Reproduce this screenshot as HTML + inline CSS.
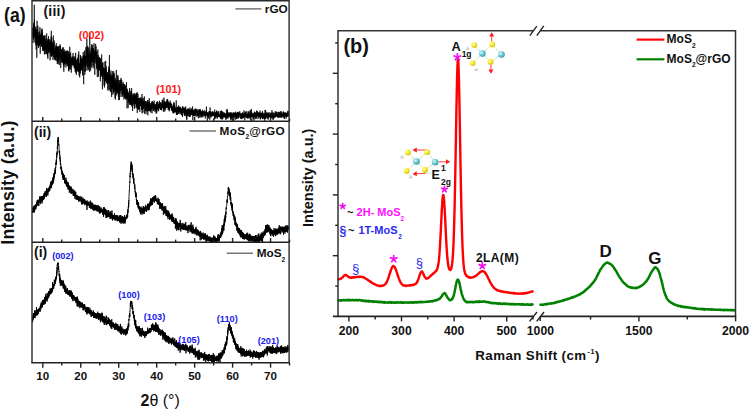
<!DOCTYPE html><html><head><meta charset="utf-8"><style>html,body{margin:0;padding:0;background:#fff;}svg{display:block;}text{font-family:"Liberation Sans",sans-serif;}</style></head><body>
<svg width="750" height="410" viewBox="0 0 750 410">
<rect width="750" height="410" fill="#fff"/>
<defs>
<radialGradient id="gy" cx="0.35" cy="0.35" r="0.7"><stop offset="0" stop-color="#ffffc0"/><stop offset="0.45" stop-color="#f8ec30"/><stop offset="1" stop-color="#d0c010"/></radialGradient>
<radialGradient id="gc" cx="0.35" cy="0.35" r="0.7"><stop offset="0" stop-color="#d8ffff"/><stop offset="0.5" stop-color="#70c8d0"/><stop offset="1" stop-color="#3a98a8"/></radialGradient>
<radialGradient id="gw" cx="0.35" cy="0.35" r="0.7"><stop offset="0" stop-color="#ffffff"/><stop offset="1" stop-color="#a8a8a8"/></radialGradient>
<marker id="ar" viewBox="0 0 6 6" refX="5" refY="3" markerWidth="4" markerHeight="4" orient="auto"><path d="M0,0 L6,3 L0,6 z" fill="#ff2020"/></marker>
</defs>
<clipPath id="c3"><rect x="32.0" y="0.75" width="257.1" height="120.55"/></clipPath>
<clipPath id="c2"><rect x="32.0" y="121.3" width="257.1" height="121.00000000000001"/></clipPath>
<clipPath id="c1"><rect x="32.0" y="242.3" width="257.1" height="120.5"/></clipPath>
<g fill="none" stroke="#000" stroke-linejoin="round">
<polyline points="32.50,33.92 32.58,35.91 32.65,32.27 32.73,28.35 32.80,31.23 32.88,27.83 32.95,34.68 33.03,43.01 33.10,31.25 33.18,30.48 33.25,37.70 33.33,36.90 33.40,35.34 33.48,28.74 33.55,34.60 33.63,39.32 33.70,26.27 33.78,32.03 33.85,22.82 33.93,26.81 34.01,23.34 34.08,33.70 34.16,27.14 34.23,37.06 34.31,4.77 34.38,34.24 34.46,19.41 34.53,32.11 34.61,35.30 34.68,36.39 34.76,25.97 34.83,32.74 34.91,29.61 34.98,30.75 35.06,42.71 35.13,30.88 35.21,35.86 35.28,41.75 35.36,32.48 35.44,35.53 35.51,37.00 35.59,36.76 35.66,28.65 35.74,36.95 35.81,45.13 35.89,26.80 35.96,42.08 36.04,37.46 36.11,32.71 36.19,49.45 36.26,41.69 36.34,29.37 36.41,37.46 36.49,40.69 36.56,35.92 36.64,41.47 36.71,36.81 36.79,57.79 36.86,46.39 36.94,33.17 37.02,38.75 37.09,20.80 37.17,38.39 37.24,30.21 37.32,34.08 37.39,35.54 37.47,43.44 37.54,45.04 37.62,29.66 37.69,33.03 37.77,42.09 37.84,25.68 37.92,35.28 37.99,37.62 38.07,46.11 38.14,42.63 38.22,36.36 38.29,36.16 38.37,36.95 38.45,48.03 38.52,35.96 38.60,36.79 38.67,40.92 38.75,38.04 38.82,37.63 38.90,32.00 38.97,38.89 39.05,36.27 39.12,46.29 39.20,43.17 39.27,39.04 39.35,43.38 39.42,37.21 39.50,45.85 39.57,39.39 39.65,43.08 39.72,31.59 39.80,41.73 39.88,29.28 39.95,27.21 40.03,37.91 40.10,34.31 40.18,40.91 40.25,53.73 40.33,34.92 40.40,36.26 40.48,41.40 40.55,43.22 40.63,39.19 40.70,39.07 40.78,44.69 40.85,43.64 40.93,34.22 41.00,40.11 41.08,40.87 41.15,34.30 41.23,42.37 41.31,35.63 41.38,46.84 41.46,42.16 41.53,41.60 41.61,37.54 41.68,40.48 41.76,29.15 41.83,34.48 41.91,43.61 41.98,28.59 42.06,46.68 42.13,31.07 42.21,46.29 42.28,36.68 42.36,46.58 42.43,42.75 42.51,32.77 42.58,49.66 42.66,50.91 42.74,41.92 42.81,40.76 42.89,41.54 42.96,36.73 43.04,49.29 43.11,39.53 43.19,42.58 43.26,38.23 43.34,39.34 43.41,35.54 43.49,50.83 43.56,42.48 43.64,49.29 43.71,43.69 43.79,39.57 43.86,41.87 43.94,40.59 44.01,44.08 44.09,41.91 44.16,42.46 44.24,36.15 44.32,39.66 44.39,54.41 44.47,40.69 44.54,38.52 44.62,46.89 44.69,53.35 44.77,36.47 44.84,43.96 44.92,41.56 44.99,34.98 45.07,49.86 45.14,45.47 45.22,46.13 45.29,41.36 45.37,48.58 45.44,42.81 45.52,45.24 45.59,39.64 45.67,39.10 45.75,54.22 45.82,43.46 45.90,48.24 45.97,46.41 46.05,44.10 46.12,43.79 46.20,50.54 46.27,45.15 46.35,46.10 46.42,47.19 46.50,54.02 46.57,51.17 46.65,33.37 46.72,44.02 46.80,39.29 46.87,52.96 46.95,53.11 47.02,46.69 47.10,50.72 47.18,52.16 47.25,52.49 47.33,53.05 47.40,45.08 47.48,56.57 47.55,40.57 47.63,52.85 47.70,50.75 47.78,52.98 47.85,58.84 47.93,56.59 48.00,41.39 48.08,38.29 48.15,52.81 48.23,42.26 48.30,48.08 48.38,53.03 48.45,38.73 48.53,36.08 48.61,49.77 48.68,48.56 48.76,46.92 48.83,48.58 48.91,43.44 48.98,39.72 49.06,47.48 49.13,42.89 49.21,39.07 49.28,51.42 49.36,48.19 49.43,50.90 49.51,42.93 49.58,44.86 49.66,42.93 49.73,43.60 49.81,49.81 49.88,44.25 49.96,50.77 50.03,50.70 50.11,60.33 50.19,40.88 50.26,53.90 50.34,48.36 50.41,48.81 50.49,40.67 50.56,46.32 50.64,53.19 50.71,48.53 50.79,49.48 50.86,47.39 50.94,55.63 51.01,48.98 51.09,36.63 51.16,45.23 51.24,38.01 51.31,30.77 51.39,46.24 51.46,56.84 51.54,49.57 51.62,42.69 51.69,44.04 51.77,55.80 51.84,37.78 51.92,49.74 51.99,49.20 52.07,49.75 52.14,54.13 52.22,52.73 52.29,50.87 52.37,43.79 52.44,52.61 52.52,45.89 52.59,55.98 52.67,42.66 52.74,49.10 52.82,49.88 52.89,42.48 52.97,59.71 53.05,58.28 53.12,47.47 53.20,54.47 53.27,52.30 53.35,35.49 53.42,51.66 53.50,49.95 53.57,50.81 53.65,44.32 53.72,48.91 53.80,49.47 53.87,57.20 53.95,52.44 54.02,50.58 54.10,53.47 54.17,47.58 54.25,48.56 54.32,40.59 54.40,59.64 54.48,56.30 54.55,56.08 54.63,54.73 54.70,51.65 54.78,52.28 54.85,49.71 54.93,50.03 55.00,51.53 55.08,59.74 55.15,54.43 55.23,51.04 55.30,48.18 55.38,47.92 55.45,60.48 55.53,54.40 55.60,52.00 55.68,49.74 55.75,45.53 55.83,51.40 55.91,56.70 55.98,49.69 56.06,50.66 56.13,50.75 56.21,52.64 56.28,43.20 56.36,50.82 56.43,47.43 56.51,57.17 56.58,48.00 56.66,55.56 56.73,60.88 56.81,50.71 56.88,49.16 56.96,53.62 57.03,52.60 57.11,47.14 57.18,55.28 57.26,63.97 57.33,51.39 57.41,51.75 57.49,47.13 57.56,54.76 57.64,46.13 57.71,46.96 57.79,60.26 57.86,48.20 57.94,59.27 58.01,61.78 58.09,54.83 58.16,56.52 58.24,64.32 58.31,52.49 58.39,50.36 58.46,46.22 58.54,53.99 58.61,62.00 58.69,59.19 58.76,48.75 58.84,49.29 58.92,51.30 58.99,55.76 59.07,53.08 59.14,55.46 59.22,55.98 59.29,52.76 59.37,54.25 59.44,55.67 59.52,54.14 59.59,57.44 59.67,65.03 59.74,58.06 59.82,55.17 59.89,45.65 59.97,57.13 60.04,44.36 60.12,47.38 60.19,59.89 60.27,59.14 60.35,54.50 60.42,46.00 60.50,53.42 60.57,51.80 60.65,59.08 60.72,68.04 60.80,56.91 60.87,51.51 60.95,49.43 61.02,55.60 61.10,55.00 61.17,49.73 61.25,56.73 61.32,58.95 61.40,62.31 61.47,62.10 61.55,62.28 61.62,53.81 61.70,59.28 61.78,55.80 61.85,54.46 61.93,54.79 62.00,49.61 62.08,48.88 62.15,61.15 62.23,55.83 62.30,58.11 62.38,62.45 62.45,47.59 62.53,52.82 62.60,58.10 62.68,59.33 62.75,55.20 62.83,62.91 62.90,58.50 62.98,50.81 63.05,52.40 63.13,61.89 63.21,60.09 63.28,47.30 63.36,64.99 63.43,60.97 63.51,65.06 63.58,55.73 63.66,56.26 63.73,51.81 63.81,71.73 63.88,57.06 63.96,66.67 64.03,63.44 64.11,59.05 64.18,49.16 64.26,56.19 64.33,63.63 64.41,51.58 64.48,64.20 64.56,60.28 64.63,52.85 64.71,55.84 64.79,56.11 64.86,58.37 64.94,55.79 65.01,54.27 65.09,57.14 65.16,53.29 65.24,51.92 65.31,58.66 65.39,63.73 65.46,50.77 65.54,59.08 65.61,55.61 65.69,53.89 65.76,57.17 65.84,61.59 65.91,67.36 65.99,55.15 66.06,61.47 66.14,58.22 66.22,51.21 66.29,62.69 66.37,58.75 66.44,62.87 66.52,59.42 66.59,53.89 66.67,59.22 66.74,61.04 66.82,65.00 66.89,55.05 66.97,59.75 67.04,50.78 67.12,63.54 67.19,54.31 67.27,50.48 67.34,59.88 67.42,66.16 67.49,52.14 67.57,54.53 67.65,57.81 67.72,54.41 67.80,62.52 67.87,56.23 67.95,56.74 68.02,63.75 68.10,56.66 68.17,63.05 68.25,55.60 68.32,54.37 68.40,51.10 68.47,70.86 68.55,59.28 68.62,62.33 68.70,60.92 68.77,61.98 68.85,61.45 68.92,71.38 69.00,55.75 69.08,53.05 69.15,56.00 69.23,54.33 69.30,65.45 69.38,65.88 69.45,56.47 69.53,54.24 69.60,59.79 69.68,69.10 69.75,46.81 69.83,64.61 69.90,56.17 69.98,67.43 70.05,56.26 70.13,60.51 70.20,54.09 70.28,56.94 70.35,69.50 70.43,66.56 70.51,60.14 70.58,57.71 70.66,52.35 70.73,60.33 70.81,62.30 70.88,62.07 70.96,62.07 71.03,56.69 71.11,62.31 71.18,62.51 71.26,69.57 71.33,72.65 71.41,62.13 71.48,58.87 71.56,62.61 71.63,59.80 71.71,59.14 71.78,62.79 71.86,57.66 71.93,66.39 72.01,62.70 72.09,64.61 72.16,62.39 72.24,59.58 72.31,58.47 72.39,62.25 72.46,60.66 72.54,64.82 72.61,63.62 72.69,56.54 72.76,64.09 72.84,56.75 72.91,60.61 72.99,62.36 73.06,53.08 73.14,64.49 73.21,64.85 73.29,63.29 73.36,61.96 73.44,62.29 73.52,59.19 73.59,62.95 73.67,61.53 73.74,64.96 73.82,58.26 73.89,65.84 73.97,65.42 74.04,64.00 74.12,62.51 74.19,67.75 74.27,56.25 74.34,67.40 74.42,66.33 74.49,66.60 74.57,67.19 74.64,61.85 74.72,63.97 74.79,68.70 74.87,67.69 74.95,66.59 75.02,57.70 75.10,68.44 75.17,71.80 75.25,71.03 75.32,67.04 75.40,57.74 75.47,70.87 75.55,65.23 75.62,52.77 75.70,68.09 75.77,58.32 75.85,59.40 75.92,62.93 76.00,73.03 76.07,70.66 76.15,67.85 76.22,68.99 76.30,74.95 76.38,66.01 76.45,65.32 76.53,59.94 76.60,62.99 76.68,68.98 76.75,68.86 76.83,67.37 76.90,72.13 76.98,62.71 77.05,66.57 77.13,70.81 77.20,70.05 77.28,71.01 77.35,69.08 77.43,65.30 77.50,68.93 77.58,61.58 77.65,58.15 77.73,70.13 77.80,66.70 77.88,68.67 77.96,57.79 78.03,64.99 78.11,63.70 78.18,62.24 78.26,54.64 78.33,65.05 78.41,71.73 78.48,68.88 78.56,63.47 78.63,66.63 78.71,70.80 78.78,51.49 78.86,65.87 78.93,69.48 79.01,70.18 79.08,75.73 79.16,72.56 79.23,67.97 79.31,67.85 79.39,72.58 79.46,63.07 79.54,65.76 79.61,70.94 79.69,77.42 79.76,64.90 79.84,65.45 79.91,66.76 79.99,73.07 80.06,65.36 80.14,73.66 80.21,60.01 80.29,64.30 80.36,55.01 80.44,69.60 80.51,70.98 80.59,56.58 80.66,59.83 80.74,66.78 80.82,61.10 80.89,56.14 80.97,70.48 81.04,67.33 81.12,67.23 81.19,61.67 81.27,70.08 81.34,62.81 81.42,70.29 81.49,58.79 81.57,59.02 81.64,64.93 81.72,59.67 81.79,67.41 81.87,64.94 81.94,58.09 82.02,63.67 82.09,61.14 82.17,68.28 82.25,59.31 82.32,60.31 82.40,69.68 82.47,75.48 82.55,74.01 82.62,62.76 82.70,63.55 82.77,71.04 82.85,61.36 82.92,56.33 83.00,62.55 83.07,64.38 83.15,56.86 83.22,52.01 83.30,53.12 83.37,65.23 83.45,56.85 83.52,60.34 83.60,62.31 83.68,84.25 83.75,58.92 83.83,63.70 83.90,55.49 83.98,58.49 84.05,54.51 84.13,67.08 84.20,60.19 84.28,55.93 84.35,58.12 84.43,58.81 84.50,64.18 84.58,50.56 84.65,53.78 84.73,57.61 84.80,74.77 84.88,65.38 84.95,59.00 85.03,63.84 85.10,71.78 85.18,58.12 85.26,57.29 85.33,66.64 85.41,62.33 85.48,63.34 85.56,56.25 85.63,70.75 85.71,69.43 85.78,62.55 85.86,63.22 85.93,46.90 86.01,62.86 86.08,57.82 86.16,61.55 86.23,63.01 86.31,56.80 86.38,48.61 86.46,60.99 86.53,54.25 86.61,56.69 86.69,54.99 86.76,56.54 86.84,38.68 86.91,65.92 86.99,60.03 87.06,65.22 87.14,70.47 87.21,58.52 87.29,47.34 87.36,52.85 87.44,50.89 87.51,55.17 87.59,67.58 87.66,45.90 87.74,60.24 87.81,48.83 87.89,59.90 87.96,57.37 88.04,56.08 88.12,57.53 88.19,54.63 88.27,54.15 88.34,47.51 88.42,57.69 88.49,69.28 88.57,70.10 88.64,68.18 88.72,62.17 88.79,53.56 88.87,66.72 88.94,57.38 89.02,57.28 89.09,55.88 89.17,58.25 89.24,54.95 89.32,57.13 89.39,65.70 89.47,55.29 89.55,71.92 89.62,57.18 89.70,56.11 89.77,33.34 89.85,62.06 89.92,50.59 90.00,56.29 90.07,63.39 90.15,59.30 90.22,58.37 90.30,67.42 90.37,53.31 90.45,58.12 90.52,54.31 90.60,67.05 90.67,70.73 90.75,53.34 90.82,54.24 90.90,61.83 90.98,61.47 91.05,66.50 91.13,47.56 91.20,62.40 91.28,55.73 91.35,53.35 91.43,61.06 91.50,51.71 91.58,44.29 91.65,55.24 91.73,47.99 91.80,53.44 91.88,60.00 91.95,59.62 92.03,67.84 92.10,56.33 92.18,47.72 92.25,52.74 92.33,51.68 92.40,49.74 92.48,60.44 92.56,53.44 92.63,44.80 92.71,62.15 92.78,56.91 92.86,59.95 92.93,58.32 93.01,61.75 93.08,57.89 93.16,65.71 93.23,60.42 93.31,60.21 93.38,60.33 93.46,48.11 93.53,56.57 93.61,55.95 93.68,59.02 93.76,48.73 93.83,68.40 93.91,58.35 93.99,49.69 94.06,43.25 94.14,55.81 94.21,57.08 94.29,52.93 94.36,58.29 94.44,53.44 94.51,61.33 94.59,52.88 94.66,57.43 94.74,64.19 94.81,74.78 94.89,51.00 94.96,54.61 95.04,52.11 95.11,62.94 95.19,50.07 95.26,54.52 95.34,57.58 95.42,51.27 95.49,51.45 95.57,54.72 95.64,43.88 95.72,48.32 95.79,55.30 95.87,59.14 95.94,56.97 96.02,46.36 96.09,55.25 96.17,63.85 96.24,62.31 96.32,58.12 96.39,52.76 96.47,63.13 96.54,55.05 96.62,51.16 96.69,53.75 96.77,69.14 96.85,60.93 96.92,67.43 97.00,56.43 97.07,66.19 97.15,55.86 97.22,59.02 97.30,77.08 97.37,65.56 97.45,57.11 97.52,60.08 97.60,63.00 97.67,69.13 97.75,57.79 97.82,49.49 97.90,59.51 97.97,61.65 98.05,62.44 98.12,70.72 98.20,64.14 98.27,67.63 98.35,54.93 98.43,68.30 98.50,76.69 98.58,67.97 98.65,64.64 98.73,64.13 98.80,58.46 98.88,57.21 98.95,62.82 99.03,66.78 99.10,68.82 99.18,62.43 99.25,66.20 99.33,62.45 99.40,65.24 99.48,63.71 99.55,57.14 99.63,64.72 99.70,70.81 99.78,58.72 99.86,63.66 99.93,69.78 100.01,58.44 100.08,66.84 100.16,58.76 100.23,73.37 100.31,81.25 100.38,79.45 100.46,64.81 100.53,71.25 100.61,67.31 100.68,67.31 100.76,76.93 100.83,58.24 100.91,73.94 100.98,66.83 101.06,76.50 101.13,68.64 101.21,63.15 101.29,69.48 101.36,72.61 101.44,68.17 101.51,71.25 101.59,64.80 101.66,54.44 101.74,74.32 101.81,73.14 101.89,69.69 101.96,69.30 102.04,75.71 102.11,66.16 102.19,64.68 102.26,68.17 102.34,77.21 102.41,89.31 102.49,77.48 102.56,65.80 102.64,62.96 102.72,78.30 102.79,69.69 102.87,62.08 102.94,68.27 103.02,76.69 103.09,78.49 103.17,68.23 103.24,73.71 103.32,75.81 103.39,67.24 103.47,73.76 103.54,71.42 103.62,68.33 103.69,68.74 103.77,72.43 103.84,72.32 103.92,68.66 103.99,69.67 104.07,85.62 104.15,73.99 104.22,78.38 104.30,80.51 104.37,76.74 104.45,87.51 104.52,68.02 104.60,78.48 104.67,71.48 104.75,85.33 104.82,84.46 104.90,61.52 104.97,67.85 105.05,78.26 105.12,79.16 105.20,78.93 105.27,73.98 105.35,77.39 105.42,78.74 105.50,74.28 105.57,81.30 105.65,60.88 105.73,79.07 105.80,68.78 105.88,81.31 105.95,74.03 106.03,70.04 106.10,78.00 106.18,70.14 106.25,70.25 106.33,66.31 106.40,75.97 106.48,79.31 106.55,82.67 106.63,75.59 106.70,83.04 106.78,76.80 106.85,76.23 106.93,80.43 107.00,83.52 107.08,75.04 107.16,75.75 107.23,76.36 107.31,77.96 107.38,72.06 107.46,83.95 107.53,75.34 107.61,80.70 107.68,72.97 107.76,80.28 107.83,80.58 107.91,75.76 107.98,90.66 108.06,80.77 108.13,89.37 108.21,84.52 108.28,74.83 108.36,76.63 108.43,81.66 108.51,79.50 108.59,79.53 108.66,77.61 108.74,68.58 108.81,78.18 108.89,66.34 108.96,81.95 109.04,75.48 109.11,75.65 109.19,78.71 109.26,81.73 109.34,71.68 109.41,55.00 109.49,74.06 109.56,68.36 109.64,74.84 109.71,90.09 109.79,74.50 109.86,84.69 109.94,72.83 110.02,82.78 110.09,79.22 110.17,80.84 110.24,84.62 110.32,91.68 110.39,82.60 110.47,82.27 110.54,75.93 110.62,85.13 110.69,80.36 110.77,86.74 110.84,81.71 110.92,92.20 110.99,70.60 111.07,80.50 111.14,87.43 111.22,80.36 111.29,77.88 111.37,81.02 111.45,74.66 111.52,83.41 111.60,96.89 111.67,89.49 111.75,76.58 111.82,78.02 111.90,80.80 111.97,88.97 112.05,78.57 112.12,79.40 112.20,88.50 112.27,88.46 112.35,81.45 112.42,77.28 112.50,74.90 112.57,79.83 112.65,71.19 112.72,88.21 112.80,80.44 112.87,86.82 112.95,94.74 113.03,90.86 113.10,77.78 113.18,89.26 113.25,90.95 113.33,74.77 113.40,79.18 113.48,83.99 113.55,75.67 113.63,92.98 113.70,71.30 113.78,78.64 113.85,83.39 113.93,83.68 114.00,85.93 114.08,86.57 114.15,83.92 114.23,91.48 114.30,73.32 114.38,85.25 114.46,81.34 114.53,86.08 114.61,86.61 114.68,80.40 114.76,81.94 114.83,89.90 114.91,87.49 114.98,81.87 115.06,96.86 115.13,98.37 115.21,77.72 115.28,87.43 115.36,99.54 115.43,90.14 115.51,87.10 115.58,84.80 115.66,83.02 115.73,84.85 115.81,83.05 115.89,90.12 115.96,83.96 116.04,83.76 116.11,79.68 116.19,85.96 116.26,95.45 116.34,69.96 116.41,91.94 116.49,88.33 116.56,89.11 116.64,88.34 116.71,86.78 116.79,85.82 116.86,84.89 116.94,90.62 117.01,80.81 117.09,93.78 117.16,86.85 117.24,82.72 117.32,84.14 117.39,83.18 117.47,87.66 117.54,83.04 117.62,92.92 117.69,82.78 117.77,74.95 117.84,83.13 117.92,76.44 117.99,86.84 118.07,92.65 118.14,90.52 118.22,80.15 118.29,83.21 118.37,96.54 118.44,88.94 118.52,87.33 118.59,92.85 118.67,100.16 118.75,94.17 118.82,88.19 118.90,89.35 118.97,90.75 119.05,84.42 119.12,80.01 119.20,87.95 119.27,82.84 119.35,87.45 119.42,88.31 119.50,99.89 119.57,83.54 119.65,87.33 119.72,87.16 119.80,90.28 119.87,93.44 119.95,85.64 120.02,84.00 120.10,79.88 120.17,83.57 120.25,91.06 120.33,88.61 120.40,83.28 120.48,86.59 120.55,88.69 120.63,91.12 120.70,85.64 120.78,84.17 120.85,79.58 120.93,82.99 121.00,96.95 121.08,77.91 121.15,87.24 121.23,90.08 121.30,87.17 121.38,85.06 121.45,88.84 121.53,89.17 121.60,88.84 121.68,79.98 121.76,88.63 121.83,85.18 121.91,86.76 121.98,90.64 122.06,92.74 122.13,94.05 122.21,87.24 122.28,94.28 122.36,95.56 122.43,95.43 122.51,96.72 122.58,89.25 122.66,89.17 122.73,94.11 122.81,83.48 122.88,91.22 122.96,87.67 123.03,88.52 123.11,81.92 123.19,86.11 123.26,90.39 123.34,94.84 123.41,95.39 123.49,90.28 123.56,89.82 123.64,86.79 123.71,92.78 123.79,89.72 123.86,93.87 123.94,99.41 124.01,90.94 124.09,84.01 124.16,87.11 124.24,84.34 124.31,85.65 124.39,97.61 124.46,92.55 124.54,84.33 124.62,94.69 124.69,97.62 124.77,90.03 124.84,88.61 124.92,90.28 124.99,93.28 125.07,95.01 125.14,97.63 125.22,97.83 125.29,97.78 125.37,98.67 125.44,95.47 125.52,85.31 125.59,91.92 125.67,94.07 125.74,90.91 125.82,97.00 125.89,91.18 125.97,88.64 126.04,99.70 126.12,96.17 126.20,94.19 126.27,97.53 126.35,98.24 126.42,95.00 126.50,82.21 126.57,90.49 126.65,91.59 126.72,89.26 126.80,94.76 126.87,99.39 126.95,91.81 127.02,108.32 127.10,103.45 127.17,92.24 127.25,88.77 127.32,95.55 127.40,96.49 127.47,91.45 127.55,98.31 127.63,92.62 127.70,90.75 127.78,95.81 127.85,98.57 127.93,92.33 128.00,96.76 128.08,94.94 128.15,108.12 128.23,92.37 128.30,101.82 128.38,95.48 128.45,95.24 128.53,99.11 128.60,99.97 128.68,101.71 128.75,97.62 128.83,93.58 128.90,93.95 128.98,98.68 129.06,99.08 129.13,102.77 129.21,98.53 129.28,101.44 129.36,103.53 129.43,97.66 129.51,90.49 129.58,91.93 129.66,88.08 129.73,104.24 129.81,93.64 129.88,102.81 129.96,100.07 130.03,105.06 130.11,102.03 130.18,97.30 130.26,96.95 130.33,98.27 130.41,98.73 130.49,95.75 130.56,97.98 130.64,105.14 130.71,90.93 130.79,99.45 130.86,94.51 130.94,99.28 131.01,102.15 131.09,98.37 131.16,101.99 131.24,91.95 131.31,103.54 131.39,96.30 131.46,101.58 131.54,99.77 131.61,88.06 131.69,95.90 131.76,100.10 131.84,105.80 131.92,100.49 131.99,100.41 132.07,93.42 132.14,105.46 132.22,107.08 132.29,99.64 132.37,98.65 132.44,103.53 132.52,103.37 132.59,111.02 132.67,102.76 132.74,105.08 132.82,102.11 132.89,95.80 132.97,105.50 133.04,94.86 133.12,99.15 133.19,101.23 133.27,103.77 133.34,101.88 133.42,101.80 133.50,97.10 133.57,94.97 133.65,100.58 133.72,97.45 133.80,95.04 133.87,95.26 133.95,98.48 134.02,92.95 134.10,95.06 134.17,93.93 134.25,101.38 134.32,102.33 134.40,108.86 134.47,94.68 134.55,98.03 134.62,104.52 134.70,99.98 134.77,99.58 134.85,107.82 134.93,99.61 135.00,96.36 135.08,95.75 135.15,102.42 135.23,102.33 135.30,95.66 135.38,97.24 135.45,103.35 135.53,103.55 135.60,98.72 135.68,103.79 135.75,103.62 135.83,94.31 135.90,100.18 135.98,103.09 136.05,99.22 136.13,93.08 136.20,100.43 136.28,104.54 136.36,107.82 136.43,93.05 136.51,106.41 136.58,97.30 136.66,105.48 136.73,106.59 136.81,105.64 136.88,102.42 136.96,97.36 137.03,104.33 137.11,99.16 137.18,92.20 137.26,112.94 137.33,104.76 137.41,109.07 137.48,98.58 137.56,107.77 137.63,108.26 137.71,108.15 137.79,102.14 137.86,97.65 137.94,95.28 138.01,93.91 138.09,95.87 138.16,102.73 138.24,98.65 138.31,109.17 138.39,102.07 138.46,109.82 138.54,107.45 138.61,102.41 138.69,107.17 138.76,99.71 138.84,101.41 138.91,106.12 138.99,98.08 139.06,101.72 139.14,97.86 139.22,103.27 139.29,108.95 139.37,100.09 139.44,103.76 139.52,99.62 139.59,98.72 139.67,98.44 139.74,108.43 139.82,111.80 139.89,104.89 139.97,100.50 140.04,105.76 140.12,101.97 140.19,106.17 140.27,104.32 140.34,104.31 140.42,105.54 140.49,101.23 140.57,101.91 140.64,97.15 140.72,101.83 140.80,102.58 140.87,102.97 140.95,100.06 141.02,103.92 141.10,105.22 141.17,98.50 141.25,100.72 141.32,100.28 141.40,106.37 141.47,109.84 141.55,106.80 141.62,102.54 141.70,109.03 141.77,98.45 141.85,109.20 141.92,101.57 142.00,94.07 142.07,113.33 142.15,109.56 142.23,100.37 142.30,104.63 142.38,103.31 142.45,104.45 142.53,98.91 142.60,101.76 142.68,105.81 142.75,104.98 142.83,108.41 142.90,104.53 142.98,112.45 143.05,101.82 143.13,105.23 143.20,97.72 143.28,100.05 143.35,109.00 143.43,101.19 143.50,106.29 143.58,104.28 143.66,100.93 143.73,103.35 143.81,102.81 143.88,102.93 143.96,107.19 144.03,106.87 144.11,102.71 144.18,101.61 144.26,105.68 144.33,104.41 144.41,96.43 144.48,113.76 144.56,107.66 144.63,104.73 144.71,104.29 144.78,102.02 144.86,101.89 144.93,101.59 145.01,103.65 145.09,103.57 145.16,107.50 145.24,103.72 145.31,104.42 145.39,101.06 145.46,110.57 145.54,106.83 145.61,111.08 145.69,107.83 145.76,110.13 145.84,104.44 145.91,107.63 145.99,114.16 146.06,101.33 146.14,109.19 146.21,110.91 146.29,106.77 146.36,107.91 146.44,109.60 146.52,103.31 146.59,106.85 146.67,102.66 146.74,103.33 146.82,103.55 146.89,105.13 146.97,106.11 147.04,107.13 147.12,101.04 147.19,112.17 147.27,109.49 147.34,108.11 147.42,104.60 147.49,105.50 147.57,107.59 147.64,107.17 147.72,100.43 147.79,108.27 147.87,115.30 147.94,99.98 148.02,109.15 148.10,107.16 148.17,105.64 148.25,110.40 148.32,102.26 148.40,106.58 148.47,110.74 148.55,105.47 148.62,104.79 148.70,106.50 148.77,104.75 148.85,111.07 148.92,103.33 149.00,108.97 149.07,102.29 149.15,108.36 149.22,105.94 149.30,98.20 149.37,106.29 149.45,102.99 149.53,104.96 149.60,111.15 149.68,102.90 149.75,103.10 149.83,110.87 149.90,106.78 149.98,111.19 150.05,107.45 150.13,103.75 150.20,106.28 150.28,110.28 150.35,109.41 150.43,106.53 150.50,110.31 150.58,106.21 150.65,104.79 150.73,112.51 150.80,106.61 150.88,103.14 150.96,105.16 151.03,108.86 151.11,108.61 151.18,106.24 151.26,104.63 151.33,106.76 151.41,101.59 151.48,102.74 151.56,109.17 151.63,105.28 151.71,107.90 151.78,110.49 151.86,108.77 151.93,106.86 152.01,113.29 152.08,108.86 152.16,105.76 152.23,109.08 152.31,108.11 152.39,104.28 152.46,107.11 152.54,106.41 152.61,100.96 152.69,106.41 152.76,106.09 152.84,105.63 152.91,101.99 152.99,105.91 153.06,106.87 153.14,107.31 153.21,103.59 153.29,108.94 153.36,103.38 153.44,106.38 153.51,110.99 153.59,104.99 153.66,105.55 153.74,110.32 153.81,105.95 153.89,106.22 153.97,107.79 154.04,110.28 154.12,100.54 154.19,104.67 154.27,107.69 154.34,103.93 154.42,104.62 154.49,104.68 154.57,108.10 154.64,104.55 154.72,107.58 154.79,108.41 154.87,105.06 154.94,107.62 155.02,112.10 155.09,108.20 155.17,105.36 155.24,107.06 155.32,104.55 155.40,108.07 155.47,109.82 155.55,104.86 155.62,106.66 155.70,110.57 155.77,105.82 155.85,107.84 155.92,104.28 156.00,104.88 156.07,105.79 156.15,113.56 156.22,106.12 156.30,105.78 156.37,102.00 156.45,106.82 156.52,109.18 156.60,107.84 156.67,113.19 156.75,107.90 156.83,111.43 156.90,108.07 156.98,109.00 157.05,103.14 157.13,106.89 157.20,107.05 157.28,107.62 157.35,101.08 157.43,109.73 157.50,106.10 157.58,105.94 157.65,106.45 157.73,106.51 157.80,108.31 157.88,103.52 157.95,104.47 158.03,107.93 158.10,107.50 158.18,106.00 158.26,105.43 158.33,104.67 158.41,106.86 158.48,110.34 158.56,103.99 158.63,111.27 158.71,109.33 158.78,105.65 158.86,109.12 158.93,102.76 159.01,101.99 159.08,103.22 159.16,105.68 159.23,105.90 159.31,105.35 159.38,107.06 159.46,100.76 159.53,108.14 159.61,102.74 159.69,104.86 159.76,105.54 159.84,103.44 159.91,102.82 159.99,103.83 160.06,106.60 160.14,108.26 160.21,108.18 160.29,103.80 160.36,104.36 160.44,103.98 160.51,107.79 160.59,102.16 160.66,109.95 160.74,105.13 160.81,104.28 160.89,107.39 160.96,109.30 161.04,107.36 161.11,109.31 161.19,106.74 161.27,106.91 161.34,109.78 161.42,106.04 161.49,110.28 161.57,106.73 161.64,106.49 161.72,103.68 161.79,105.41 161.87,108.33 161.94,102.54 162.02,107.94 162.09,107.08 162.17,106.86 162.24,100.00 162.32,105.77 162.39,107.82 162.47,103.91 162.54,106.24 162.62,99.43 162.70,107.79 162.77,104.10 162.85,108.29 162.92,100.82 163.00,107.75 163.07,105.18 163.15,108.02 163.22,103.26 163.30,104.07 163.37,111.87 163.45,103.46 163.52,103.77 163.60,104.92 163.67,102.87 163.75,108.88 163.82,110.31 163.90,103.68 163.97,97.55 164.05,108.74 164.13,108.54 164.20,107.74 164.28,108.63 164.35,103.12 164.43,101.21 164.50,101.68 164.58,101.57 164.65,108.05 164.73,101.93 164.80,111.52 164.88,105.54 164.95,103.59 165.03,107.46 165.10,110.14 165.18,106.58 165.25,101.97 165.33,106.24 165.40,108.92 165.48,103.88 165.56,103.11 165.63,107.91 165.71,105.54 165.78,102.19 165.86,104.12 165.93,103.10 166.01,105.91 166.08,105.40 166.16,108.17 166.23,106.98 166.31,100.89 166.38,106.15 166.46,107.45 166.53,106.26 166.61,107.79 166.68,103.57 166.76,102.49 166.83,107.50 166.91,102.18 166.99,99.27 167.06,107.73 167.14,103.08 167.21,104.19 167.29,101.29 167.36,101.48 167.44,101.93 167.51,104.05 167.59,105.98 167.66,98.93 167.74,107.01 167.81,101.90 167.89,102.22 167.96,106.83 168.04,104.86 168.11,101.02 168.19,109.95 168.26,102.83 168.34,105.77 168.41,105.67 168.49,108.87 168.57,103.98 168.64,107.85 168.72,103.28 168.79,108.20 168.87,103.28 168.94,104.36 169.02,110.30 169.09,106.20 169.17,105.69 169.24,111.29 169.32,106.41 169.39,103.37 169.47,107.45 169.54,102.49 169.62,108.55 169.69,108.79 169.77,104.19 169.84,104.09 169.92,106.22 170.00,105.84 170.07,103.30 170.15,107.36 170.22,100.63 170.30,104.85 170.37,104.97 170.45,105.36 170.52,106.91 170.60,102.98 170.67,107.73 170.75,105.79 170.82,104.62 170.90,102.82 170.97,103.34 171.05,107.38 171.12,104.01 171.20,106.71 171.27,109.33 171.35,109.30 171.43,110.71 171.50,105.99 171.58,104.01 171.65,109.47 171.73,107.70 171.80,109.84 171.88,107.04 171.95,110.12 172.03,109.28 172.10,109.00 172.18,108.51 172.25,108.29 172.33,107.92 172.40,107.95 172.48,109.95 172.55,106.17 172.63,111.95 172.70,107.31 172.78,110.14 172.86,107.46 172.93,107.11 173.01,112.95 173.08,107.05 173.16,104.65 173.23,106.13 173.31,107.19 173.38,113.50 173.46,108.61 173.53,110.50 173.61,105.65 173.68,102.29 173.76,109.98 173.83,112.87 173.91,106.62 173.98,109.94 174.06,109.22 174.13,105.93 174.21,108.50 174.28,107.93 174.36,102.79 174.44,110.18 174.51,110.07 174.59,107.28 174.66,105.44 174.74,112.54 174.81,109.54 174.89,111.45 174.96,112.47 175.04,107.67 175.11,111.04 175.19,108.44 175.26,108.92 175.34,108.89 175.41,109.13 175.49,111.93 175.56,109.50 175.64,108.83 175.71,108.55 175.79,110.11 175.87,107.07 175.94,108.07 176.02,109.21 176.09,107.96 176.17,109.10 176.24,100.40 176.32,114.40 176.39,112.75 176.47,110.60 176.54,109.38 176.62,114.95 176.69,110.36 176.77,109.38 176.84,110.36 176.92,110.39 176.99,113.13 177.07,109.64 177.14,114.87 177.22,107.57 177.30,111.46 177.37,107.33 177.45,114.26 177.52,109.02 177.60,109.71 177.67,112.14 177.75,112.97 177.82,107.42 177.90,109.10 177.97,106.57 178.05,110.33 178.12,109.77 178.20,109.19 178.27,108.40 178.35,109.15 178.42,108.29 178.50,111.42 178.57,113.84 178.65,105.49 178.73,109.92 178.80,109.21 178.88,111.44 178.95,107.96 179.03,109.93 179.10,107.80 179.18,112.01 179.25,110.59 179.33,109.98 179.40,111.29 179.48,109.82 179.55,106.69 179.63,111.89 179.70,111.17 179.78,110.13 179.85,112.89 179.93,113.47 180.00,107.94 180.08,108.71 180.16,114.31 180.23,114.02 180.31,108.88 180.38,107.84 180.46,109.16 180.53,109.51 180.61,106.94 180.68,110.82 180.76,107.71 180.83,107.90 180.91,112.98 180.98,109.19 181.06,110.67 181.13,112.35 181.21,112.81 181.28,110.09 181.36,111.02 181.43,108.97 181.51,115.09 181.58,112.51 181.66,108.37 181.74,111.01 181.81,112.71 181.89,112.17 181.96,115.38 182.04,114.31 182.11,109.82 182.19,110.90 182.26,108.11 182.34,111.73 182.41,111.52 182.49,116.98 182.56,111.42 182.64,106.30 182.71,109.65 182.79,106.53 182.86,108.32 182.94,109.24 183.01,110.44 183.09,112.11 183.17,110.94 183.24,109.26 183.32,113.19 183.39,110.11 183.47,110.22 183.54,108.18 183.62,109.58 183.69,112.94 183.77,107.68 183.84,111.29 183.92,113.14 183.99,110.61 184.07,112.06 184.14,108.93 184.22,114.56 184.29,114.09 184.37,115.86 184.44,107.51 184.52,109.17 184.60,113.85 184.67,115.56 184.75,112.30 184.82,114.51 184.90,110.25 184.97,111.22 185.05,111.67 185.12,112.65 185.20,108.18 185.27,113.86 185.35,114.75 185.42,109.10 185.50,108.64 185.57,112.55 185.65,110.27 185.72,106.36 185.80,113.63 185.87,112.15 185.95,110.72 186.03,116.64 186.10,112.14 186.18,110.12 186.25,112.08 186.33,109.49 186.40,110.14 186.48,112.76 186.55,110.63 186.63,119.45 186.70,115.69 186.78,119.68 186.85,113.74 186.93,113.13 187.00,113.04 187.08,115.24 187.15,111.92 187.23,116.16 187.30,109.84 187.38,111.42 187.46,108.90 187.53,111.24 187.61,113.18 187.68,115.29 187.76,110.55 187.83,112.06 187.91,111.25 187.98,110.41 188.06,109.41 188.13,112.21 188.21,108.21 188.28,112.34 188.36,112.15 188.43,110.64 188.51,109.86 188.58,109.04 188.66,116.30 188.73,109.16 188.81,115.61 188.88,113.49 188.96,111.36 189.04,109.60 189.11,114.49 189.19,116.02 189.26,110.13 189.34,111.54 189.41,114.54 189.49,112.96 189.56,116.64 189.64,110.97 189.71,113.43 189.79,109.49 189.86,116.87 189.94,110.65 190.01,107.41 190.09,112.00 190.16,111.97 190.24,116.49 190.31,111.55 190.39,112.27 190.47,113.61 190.54,115.79 190.62,112.18 190.69,114.60 190.77,113.47 190.84,111.69 190.92,112.52 190.99,112.42 191.07,110.37 191.14,115.01 191.22,109.36 191.29,114.93 191.37,108.42 191.44,112.19 191.52,110.74 191.59,111.92 191.67,113.44 191.74,114.03 191.82,113.05 191.90,114.58 191.97,111.23 192.05,112.95 192.12,109.07 192.20,114.10 192.27,112.79 192.35,111.58 192.42,114.98 192.50,113.97 192.57,106.44 192.65,112.58 192.72,109.38 192.80,120.08 192.87,117.85 192.95,111.41 193.02,112.69 193.10,112.00 193.17,113.29 193.25,113.92 193.33,115.30 193.40,110.45 193.48,115.91 193.55,110.59 193.63,113.17 193.70,115.05 193.78,114.11 193.85,110.60 193.93,111.11 194.00,111.63 194.08,112.51 194.15,115.05 194.23,109.90 194.30,113.62 194.38,113.93 194.45,113.83 194.53,114.42 194.60,115.86 194.68,113.70 194.76,114.48 194.83,113.87 194.91,116.46 194.98,108.71 195.06,115.39 195.13,112.16 195.21,112.13 195.28,110.69 195.36,108.82 195.43,111.94 195.51,111.31 195.58,113.78 195.66,109.69 195.73,115.75 195.81,112.98 195.88,112.26 195.96,108.71 196.03,111.16 196.11,110.45 196.18,111.68 196.26,112.83 196.34,112.46 196.41,109.73 196.49,112.29 196.56,111.00 196.64,113.18 196.71,116.71 196.79,114.16 196.86,112.23 196.94,109.53 197.01,109.97 197.09,109.42 197.16,114.40 197.24,111.34 197.31,113.05 197.39,111.65 197.46,113.12 197.54,115.81 197.61,111.54 197.69,112.26 197.77,111.31 197.84,114.76 197.92,110.88 197.99,110.67 198.07,110.16 198.14,115.61 198.22,113.96 198.29,118.24 198.37,111.00 198.44,114.96 198.52,113.54 198.59,110.81 198.67,112.49 198.74,112.59 198.82,111.67 198.89,116.98 198.97,109.23 199.04,113.86 199.12,113.76 199.20,111.93 199.27,113.41 199.35,114.88 199.42,113.43 199.50,113.97 199.57,114.53 199.65,109.07 199.72,116.12 199.80,117.73 199.87,115.13 199.95,115.20 200.02,110.36 200.10,112.95 200.17,111.57 200.25,112.03 200.32,115.14 200.40,111.61 200.47,112.96 200.55,109.42 200.63,112.92 200.70,113.43 200.78,111.85 200.85,111.82 200.93,117.04 201.00,110.86 201.08,111.18 201.15,111.67 201.23,115.69 201.30,117.50 201.38,113.98 201.45,111.89 201.53,112.47 201.60,115.46 201.68,111.52 201.75,116.25 201.83,116.18 201.90,113.50 201.98,114.66 202.05,114.87 202.13,116.49 202.21,111.29 202.28,115.76 202.36,112.66 202.43,111.88 202.51,115.65 202.58,113.00 202.66,109.69 202.73,110.26 202.81,111.57 202.88,116.35 202.96,117.38 203.03,114.77 203.11,115.84 203.18,112.46 203.26,113.34 203.33,111.28 203.41,111.35 203.48,111.54 203.56,113.72 203.64,112.89 203.71,111.42 203.79,114.32 203.86,113.03 203.94,115.59 204.01,113.56 204.09,112.98 204.16,113.84 204.24,113.25 204.31,112.27 204.39,112.80 204.46,115.10 204.54,114.91 204.61,116.19 204.69,110.27 204.76,112.86 204.84,112.82 204.91,112.22 204.99,112.76 205.07,112.65 205.14,115.23 205.22,114.04 205.29,111.37 205.37,118.53 205.44,115.69 205.52,112.57 205.59,115.37 205.67,112.27 205.74,115.97 205.82,113.31 205.89,112.16 205.97,113.02 206.04,112.24 206.12,114.15 206.19,114.13 206.27,113.86 206.34,112.69 206.42,106.53 206.50,113.99 206.57,110.05 206.65,114.31 206.72,116.08 206.80,114.38 206.87,113.07 206.95,113.50 207.02,113.60 207.10,112.78 207.17,112.72 207.25,112.05 207.32,123.47 207.40,113.87 207.47,115.81 207.55,113.42 207.62,114.07 207.70,113.60 207.77,114.86 207.85,115.59 207.93,114.43 208.00,112.63 208.08,112.43 208.15,117.27 208.23,113.43 208.30,113.42 208.38,116.91 208.45,116.17 208.53,115.08 208.60,113.24 208.68,118.70 208.75,114.83 208.83,115.14 208.90,113.73 208.98,111.27 209.05,111.44 209.13,114.90 209.20,114.87 209.28,113.63 209.35,111.80 209.43,111.27 209.51,113.48 209.58,111.26 209.66,115.93 209.73,116.44 209.81,119.76 209.88,115.91 209.96,113.01 210.03,112.47 210.11,107.37 210.18,113.03 210.26,113.87 210.33,111.85 210.41,115.44 210.48,115.40 210.56,114.67 210.63,115.56 210.71,117.13 210.78,112.17 210.86,113.38 210.94,111.55 211.01,117.50 211.09,116.87 211.16,115.80 211.24,111.96 211.31,114.68 211.39,113.88 211.46,114.51 211.54,113.99 211.61,115.39 211.69,113.60 211.76,116.07 211.84,114.73 211.91,113.82 211.99,114.19 212.06,113.55 212.14,116.03 212.21,113.90 212.29,115.02 212.37,113.67 212.44,111.53 212.52,116.25 212.59,112.38 212.67,115.82 212.74,115.31 212.82,111.23 212.89,112.64 212.97,113.49 213.04,112.90 213.12,112.19 213.19,115.99 213.27,114.07 213.34,115.31 213.42,113.70 213.49,115.16 213.57,113.09 213.64,114.52 213.72,115.73 213.80,114.68 213.87,113.69 213.95,112.46 214.02,114.94 214.10,115.29 214.17,114.11 214.25,113.11 214.32,115.70 214.40,119.53 214.47,114.05 214.55,115.32 214.62,115.40 214.70,109.62 214.77,114.92 214.85,113.29 214.92,117.41 215.00,114.19 215.07,113.17 215.15,114.27 215.23,115.04 215.30,113.61 215.38,114.62 215.45,112.06 215.53,114.29 215.60,116.26 215.68,118.61 215.75,116.14 215.83,115.29 215.90,117.08 215.98,116.76 216.05,118.04 216.13,116.90 216.20,114.55 216.28,115.29 216.35,113.50 216.43,115.38 216.50,112.12 216.58,113.26 216.65,110.67 216.73,113.49 216.81,110.83 216.88,114.95 216.96,114.83 217.03,111.54 217.11,116.18 217.18,116.53 217.26,115.02 217.33,118.11 217.41,118.52 217.48,112.48 217.56,116.89 217.63,115.72 217.71,115.68 217.78,116.70 217.86,113.46 217.93,113.71 218.01,113.26 218.08,113.40 218.16,114.69 218.24,112.05 218.31,112.85 218.39,116.03 218.46,114.76 218.54,117.07 218.61,111.21 218.69,113.38 218.76,113.83 218.84,114.99 218.91,113.78 218.99,116.76 219.06,116.83 219.14,114.97 219.21,114.97 219.29,116.33 219.36,114.03 219.44,117.15 219.51,115.86 219.59,115.26 219.67,115.05 219.74,115.99 219.82,116.96 219.89,116.83 219.97,115.72 220.04,116.70 220.12,115.22 220.19,117.44 220.27,114.95 220.34,110.95 220.42,117.62 220.49,115.22 220.57,112.73 220.64,114.63 220.72,113.29 220.79,119.13 220.87,116.00 220.94,111.97 221.02,116.10 221.10,114.26 221.17,118.79 221.25,112.99 221.32,110.66 221.40,115.18 221.47,114.38 221.55,114.25 221.62,110.89 221.70,115.90 221.77,118.34 221.85,111.35 221.92,117.37 222.00,113.97 222.07,119.67 222.15,115.94 222.22,114.73 222.30,117.25 222.37,116.13 222.45,113.95 222.53,116.49 222.60,114.12 222.68,111.63 222.75,119.08 222.83,114.44 222.90,113.94 222.98,115.79 223.05,112.09 223.13,112.50 223.20,114.16 223.28,114.13 223.35,115.28 223.43,117.33 223.50,114.23 223.58,116.11 223.65,116.33 223.73,113.05 223.80,115.61 223.88,113.33 223.95,117.24 224.03,116.06 224.11,115.21 224.18,112.57 224.26,115.41 224.33,113.69 224.41,116.56 224.48,114.96 224.56,113.61 224.63,117.00 224.71,116.60 224.78,114.05 224.86,117.46 224.93,114.63 225.01,114.61 225.08,115.45 225.16,113.75 225.23,114.36 225.31,114.91 225.38,118.19 225.46,118.14 225.54,114.72 225.61,118.36 225.69,115.15 225.76,115.97 225.84,116.95 225.91,115.80 225.99,119.93 226.06,115.71 226.14,112.92 226.21,117.78 226.29,114.45 226.36,114.66 226.44,109.44 226.51,117.20 226.59,116.84 226.66,116.81 226.74,117.16 226.81,118.54 226.89,115.17 226.97,117.08 227.04,113.82 227.12,114.58 227.19,117.32 227.27,116.03 227.34,112.69 227.42,115.97 227.49,109.33 227.57,113.69 227.64,116.12 227.72,114.50 227.79,112.24 227.87,113.13 227.94,118.71 228.02,112.35 228.09,115.72 228.17,116.47 228.24,116.53 228.32,112.91 228.40,114.67 228.47,115.56 228.55,116.84 228.62,114.04 228.70,113.04 228.77,117.23 228.85,117.43 228.92,116.01 229.00,114.12 229.07,116.08 229.15,115.51 229.22,116.92 229.30,112.88 229.37,115.52 229.45,114.99 229.52,113.15 229.60,115.72 229.67,115.37 229.75,114.51 229.82,116.07 229.90,112.56 229.98,115.20 230.05,116.13 230.13,115.85 230.20,117.38 230.28,112.98 230.35,112.39 230.43,115.76 230.50,116.18 230.58,119.40 230.65,116.49 230.73,113.61 230.80,116.86 230.88,113.67 230.95,112.43 231.03,120.34 231.10,115.93 231.18,116.68 231.25,116.39 231.33,118.80 231.41,115.85 231.48,117.65 231.56,113.32 231.63,112.61 231.71,118.05 231.78,114.05 231.86,116.29 231.93,115.74 232.01,115.62 232.08,113.97 232.16,118.27 232.23,116.57 232.31,116.28 232.38,116.03 232.46,121.76 232.53,116.27 232.61,116.74 232.68,113.05 232.76,116.28 232.84,119.51 232.91,114.30 232.99,115.05 233.06,117.02 233.14,117.14 233.21,116.50 233.29,112.18 233.36,116.27 233.44,113.02 233.51,113.71 233.59,116.36 233.66,114.73 233.74,116.86 233.81,121.36 233.89,116.80 233.96,117.77 234.04,113.58 234.11,114.06 234.19,113.25 234.27,114.28 234.34,113.20 234.42,114.03 234.49,114.90 234.57,113.38 234.64,112.57 234.72,112.68 234.79,116.17 234.87,115.41 234.94,117.27 235.02,117.31 235.09,114.65 235.17,116.59 235.24,112.53 235.32,119.69 235.39,117.60 235.47,114.89 235.54,113.07 235.62,116.03 235.70,111.71 235.77,113.80 235.85,116.74 235.92,115.44 236.00,114.36 236.07,117.13 236.15,113.31 236.22,115.85 236.30,114.34 236.37,113.67 236.45,116.19 236.52,113.39 236.60,118.95 236.67,114.18 236.75,119.12 236.82,113.20 236.90,116.46 236.97,113.00 237.05,112.73 237.12,115.61 237.20,116.60 237.28,112.86 237.35,117.57 237.43,113.77 237.50,115.55 237.58,116.03 237.65,116.44 237.73,111.86 237.80,118.40 237.88,116.38 237.95,114.48 238.03,113.34 238.10,112.06 238.18,112.69 238.25,116.34 238.33,114.65 238.40,113.13 238.48,114.29 238.55,118.29 238.63,114.67 238.71,114.18 238.78,117.88 238.86,116.18 238.93,117.23 239.01,114.14 239.08,112.33 239.16,113.06 239.23,114.38 239.31,114.88 239.38,115.98 239.46,116.36 239.53,115.73 239.61,115.72 239.68,113.37 239.76,111.18 239.83,114.30 239.91,113.48 239.98,114.05 240.06,114.78 240.14,112.92 240.21,113.18 240.29,115.11 240.36,115.52 240.44,114.05 240.51,116.25 240.59,114.88 240.66,113.35 240.74,115.38 240.81,118.89 240.89,114.01 240.96,115.50 241.04,117.93 241.11,118.16 241.19,113.73 241.26,119.15 241.34,115.52 241.41,114.82 241.49,114.86 241.57,116.45 241.64,115.40 241.72,114.96 241.79,117.75 241.87,113.92 241.94,113.31 242.02,116.81 242.09,116.64 242.17,117.39 242.24,113.26 242.32,117.36 242.39,116.22 242.47,118.66 242.54,112.92 242.62,115.72 242.69,114.77 242.77,112.27 242.84,113.94 242.92,117.45 243.00,114.41 243.07,113.92 243.15,116.95 243.22,117.18 243.30,117.18 243.37,113.80 243.45,115.19 243.52,117.26 243.60,114.05 243.67,113.87 243.75,116.88 243.82,118.27 243.90,113.11 243.97,110.36 244.05,112.54 244.12,113.37 244.20,115.04 244.27,116.47 244.35,115.02 244.42,113.97 244.50,115.59 244.58,113.47 244.65,115.21 244.73,114.08 244.80,120.39 244.88,116.85 244.95,113.71 245.03,113.41 245.10,114.47 245.18,112.18 245.25,113.91 245.33,113.90 245.40,116.98 245.48,114.49 245.55,113.80 245.63,112.75 245.70,111.50 245.78,115.17 245.85,114.89 245.93,117.45 246.01,115.70 246.08,117.31 246.16,115.79 246.23,113.29 246.31,111.49 246.38,112.85 246.46,116.71 246.53,117.95 246.61,115.69 246.68,116.75 246.76,114.53 246.83,114.60 246.91,114.04 246.98,117.15 247.06,115.95 247.13,114.86 247.21,114.68 247.28,116.35 247.36,115.91 247.44,113.72 247.51,118.55 247.59,115.79 247.66,115.32 247.74,118.10 247.81,117.24 247.89,115.13 247.96,116.31 248.04,113.27 248.11,114.09 248.19,111.02 248.26,117.61 248.34,111.71 248.41,116.59 248.49,113.73 248.56,113.45 248.64,114.93 248.71,115.80 248.79,116.46 248.87,118.65 248.94,115.98 249.02,116.97 249.09,114.17 249.17,116.65 249.24,115.59 249.32,114.42 249.39,115.12 249.47,115.18 249.54,115.66 249.62,116.06 249.69,114.34 249.77,113.90 249.84,116.71 249.92,112.10 249.99,114.13 250.07,118.23 250.14,110.19 250.22,113.99 250.29,116.60 250.37,112.18 250.45,120.20 250.52,110.41 250.60,118.01 250.67,118.24 250.75,117.03 250.82,114.88 250.90,115.97 250.97,113.61 251.05,116.83 251.12,113.19 251.20,114.78 251.27,117.18 251.35,108.92 251.42,114.61 251.50,115.61 251.57,112.77 251.65,117.49 251.72,115.94 251.80,112.44 251.88,115.21 251.95,113.83 252.03,114.06 252.10,115.44 252.18,113.96 252.25,117.11 252.33,113.97 252.40,117.14 252.48,115.21 252.55,116.90 252.63,114.27 252.70,114.34 252.78,113.12 252.85,116.38 252.93,117.05 253.00,119.28 253.08,117.72 253.15,115.76 253.23,114.89 253.31,116.02 253.38,115.23 253.46,118.04 253.53,116.93 253.61,113.71 253.68,113.99 253.76,117.85 253.83,115.86 253.91,114.85 253.98,120.76 254.06,114.55 254.13,114.75 254.21,114.41 254.28,111.59 254.36,116.90 254.43,113.01 254.51,114.21 254.58,113.88 254.66,116.64 254.74,115.15 254.81,115.30 254.89,112.12 254.96,115.11 255.04,112.50 255.11,115.85 255.19,115.96 255.26,115.24 255.34,119.10 255.41,116.26 255.49,116.38 255.56,115.53 255.64,114.90 255.71,117.08 255.79,117.33 255.86,112.82 255.94,117.24 256.01,116.22 256.09,117.06 256.17,116.13 256.24,112.92 256.32,113.06 256.39,118.68 256.47,115.73 256.54,112.60 256.62,115.90 256.69,110.62 256.77,111.80 256.84,110.96 256.92,112.24 256.99,115.76 257.07,115.16 257.14,114.78 257.22,115.78 257.29,116.37 257.37,111.30 257.44,114.68 257.52,113.69 257.59,112.93 257.67,114.21 257.75,115.01 257.82,114.74 257.90,116.30 257.97,114.33 258.05,119.00 258.12,113.26 258.20,112.07 258.27,115.74 258.35,116.34 258.42,116.09 258.50,113.13 258.57,117.09 258.65,113.75 258.72,113.10 258.80,114.08 258.87,115.01 258.95,116.55 259.02,116.38 259.10,115.17 259.18,116.96 259.25,115.36 259.33,116.88 259.40,112.59 259.48,112.27 259.55,116.66 259.63,112.61 259.70,114.64 259.78,115.02 259.85,114.29 259.93,114.35 260.00,117.80 260.08,110.48 260.15,116.85 260.23,119.48 260.30,115.24 260.38,115.16 260.45,116.55 260.53,118.60 260.61,112.97 260.68,115.35 260.76,114.84 260.83,116.23 260.91,115.48 260.98,116.41 261.06,114.39 261.13,115.27 261.21,113.93 261.28,113.94 261.36,114.91 261.43,114.91 261.51,112.99 261.58,118.09 261.66,114.92 261.73,112.59 261.81,117.22 261.88,113.77 261.96,116.11 262.04,115.13 262.11,115.63 262.19,115.48 262.26,114.09 262.34,115.23 262.41,118.94 262.49,110.99 262.56,115.27 262.64,115.96 262.71,113.19 262.79,112.60 262.86,119.16 262.94,114.45 263.01,119.01 263.09,116.14 263.16,115.28 263.24,116.02 263.31,116.32 263.39,117.33 263.47,115.94 263.54,115.40 263.62,115.46 263.69,117.64 263.77,116.64 263.84,113.26 263.92,113.94 263.99,115.74 264.07,113.96 264.14,114.42 264.22,113.34 264.29,114.63 264.37,115.90 264.44,116.96 264.52,115.13 264.59,118.96 264.67,114.97 264.74,121.03 264.82,116.96 264.89,116.03 264.97,114.18 265.05,109.86 265.12,114.81 265.20,115.43 265.27,118.66 265.35,112.54 265.42,118.63 265.50,114.63 265.57,118.88 265.65,110.38 265.72,115.34 265.80,114.45 265.87,116.35 265.95,115.25 266.02,112.96 266.10,116.83 266.17,116.36 266.25,116.18 266.32,116.94 266.40,117.11 266.48,115.03 266.55,112.55 266.63,112.50 266.70,117.57 266.78,116.38 266.85,115.25 266.93,114.26 267.00,115.12 267.08,115.10 267.15,114.43 267.23,113.76 267.30,119.06 267.38,115.48 267.45,113.93 267.53,112.64 267.60,113.71 267.68,116.38 267.75,116.45 267.83,114.64 267.91,115.14 267.98,114.48 268.06,112.99 268.13,117.44 268.21,115.72 268.28,119.61 268.36,113.64 268.43,114.78 268.51,116.66 268.58,114.58 268.66,112.46 268.73,113.27 268.81,115.21 268.88,115.66 268.96,114.85 269.03,116.87 269.11,116.85 269.18,115.61 269.26,115.06 269.34,114.55 269.41,116.03 269.49,116.71 269.56,115.12 269.64,115.84 269.71,114.41 269.79,112.40 269.86,113.16 269.94,116.41 270.01,115.82 270.09,117.93 270.16,115.10 270.24,116.59 270.31,117.43 270.39,116.83 270.46,113.87 270.54,114.65 270.61,115.23 270.69,113.17 270.77,115.86 270.84,116.87 270.92,114.10 270.99,118.61 271.07,114.44 271.14,114.60 271.22,114.54 271.29,113.67 271.37,115.74 271.44,115.01 271.52,118.03 271.59,116.09 271.67,115.96 271.74,114.56 271.82,112.36 271.89,114.80 271.97,110.12 272.04,116.71 272.12,114.90 272.19,118.02 272.27,116.31 272.35,116.49 272.42,115.37 272.50,115.33 272.57,116.15 272.65,116.64 272.72,113.64 272.80,115.85 272.87,119.76 272.95,114.77 273.02,114.47 273.10,113.66 273.17,112.27 273.25,117.12 273.32,115.04 273.40,115.48 273.47,118.32 273.55,119.53 273.62,113.29 273.70,116.86 273.78,116.07 273.85,115.65 273.93,115.80 274.00,114.88 274.08,117.83 274.15,116.04 274.23,115.55 274.30,117.10 274.38,116.56 274.45,115.75 274.53,115.51 274.60,118.13 274.68,115.84 274.75,114.74 274.83,113.33 274.90,114.27 274.98,112.97 275.05,115.09 275.13,115.36 275.21,111.13 275.28,114.92 275.36,116.08 275.43,115.19 275.51,113.13 275.58,117.21 275.66,113.60 275.73,112.63 275.81,112.90 275.88,114.85 275.96,116.67 276.03,117.00 276.11,115.25 276.18,112.68 276.26,113.66 276.33,113.22 276.41,114.53 276.48,111.61 276.56,115.06 276.64,116.03 276.71,114.58 276.79,115.69 276.86,113.13 276.94,112.18 277.01,113.68 277.09,116.96 277.16,116.72 277.24,114.00 277.31,117.04 277.39,114.24 277.46,117.59 277.54,115.71 277.61,114.00 277.69,116.28 277.76,113.41 277.84,113.11 277.91,112.17 277.99,115.29 278.06,114.72 278.14,114.39 278.22,114.06 278.29,117.43 278.37,114.03 278.44,113.48 278.52,117.08 278.59,117.39 278.67,115.42 278.74,111.62 278.82,113.70 278.89,115.91 278.97,114.82 279.04,117.62 279.12,112.29 279.19,116.02 279.27,113.64 279.34,117.19 279.42,114.64 279.49,116.65 279.57,113.59 279.65,112.20 279.72,112.74 279.80,113.66 279.87,112.90 279.95,116.95 280.02,117.20 280.10,115.26 280.17,112.87 280.25,114.54 280.32,113.50 280.40,117.40 280.47,115.32 280.55,115.64 280.62,114.01 280.70,111.08 280.77,113.33 280.85,112.70 280.92,115.41 281.00,114.91 281.08,113.27 281.15,114.02 281.23,117.58 281.30,112.98 281.38,113.05 281.45,114.30 281.53,113.45 281.60,113.93 281.68,115.68 281.75,117.86 281.83,111.47 281.90,114.67 281.98,114.78 282.05,114.55 282.13,114.36 282.20,114.08 282.28,116.52 282.35,113.85 282.43,114.46 282.51,114.69 282.58,114.88 282.66,114.37 282.73,116.50 282.81,114.66 282.88,114.99 282.96,114.58 283.03,112.85 283.11,113.16 283.18,112.76 283.26,115.02 283.33,113.37 283.41,112.73 283.48,115.09 283.56,115.61 283.63,111.46 283.71,117.72 283.78,114.71 283.86,114.46 283.94,116.58 284.01,114.77 284.09,113.55 284.16,118.62 284.24,112.69 284.31,114.46 284.39,116.17 284.46,112.69 284.54,114.44 284.61,117.48 284.69,118.97 284.76,113.00 284.84,114.53 284.91,115.81 284.99,114.76 285.06,112.43 285.14,115.35 285.21,114.80 285.29,115.41 285.36,116.65 285.44,116.43 285.52,115.33 285.59,115.16 285.67,112.60 285.74,114.35 285.82,114.99 285.89,116.12 285.97,114.76 286.04,113.09 286.12,117.35 286.19,118.47 286.27,113.87 286.34,115.29 286.42,114.14 286.49,116.85 286.57,115.35 286.64,114.70 286.72,114.15 286.79,114.78 286.87,112.75 286.95,115.77 287.02,113.26 287.10,115.51 287.17,114.78 287.25,116.52 287.32,114.51 287.40,116.38 287.47,112.87 287.55,115.63 287.62,114.12 287.70,114.88 287.77,114.65 287.85,116.21 287.92,110.87 288.00,115.10 288.07,111.82 288.15,116.69 288.22,110.95 288.30,112.70" stroke-width="0.7" clip-path="url(#c3)"/>
<polyline points="32.50,208.28 32.58,208.07 32.65,212.42 32.73,210.58 32.80,211.03 32.88,210.76 32.95,212.89 33.03,207.62 33.10,211.83 33.18,208.13 33.25,210.93 33.33,211.97 33.40,206.74 33.48,209.99 33.55,208.61 33.63,208.48 33.70,209.00 33.78,206.84 33.85,206.91 33.93,209.85 34.01,210.11 34.08,207.35 34.16,205.58 34.23,212.57 34.31,210.19 34.38,208.70 34.46,206.00 34.53,206.74 34.61,208.19 34.68,205.84 34.76,210.55 34.83,207.70 34.91,208.09 34.98,205.32 35.06,205.45 35.13,205.58 35.21,207.48 35.28,206.36 35.36,206.22 35.44,207.25 35.51,206.98 35.59,209.23 35.66,205.98 35.74,204.35 35.81,206.12 35.89,208.77 35.96,204.89 36.04,205.90 36.11,205.03 36.19,206.35 36.26,205.95 36.34,203.84 36.41,204.81 36.49,206.88 36.56,207.04 36.64,206.60 36.71,206.35 36.79,203.97 36.86,203.77 36.94,206.04 37.02,201.95 37.09,203.88 37.17,200.35 37.24,202.95 37.32,202.18 37.39,201.09 37.47,204.27 37.54,201.66 37.62,202.20 37.69,202.26 37.77,201.23 37.84,205.13 37.92,201.43 37.99,202.61 38.07,199.71 38.14,201.16 38.22,201.34 38.29,201.28 38.37,200.66 38.45,201.93 38.52,204.48 38.60,201.24 38.67,201.14 38.75,200.58 38.82,205.96 38.90,204.16 38.97,202.11 39.05,202.30 39.12,199.58 39.20,200.55 39.27,201.15 39.35,200.91 39.42,199.01 39.50,199.09 39.57,201.43 39.65,200.98 39.72,196.40 39.80,200.44 39.88,202.57 39.95,198.93 40.03,200.51 40.10,197.29 40.18,201.49 40.25,197.80 40.33,197.48 40.40,199.16 40.48,204.10 40.55,198.49 40.63,197.21 40.70,200.36 40.78,199.87 40.85,202.47 40.93,196.96 41.00,196.29 41.08,198.61 41.15,199.84 41.23,199.74 41.31,201.04 41.38,196.17 41.46,197.35 41.53,198.58 41.61,200.33 41.68,199.59 41.76,197.85 41.83,196.67 41.91,200.15 41.98,200.21 42.06,203.43 42.13,197.98 42.21,201.27 42.28,195.92 42.36,197.09 42.43,196.77 42.51,197.10 42.58,196.26 42.66,196.80 42.74,197.64 42.81,196.83 42.89,198.81 42.96,197.35 43.04,197.42 43.11,200.09 43.19,197.85 43.26,197.46 43.34,197.05 43.41,197.11 43.49,197.98 43.56,195.32 43.64,198.86 43.71,199.56 43.79,198.68 43.86,195.53 43.94,193.38 44.01,195.43 44.09,196.43 44.16,197.59 44.24,195.61 44.32,195.28 44.39,198.58 44.47,194.40 44.54,197.53 44.62,197.13 44.69,192.86 44.77,195.75 44.84,194.09 44.92,193.26 44.99,191.48 45.07,191.90 45.14,195.49 45.22,193.89 45.29,195.01 45.37,192.42 45.44,193.70 45.52,193.69 45.59,191.22 45.67,190.89 45.75,194.71 45.82,194.06 45.90,191.95 45.97,193.39 46.05,194.72 46.12,196.79 46.20,191.63 46.27,194.34 46.35,197.04 46.42,193.12 46.50,195.64 46.57,188.00 46.65,195.41 46.72,192.60 46.80,189.04 46.87,193.89 46.95,194.30 47.02,194.50 47.10,194.39 47.18,192.01 47.25,190.58 47.33,191.01 47.40,191.71 47.48,192.44 47.55,190.69 47.63,191.58 47.70,193.02 47.78,191.90 47.85,195.46 47.93,195.11 48.00,188.84 48.08,189.82 48.15,188.33 48.23,188.49 48.30,191.57 48.38,188.59 48.45,188.38 48.53,189.71 48.61,191.59 48.68,189.31 48.76,189.19 48.83,191.45 48.91,190.49 48.98,190.34 49.06,191.13 49.13,187.35 49.21,189.52 49.28,187.81 49.36,190.78 49.43,190.26 49.51,186.66 49.58,190.98 49.66,186.17 49.73,190.41 49.81,188.47 49.88,186.33 49.96,185.74 50.03,187.12 50.11,187.51 50.19,186.09 50.26,188.33 50.34,184.52 50.41,186.98 50.49,186.85 50.56,183.21 50.64,187.14 50.71,184.05 50.79,181.59 50.86,184.96 50.94,185.53 51.01,187.49 51.09,184.73 51.16,188.23 51.24,188.01 51.31,187.20 51.39,187.46 51.46,185.47 51.54,183.60 51.62,185.68 51.69,186.10 51.77,184.56 51.84,183.47 51.92,180.81 51.99,184.82 52.07,184.03 52.14,180.74 52.22,183.17 52.29,184.13 52.37,182.37 52.44,183.84 52.52,183.58 52.59,179.19 52.67,181.17 52.74,182.43 52.82,183.02 52.89,183.72 52.97,177.25 53.05,180.49 53.12,181.72 53.20,182.43 53.27,183.05 53.35,177.88 53.42,178.67 53.50,177.12 53.57,180.35 53.65,176.04 53.72,180.45 53.80,179.68 53.87,178.53 53.95,173.22 54.02,175.69 54.10,178.03 54.17,173.63 54.25,175.48 54.32,175.37 54.40,176.87 54.48,175.35 54.55,174.95 54.63,173.21 54.70,173.64 54.78,172.97 54.85,174.17 54.93,172.03 55.00,173.87 55.08,168.29 55.15,173.27 55.23,170.23 55.30,172.19 55.38,169.74 55.45,170.69 55.53,171.39 55.60,167.02 55.68,167.69 55.75,166.68 55.83,166.85 55.91,162.86 55.98,164.99 56.06,164.21 56.13,162.51 56.21,162.90 56.28,159.60 56.36,164.32 56.43,161.70 56.51,163.53 56.58,157.46 56.66,156.00 56.73,157.78 56.81,153.17 56.88,155.77 56.96,153.05 57.03,152.76 57.11,152.89 57.18,151.52 57.26,153.95 57.33,150.65 57.41,145.86 57.49,148.80 57.56,143.03 57.64,144.26 57.71,140.35 57.79,139.83 57.86,142.71 57.94,138.28 58.01,137.50 58.09,137.38 58.16,137.92 58.24,141.47 58.31,136.99 58.39,137.47 58.46,141.60 58.54,138.34 58.61,141.57 58.69,145.36 58.76,144.26 58.84,144.40 58.92,145.01 58.99,145.65 59.07,147.24 59.14,149.52 59.22,152.43 59.29,152.74 59.37,150.72 59.44,151.29 59.52,154.86 59.59,151.05 59.67,154.54 59.74,155.64 59.82,155.05 59.89,156.12 59.97,159.47 60.04,156.50 60.12,158.63 60.19,159.82 60.27,161.82 60.35,159.67 60.42,164.85 60.50,162.79 60.57,163.42 60.65,163.77 60.72,163.72 60.80,163.67 60.87,168.17 60.95,166.91 61.02,166.82 61.10,169.38 61.17,166.66 61.25,169.64 61.32,168.96 61.40,167.71 61.47,171.24 61.55,167.45 61.62,171.89 61.70,169.43 61.78,172.26 61.85,174.47 61.93,173.33 62.00,171.51 62.08,172.95 62.15,172.66 62.23,171.50 62.30,171.95 62.38,174.42 62.45,175.66 62.53,171.65 62.60,175.10 62.68,176.46 62.75,175.97 62.83,174.14 62.90,178.20 62.98,174.21 63.05,177.92 63.13,179.91 63.21,173.31 63.28,177.81 63.36,178.11 63.43,178.14 63.51,176.48 63.58,177.51 63.66,175.67 63.73,178.71 63.81,179.64 63.88,177.56 63.96,177.25 64.03,178.26 64.11,179.28 64.18,179.57 64.26,179.42 64.33,179.89 64.41,177.47 64.48,174.97 64.56,181.36 64.63,183.00 64.71,177.85 64.79,179.39 64.86,181.32 64.94,182.67 65.01,182.24 65.09,183.54 65.16,181.18 65.24,182.18 65.31,182.30 65.39,180.85 65.46,184.02 65.54,183.06 65.61,183.84 65.69,181.41 65.76,184.18 65.84,180.41 65.91,183.22 65.99,177.74 66.06,180.84 66.14,184.21 66.22,182.11 66.29,183.39 66.37,180.16 66.44,186.17 66.52,184.52 66.59,183.47 66.67,184.41 66.74,184.36 66.82,186.50 66.89,184.39 66.97,181.37 67.04,183.75 67.12,186.74 67.19,185.53 67.27,183.81 67.34,185.85 67.42,185.06 67.49,186.10 67.57,182.15 67.65,183.55 67.72,186.58 67.80,185.05 67.87,186.24 67.95,189.35 68.02,185.25 68.10,186.40 68.17,185.04 68.25,185.03 68.32,186.17 68.40,183.73 68.47,182.64 68.55,189.20 68.62,186.59 68.70,188.98 68.77,187.24 68.85,187.40 68.92,188.48 69.00,188.69 69.08,185.23 69.15,189.82 69.23,185.89 69.30,188.18 69.38,192.66 69.45,188.17 69.53,191.23 69.60,187.60 69.68,189.49 69.75,188.55 69.83,189.34 69.90,187.09 69.98,187.08 70.05,189.51 70.13,186.09 70.20,187.54 70.28,190.40 70.35,188.17 70.43,187.77 70.51,187.47 70.58,189.91 70.66,189.07 70.73,190.13 70.81,189.61 70.88,193.50 70.96,189.36 71.03,186.65 71.11,190.60 71.18,190.50 71.26,190.89 71.33,187.73 71.41,192.92 71.48,190.86 71.56,190.95 71.63,188.20 71.71,192.12 71.78,191.23 71.86,193.95 71.93,190.79 72.01,189.37 72.09,192.00 72.16,190.18 72.24,192.74 72.31,190.07 72.39,191.94 72.46,191.86 72.54,192.32 72.61,191.53 72.69,191.08 72.76,192.57 72.84,191.71 72.91,193.17 72.99,192.48 73.06,188.93 73.14,193.06 73.21,195.84 73.29,193.93 73.36,194.57 73.44,194.40 73.52,192.79 73.59,191.29 73.67,195.33 73.74,195.87 73.82,195.07 73.89,194.89 73.97,194.93 74.04,194.24 74.12,194.88 74.19,194.48 74.27,195.15 74.34,192.89 74.42,193.56 74.49,195.84 74.57,194.26 74.64,190.52 74.72,195.27 74.79,190.92 74.87,198.70 74.95,196.59 75.02,196.58 75.10,194.21 75.17,193.43 75.25,195.18 75.32,195.68 75.40,194.30 75.47,196.07 75.55,197.10 75.62,197.01 75.70,194.08 75.77,192.10 75.85,196.13 75.92,194.98 76.00,197.07 76.07,199.31 76.15,199.38 76.22,196.97 76.30,198.54 76.38,199.58 76.45,196.73 76.53,197.20 76.60,198.32 76.68,196.76 76.75,195.98 76.83,195.59 76.90,197.03 76.98,195.95 77.05,198.59 77.13,196.59 77.20,199.92 77.28,199.52 77.35,195.12 77.43,199.40 77.50,196.76 77.58,200.04 77.65,198.54 77.73,197.58 77.80,198.94 77.88,196.77 77.96,198.43 78.03,198.59 78.11,197.68 78.18,198.71 78.26,196.25 78.33,199.13 78.41,195.97 78.48,199.35 78.56,199.13 78.63,199.62 78.71,197.38 78.78,201.67 78.86,198.08 78.93,198.82 79.01,197.23 79.08,201.24 79.16,197.85 79.23,200.55 79.31,197.10 79.39,199.42 79.46,198.24 79.54,200.65 79.61,198.49 79.69,197.51 79.76,199.93 79.84,197.01 79.91,197.49 79.99,200.65 80.06,195.94 80.14,200.74 80.21,198.69 80.29,197.82 80.36,199.96 80.44,200.70 80.51,198.56 80.59,199.35 80.66,201.15 80.74,201.12 80.82,199.72 80.89,198.47 80.97,198.20 81.04,198.88 81.12,201.23 81.19,201.09 81.27,200.65 81.34,202.65 81.42,199.66 81.49,199.56 81.57,199.60 81.64,203.77 81.72,196.69 81.79,200.96 81.87,201.28 81.94,200.64 82.02,204.77 82.09,202.73 82.17,202.06 82.25,199.11 82.32,201.66 82.40,200.15 82.47,200.94 82.55,201.27 82.62,200.10 82.70,202.14 82.77,203.98 82.85,202.96 82.92,201.54 83.00,197.74 83.07,203.19 83.15,203.22 83.22,200.99 83.30,200.53 83.37,202.61 83.45,200.03 83.52,202.95 83.60,199.64 83.68,199.97 83.75,201.69 83.83,199.10 83.90,201.75 83.98,202.75 84.05,199.49 84.13,203.54 84.20,200.92 84.28,202.95 84.35,202.40 84.43,201.24 84.50,201.17 84.58,199.10 84.65,200.95 84.73,200.86 84.80,205.21 84.88,204.14 84.95,199.92 85.03,203.83 85.10,202.84 85.18,201.81 85.26,203.36 85.33,203.98 85.41,201.60 85.48,202.17 85.56,202.99 85.63,200.99 85.71,203.11 85.78,202.68 85.86,201.65 85.93,201.41 86.01,203.49 86.08,204.55 86.16,203.62 86.23,201.55 86.31,204.44 86.38,203.45 86.46,204.25 86.53,205.30 86.61,201.66 86.69,203.06 86.76,202.29 86.84,201.84 86.91,207.00 86.99,209.91 87.06,200.37 87.14,204.31 87.21,202.60 87.29,205.67 87.36,203.82 87.44,203.40 87.51,204.00 87.59,204.47 87.66,203.88 87.74,203.47 87.81,203.66 87.89,204.85 87.96,201.97 88.04,204.01 88.12,203.84 88.19,203.23 88.27,205.44 88.34,201.88 88.42,203.56 88.49,202.73 88.57,205.25 88.64,203.49 88.72,204.45 88.79,205.08 88.87,201.60 88.94,205.28 89.02,203.18 89.09,204.10 89.17,204.39 89.24,206.06 89.32,205.97 89.39,207.83 89.47,205.05 89.55,203.93 89.62,203.92 89.70,206.01 89.77,207.73 89.85,205.53 89.92,203.94 90.00,205.49 90.07,205.49 90.15,205.13 90.22,203.79 90.30,200.64 90.37,204.23 90.45,207.09 90.52,205.63 90.60,201.37 90.67,205.33 90.75,202.08 90.82,208.93 90.90,205.77 90.98,203.33 91.05,206.92 91.13,204.15 91.20,206.57 91.28,205.64 91.35,203.54 91.43,206.85 91.50,203.33 91.58,208.12 91.65,205.88 91.73,203.98 91.80,202.62 91.88,208.74 91.95,208.48 92.03,203.71 92.10,208.90 92.18,206.30 92.25,205.65 92.33,205.92 92.40,205.63 92.48,208.68 92.56,206.44 92.63,202.94 92.71,209.95 92.78,207.84 92.86,204.37 92.93,205.70 93.01,204.76 93.08,206.48 93.16,207.13 93.23,206.89 93.31,205.44 93.38,205.11 93.46,208.07 93.53,206.42 93.61,210.62 93.68,205.23 93.76,208.09 93.83,206.81 93.91,205.41 93.99,209.21 94.06,207.04 94.14,205.27 94.21,206.32 94.29,208.73 94.36,204.78 94.44,209.43 94.51,208.24 94.59,206.56 94.66,209.49 94.74,210.22 94.81,208.21 94.89,207.49 94.96,210.50 95.04,209.91 95.11,205.64 95.19,206.95 95.26,206.97 95.34,206.65 95.42,204.76 95.49,209.06 95.57,207.63 95.64,207.69 95.72,210.06 95.79,206.58 95.87,207.52 95.94,208.14 96.02,206.92 96.09,207.53 96.17,209.12 96.24,207.78 96.32,210.20 96.39,206.53 96.47,208.26 96.54,205.39 96.62,207.76 96.69,206.75 96.77,210.47 96.85,209.41 96.92,209.02 97.00,211.44 97.07,210.76 97.15,209.51 97.22,207.03 97.30,205.72 97.37,208.28 97.45,207.74 97.52,207.25 97.60,207.93 97.67,205.53 97.75,211.19 97.82,206.52 97.90,207.40 97.97,209.66 98.05,205.77 98.12,210.37 98.20,210.44 98.27,208.24 98.35,206.90 98.43,208.03 98.50,205.60 98.58,211.44 98.65,209.09 98.73,207.71 98.80,207.45 98.88,210.14 98.95,211.85 99.03,206.91 99.10,208.20 99.18,206.12 99.25,210.53 99.33,209.64 99.40,213.45 99.48,209.22 99.55,208.70 99.63,208.25 99.70,211.09 99.78,206.68 99.86,210.99 99.93,210.13 100.01,208.82 100.08,208.14 100.16,211.71 100.23,213.20 100.31,209.09 100.38,210.89 100.46,213.11 100.53,208.90 100.61,209.61 100.68,207.91 100.76,209.88 100.83,210.04 100.91,209.48 100.98,208.94 101.06,207.46 101.13,207.93 101.21,208.64 101.29,211.60 101.36,209.56 101.44,208.99 101.51,211.75 101.59,211.63 101.66,209.29 101.74,209.56 101.81,211.93 101.89,211.44 101.96,209.31 102.04,211.30 102.11,210.85 102.19,212.96 102.26,209.42 102.34,212.63 102.41,211.86 102.49,209.30 102.56,213.07 102.64,212.85 102.72,208.86 102.79,214.88 102.87,209.26 102.94,209.71 103.02,210.83 103.09,212.86 103.17,212.56 103.24,211.37 103.32,214.07 103.39,212.36 103.47,214.20 103.54,216.83 103.62,212.11 103.69,207.12 103.77,211.02 103.84,209.92 103.92,212.09 103.99,212.14 104.07,209.77 104.15,209.95 104.22,211.61 104.30,211.77 104.37,207.42 104.45,213.99 104.52,212.31 104.60,212.28 104.67,212.88 104.75,210.51 104.82,212.33 104.90,214.37 104.97,214.48 105.05,213.40 105.12,212.08 105.20,211.13 105.27,215.10 105.35,213.68 105.42,211.99 105.50,208.81 105.57,211.25 105.65,209.34 105.73,215.24 105.80,213.33 105.88,211.65 105.95,212.56 106.03,217.91 106.10,215.41 106.18,210.72 106.25,213.01 106.33,211.01 106.40,210.14 106.48,213.70 106.55,217.91 106.63,216.37 106.70,213.60 106.78,212.86 106.85,213.98 106.93,215.58 107.00,210.98 107.08,210.26 107.16,217.29 107.23,214.35 107.31,216.87 107.38,214.36 107.46,216.72 107.53,212.87 107.61,214.99 107.68,217.00 107.76,216.05 107.83,213.33 107.91,215.91 107.98,213.03 108.06,211.65 108.13,215.35 108.21,217.03 108.28,216.05 108.36,212.14 108.43,216.17 108.51,215.86 108.59,213.77 108.66,210.00 108.74,216.62 108.81,216.43 108.89,215.74 108.96,211.59 109.04,212.08 109.11,216.84 109.19,216.48 109.26,215.95 109.34,214.59 109.41,215.84 109.49,214.12 109.56,214.59 109.64,213.58 109.71,215.75 109.79,214.51 109.86,217.14 109.94,216.74 110.02,213.89 110.09,218.93 110.17,213.38 110.24,216.39 110.32,217.62 110.39,218.04 110.47,211.48 110.54,217.58 110.62,218.03 110.69,218.49 110.77,211.59 110.84,214.55 110.92,215.68 110.99,215.06 111.07,218.48 111.14,214.69 111.22,218.34 111.29,217.11 111.37,213.32 111.45,214.23 111.52,215.25 111.60,216.36 111.67,218.09 111.75,215.89 111.82,217.99 111.90,213.31 111.97,210.54 112.05,215.72 112.12,217.26 112.20,215.73 112.27,214.53 112.35,217.28 112.42,220.18 112.50,216.34 112.57,215.18 112.65,214.98 112.72,220.35 112.80,216.57 112.87,217.83 112.95,219.01 113.03,218.77 113.10,215.00 113.18,218.59 113.25,218.41 113.33,217.76 113.40,218.77 113.48,215.81 113.55,216.76 113.63,215.93 113.70,218.40 113.78,215.74 113.85,217.75 113.93,214.95 114.00,216.82 114.08,216.39 114.15,216.89 114.23,217.38 114.30,216.80 114.38,216.76 114.46,213.27 114.53,219.32 114.61,216.06 114.68,216.80 114.76,215.72 114.83,219.21 114.91,215.62 114.98,218.32 115.06,219.62 115.13,220.53 115.21,219.69 115.28,218.63 115.36,215.20 115.43,219.95 115.51,219.78 115.58,219.14 115.66,219.09 115.73,217.74 115.81,216.64 115.89,219.69 115.96,220.08 116.04,215.71 116.11,219.44 116.19,218.20 116.26,219.43 116.34,218.30 116.41,219.90 116.49,219.76 116.56,219.53 116.64,215.26 116.71,219.45 116.79,218.01 116.86,215.80 116.94,219.30 117.01,215.39 117.09,219.70 117.16,221.23 117.24,217.10 117.32,219.81 117.39,218.95 117.47,219.35 117.54,215.59 117.62,219.31 117.69,218.44 117.77,219.61 117.84,218.25 117.92,220.32 117.99,218.80 118.07,219.58 118.14,220.91 118.22,218.69 118.29,220.25 118.37,218.82 118.44,219.40 118.52,217.45 118.59,219.93 118.67,220.80 118.75,218.36 118.82,220.03 118.90,219.37 118.97,216.51 119.05,219.27 119.12,221.11 119.20,217.75 119.27,215.34 119.35,219.09 119.42,217.53 119.50,222.32 119.57,218.71 119.65,218.81 119.72,217.67 119.80,219.34 119.87,217.85 119.95,217.24 120.02,218.85 120.10,217.48 120.17,221.49 120.25,216.87 120.33,218.95 120.40,217.83 120.48,216.57 120.55,222.28 120.63,215.28 120.70,221.95 120.78,216.64 120.85,219.47 120.93,223.55 121.00,215.39 121.08,216.83 121.15,221.87 121.23,219.77 121.30,218.46 121.38,219.44 121.45,217.73 121.53,219.79 121.60,222.37 121.68,218.90 121.76,219.89 121.83,221.90 121.91,223.38 121.98,218.60 122.06,220.28 122.13,218.69 122.21,218.56 122.28,219.03 122.36,218.61 122.43,216.58 122.51,216.11 122.58,218.47 122.66,220.08 122.73,222.11 122.81,218.87 122.88,219.55 122.96,221.09 123.03,221.24 123.11,219.65 123.19,219.77 123.26,223.35 123.34,219.24 123.41,218.94 123.49,216.82 123.56,220.64 123.64,219.33 123.71,223.36 123.79,219.16 123.86,221.28 123.94,221.48 124.01,222.79 124.09,217.26 124.16,222.59 124.24,219.67 124.31,219.42 124.39,219.01 124.46,218.82 124.54,218.88 124.62,215.14 124.69,220.39 124.77,219.52 124.84,217.59 124.92,219.19 124.99,223.54 125.07,219.92 125.14,218.45 125.22,222.29 125.29,217.58 125.37,218.72 125.44,217.92 125.52,218.45 125.59,220.19 125.67,219.84 125.74,217.34 125.82,218.40 125.89,218.73 125.97,217.74 126.04,218.36 126.12,217.01 126.20,216.91 126.27,218.28 126.35,216.21 126.42,218.81 126.50,217.57 126.57,216.06 126.65,216.44 126.72,216.46 126.80,216.79 126.87,217.15 126.95,216.06 127.02,214.47 127.10,218.33 127.17,216.92 127.25,215.00 127.32,216.06 127.40,214.40 127.47,212.78 127.55,212.85 127.63,217.03 127.70,213.34 127.78,212.80 127.85,209.51 127.93,210.68 128.00,213.06 128.08,208.99 128.15,209.47 128.23,209.09 128.30,207.22 128.38,208.20 128.45,204.97 128.53,204.70 128.60,201.86 128.68,207.03 128.75,201.74 128.83,200.28 128.90,201.42 128.98,196.65 129.06,196.15 129.13,193.27 129.21,193.25 129.28,190.95 129.36,191.11 129.43,188.31 129.51,185.89 129.58,184.92 129.66,183.75 129.73,181.59 129.81,182.88 129.88,181.10 129.96,178.93 130.03,175.38 130.11,177.38 130.18,172.89 130.26,174.37 130.33,172.89 130.41,170.50 130.49,168.86 130.56,167.96 130.64,171.91 130.71,166.63 130.79,165.81 130.86,167.14 130.94,165.46 131.01,166.09 131.09,161.52 131.16,161.58 131.24,169.68 131.31,163.60 131.39,163.35 131.46,164.47 131.54,166.36 131.61,162.80 131.69,166.01 131.76,165.99 131.84,167.86 131.92,167.57 131.99,166.92 132.07,166.96 132.14,164.74 132.22,171.64 132.29,167.79 132.37,170.34 132.44,174.69 132.52,171.40 132.59,173.79 132.67,172.80 132.74,174.98 132.82,174.27 132.89,173.81 132.97,177.74 133.04,175.31 133.12,173.87 133.19,176.25 133.27,178.36 133.34,175.87 133.42,179.87 133.50,180.36 133.57,183.36 133.65,178.83 133.72,181.73 133.80,177.98 133.87,180.78 133.95,182.23 134.02,183.29 134.10,182.93 134.17,183.36 134.25,182.91 134.32,183.72 134.40,185.60 134.47,186.58 134.55,187.25 134.62,188.43 134.70,189.31 134.77,184.38 134.85,187.25 134.93,188.45 135.00,188.11 135.08,191.73 135.15,191.72 135.23,190.70 135.30,191.65 135.38,194.26 135.45,191.86 135.53,192.44 135.60,195.19 135.68,194.91 135.75,197.15 135.83,195.74 135.90,196.93 135.98,195.06 136.05,194.83 136.13,196.99 136.20,192.64 136.28,198.67 136.36,200.14 136.43,198.94 136.51,198.82 136.58,201.61 136.66,199.94 136.73,202.18 136.81,204.76 136.88,202.43 136.96,203.15 137.03,202.66 137.11,202.52 137.18,202.85 137.26,202.73 137.33,204.82 137.41,200.14 137.48,202.80 137.56,204.70 137.63,202.19 137.71,203.74 137.79,202.88 137.86,205.16 137.94,206.13 138.01,207.41 138.09,205.89 138.16,203.87 138.24,205.84 138.31,206.62 138.39,208.35 138.46,202.08 138.54,206.85 138.61,203.05 138.69,207.85 138.76,207.55 138.84,207.83 138.91,208.72 138.99,207.99 139.06,206.29 139.14,208.28 139.22,209.99 139.29,207.77 139.37,208.19 139.44,206.10 139.52,210.56 139.59,207.70 139.67,207.41 139.74,208.10 139.82,207.49 139.89,208.73 139.97,211.64 140.04,210.89 140.12,212.16 140.19,212.40 140.27,208.19 140.34,210.80 140.42,212.75 140.49,214.30 140.57,207.67 140.64,207.74 140.72,211.26 140.80,209.89 140.87,208.77 140.95,211.34 141.02,209.28 141.10,206.66 141.17,210.78 141.25,211.10 141.32,212.07 141.40,212.66 141.47,211.32 141.55,210.58 141.62,209.82 141.70,208.05 141.77,210.25 141.85,212.85 141.92,212.22 142.00,214.76 142.07,210.75 142.15,207.79 142.23,212.51 142.30,212.88 142.38,208.87 142.45,208.04 142.53,211.23 142.60,212.22 142.68,208.88 142.75,210.28 142.83,209.46 142.90,208.70 142.98,208.43 143.05,211.04 143.13,210.08 143.20,209.51 143.28,205.96 143.35,213.83 143.43,208.91 143.50,210.34 143.58,208.49 143.66,211.20 143.73,207.74 143.81,210.60 143.88,210.05 143.96,212.01 144.03,208.32 144.11,209.08 144.18,209.79 144.26,213.97 144.33,207.45 144.41,210.60 144.48,208.84 144.56,210.54 144.63,211.11 144.71,210.13 144.78,210.30 144.86,210.28 144.93,208.66 145.01,209.28 145.09,206.61 145.16,208.92 145.24,208.12 145.31,209.00 145.39,210.74 145.46,210.04 145.54,210.15 145.61,211.24 145.69,204.86 145.76,209.91 145.84,209.03 145.91,208.84 145.99,206.60 146.06,209.91 146.14,210.94 146.21,210.67 146.29,208.59 146.36,209.85 146.44,210.30 146.52,211.87 146.59,210.72 146.67,208.68 146.74,208.52 146.82,208.58 146.89,208.61 146.97,207.22 147.04,209.44 147.12,206.70 147.19,206.41 147.27,208.42 147.34,206.65 147.42,207.15 147.49,203.74 147.57,208.85 147.64,207.30 147.72,206.98 147.79,207.96 147.87,207.40 147.94,205.65 148.02,210.45 148.10,205.89 148.17,208.37 148.25,209.82 148.32,205.27 148.40,206.46 148.47,204.70 148.55,207.98 148.62,205.36 148.70,203.86 148.77,208.14 148.85,207.30 148.92,203.92 149.00,207.57 149.07,205.67 149.15,210.13 149.22,208.21 149.30,203.99 149.37,204.40 149.45,203.19 149.53,204.92 149.60,204.66 149.68,205.80 149.75,204.52 149.83,201.60 149.90,202.69 149.98,206.63 150.05,206.06 150.13,203.58 150.20,203.53 150.28,203.38 150.35,203.63 150.43,200.46 150.50,205.03 150.58,202.13 150.65,203.51 150.73,198.57 150.80,203.49 150.88,205.40 150.96,198.83 151.03,205.54 151.11,203.55 151.18,201.26 151.26,199.62 151.33,204.51 151.41,202.77 151.48,203.27 151.56,201.60 151.63,200.55 151.71,203.47 151.78,200.06 151.86,203.32 151.93,198.55 152.01,199.80 152.08,198.74 152.16,203.65 152.23,197.99 152.31,199.00 152.39,202.17 152.46,201.29 152.54,204.75 152.61,204.02 152.69,201.70 152.76,201.73 152.84,197.07 152.91,198.69 152.99,199.61 153.06,199.79 153.14,197.53 153.21,198.25 153.29,198.32 153.36,201.70 153.44,200.47 153.51,199.02 153.59,199.04 153.66,200.00 153.74,198.14 153.81,198.86 153.89,196.15 153.97,200.44 154.04,200.91 154.12,199.77 154.19,199.93 154.27,199.68 154.34,202.69 154.42,199.31 154.49,196.50 154.57,196.97 154.64,200.15 154.72,200.77 154.79,200.22 154.87,200.33 154.94,199.14 155.02,196.09 155.09,197.51 155.17,195.52 155.24,198.13 155.32,196.37 155.40,199.06 155.47,198.61 155.55,195.41 155.62,200.34 155.70,200.44 155.77,196.57 155.85,199.43 155.92,200.54 156.00,198.77 156.07,200.93 156.15,199.79 156.22,201.49 156.30,199.96 156.37,199.40 156.45,200.73 156.52,201.32 156.60,200.45 156.67,199.27 156.75,198.75 156.83,199.62 156.90,199.36 156.98,200.90 157.05,200.94 157.13,200.59 157.20,200.86 157.28,201.30 157.35,203.97 157.43,203.43 157.50,200.29 157.58,202.24 157.65,200.99 157.73,201.54 157.80,201.40 157.88,200.83 157.95,199.60 158.03,197.71 158.10,202.71 158.18,204.63 158.26,200.93 158.33,203.64 158.41,202.13 158.48,203.47 158.56,201.60 158.63,202.77 158.71,203.10 158.78,199.06 158.86,201.82 158.93,203.39 159.01,199.20 159.08,205.04 159.16,203.89 159.23,204.43 159.31,204.81 159.38,203.48 159.46,202.36 159.53,203.61 159.61,203.73 159.69,208.68 159.76,208.08 159.84,203.89 159.91,204.11 159.99,205.55 160.06,206.09 160.14,203.87 160.21,203.39 160.29,208.87 160.36,207.35 160.44,202.64 160.51,202.34 160.59,204.16 160.66,206.17 160.74,206.86 160.81,205.32 160.89,203.06 160.96,206.52 161.04,207.32 161.11,206.29 161.19,205.47 161.27,207.53 161.34,206.46 161.42,204.58 161.49,206.91 161.57,204.44 161.64,208.69 161.72,207.87 161.79,205.25 161.87,207.57 161.94,209.57 162.02,203.39 162.09,207.18 162.17,210.57 162.24,204.75 162.32,207.39 162.39,205.16 162.47,207.75 162.54,203.52 162.62,205.05 162.70,207.15 162.77,208.48 162.85,209.02 162.92,209.19 163.00,210.62 163.07,209.87 163.15,210.03 163.22,206.94 163.30,208.55 163.37,214.84 163.45,213.22 163.52,210.64 163.60,210.56 163.67,211.11 163.75,208.61 163.82,213.09 163.90,208.84 163.97,209.47 164.05,213.76 164.13,205.92 164.20,210.55 164.28,206.76 164.35,208.84 164.43,209.97 164.50,209.57 164.58,210.64 164.65,208.97 164.73,210.29 164.80,208.36 164.88,209.93 164.95,208.15 165.03,212.06 165.10,208.50 165.18,212.30 165.25,210.32 165.33,210.61 165.40,213.47 165.48,211.55 165.56,207.89 165.63,212.46 165.71,206.17 165.78,212.19 165.86,211.03 165.93,209.24 166.01,212.10 166.08,211.46 166.16,215.89 166.23,211.39 166.31,215.94 166.38,214.98 166.46,211.32 166.53,211.02 166.61,215.12 166.68,212.47 166.76,213.11 166.83,212.42 166.91,210.71 166.99,212.37 167.06,211.35 167.14,210.36 167.21,212.78 167.29,216.78 167.36,216.55 167.44,213.48 167.51,213.94 167.59,214.73 167.66,216.42 167.74,214.54 167.81,213.13 167.89,213.37 167.96,216.34 168.04,219.20 168.11,213.19 168.19,210.59 168.26,216.08 168.34,214.49 168.41,214.98 168.49,217.14 168.57,215.02 168.64,212.47 168.72,211.35 168.79,215.06 168.87,213.05 168.94,215.87 169.02,213.00 169.09,214.83 169.17,212.80 169.24,214.98 169.32,214.90 169.39,216.96 169.47,218.46 169.54,215.66 169.62,214.46 169.69,219.88 169.77,216.95 169.84,217.50 169.92,217.58 170.00,219.27 170.07,218.51 170.15,217.97 170.22,218.22 170.30,215.23 170.37,215.79 170.45,216.82 170.52,217.28 170.60,217.23 170.67,217.86 170.75,217.41 170.82,216.63 170.90,214.45 170.97,219.19 171.05,218.80 171.12,216.11 171.20,218.80 171.27,218.69 171.35,218.16 171.43,214.62 171.50,215.90 171.58,217.13 171.65,221.41 171.73,216.80 171.80,217.85 171.88,216.48 171.95,217.74 172.03,219.40 172.10,214.90 172.18,213.53 172.25,220.25 172.33,219.14 172.40,218.00 172.48,221.07 172.55,221.15 172.63,215.41 172.70,219.15 172.78,221.65 172.86,218.36 172.93,219.12 173.01,221.61 173.08,219.37 173.16,217.69 173.23,218.75 173.31,217.62 173.38,221.27 173.46,217.03 173.53,222.29 173.61,217.36 173.68,220.65 173.76,217.87 173.83,220.65 173.91,222.77 173.98,223.05 174.06,223.48 174.13,220.92 174.21,221.39 174.28,221.71 174.36,222.53 174.44,220.69 174.51,223.63 174.59,222.24 174.66,223.89 174.74,222.71 174.81,223.18 174.89,220.59 174.96,221.28 175.04,219.70 175.11,221.68 175.19,221.99 175.26,224.00 175.34,220.11 175.41,228.73 175.49,222.44 175.56,225.15 175.64,224.82 175.71,218.14 175.79,222.52 175.87,225.90 175.94,218.57 176.02,224.72 176.09,221.60 176.17,222.54 176.24,223.93 176.32,220.04 176.39,224.03 176.47,222.51 176.54,222.39 176.62,228.49 176.69,230.63 176.77,224.70 176.84,225.17 176.92,224.09 176.99,222.89 177.07,224.82 177.14,227.29 177.22,224.83 177.30,226.23 177.37,224.17 177.45,229.46 177.52,221.60 177.60,225.91 177.67,225.88 177.75,225.42 177.82,222.85 177.90,222.87 177.97,224.64 178.05,225.33 178.12,222.89 178.20,223.22 178.27,226.36 178.35,227.30 178.42,224.32 178.50,224.11 178.57,224.09 178.65,230.23 178.73,226.49 178.80,225.47 178.88,227.55 178.95,230.03 179.03,227.93 179.10,223.02 179.18,225.60 179.25,225.03 179.33,225.17 179.40,223.54 179.48,225.14 179.55,223.85 179.63,226.58 179.70,226.05 179.78,223.30 179.85,222.77 179.93,225.13 180.00,227.31 180.08,227.03 180.16,225.99 180.23,219.85 180.31,225.22 180.38,224.78 180.46,225.58 180.53,223.91 180.61,225.44 180.68,225.02 180.76,231.48 180.83,227.67 180.91,225.98 180.98,226.28 181.06,226.16 181.13,226.77 181.21,225.66 181.28,226.42 181.36,228.43 181.43,228.08 181.51,227.10 181.58,229.07 181.66,226.98 181.74,224.70 181.81,223.26 181.89,225.28 181.96,226.50 182.04,227.40 182.11,228.71 182.19,225.58 182.26,225.16 182.34,228.18 182.41,228.97 182.49,225.83 182.56,227.40 182.64,229.40 182.71,227.41 182.79,226.71 182.86,222.87 182.94,229.37 183.01,228.09 183.09,227.11 183.17,226.00 183.24,224.53 183.32,226.73 183.39,226.73 183.47,229.04 183.54,224.66 183.62,229.73 183.69,227.07 183.77,229.28 183.84,225.18 183.92,227.71 183.99,229.39 184.07,227.29 184.14,224.29 184.22,226.48 184.29,228.14 184.37,224.47 184.44,224.40 184.52,227.62 184.60,225.37 184.67,228.49 184.75,224.97 184.82,223.73 184.90,225.76 184.97,230.09 185.05,225.62 185.12,227.26 185.20,227.76 185.27,225.49 185.35,229.39 185.42,227.66 185.50,228.18 185.57,224.14 185.65,224.02 185.72,222.12 185.80,227.02 185.87,226.95 185.95,228.77 186.03,230.24 186.10,226.94 186.18,226.92 186.25,228.30 186.33,230.36 186.40,225.89 186.48,228.66 186.55,227.01 186.63,226.86 186.70,229.05 186.78,226.01 186.85,225.49 186.93,228.80 187.00,227.50 187.08,227.05 187.15,227.31 187.23,228.52 187.30,226.88 187.38,229.06 187.46,228.40 187.53,230.44 187.61,230.04 187.68,229.28 187.76,227.27 187.83,227.90 187.91,226.56 187.98,233.12 188.06,227.29 188.13,228.78 188.21,230.32 188.28,225.16 188.36,226.20 188.43,227.03 188.51,225.91 188.58,225.41 188.66,226.85 188.73,230.31 188.81,229.24 188.88,227.95 188.96,227.96 189.04,224.76 189.11,229.26 189.19,228.77 189.26,225.92 189.34,228.40 189.41,227.66 189.49,227.06 189.56,226.19 189.64,226.81 189.71,226.33 189.79,229.03 189.86,228.87 189.94,228.82 190.01,227.89 190.09,227.49 190.16,232.18 190.24,224.79 190.31,230.64 190.39,229.07 190.47,228.56 190.54,227.50 190.62,228.08 190.69,226.28 190.77,225.93 190.84,228.39 190.92,225.50 190.99,230.28 191.07,230.84 191.14,222.22 191.22,225.85 191.29,229.35 191.37,229.28 191.44,229.13 191.52,229.76 191.59,230.42 191.67,230.69 191.74,232.48 191.82,229.18 191.90,230.81 191.97,226.13 192.05,229.01 192.12,226.98 192.20,231.99 192.27,233.82 192.35,230.46 192.42,227.01 192.50,229.31 192.57,229.62 192.65,229.99 192.72,231.73 192.80,231.51 192.87,224.71 192.95,232.39 193.02,228.89 193.10,228.82 193.17,232.62 193.25,229.46 193.33,227.41 193.40,227.54 193.48,230.22 193.55,231.87 193.63,233.05 193.70,229.91 193.78,229.39 193.85,233.41 193.93,229.50 194.00,233.19 194.08,230.91 194.15,230.96 194.23,230.10 194.30,231.16 194.38,229.76 194.45,229.40 194.53,230.48 194.60,229.55 194.68,231.42 194.76,231.05 194.83,230.44 194.91,230.61 194.98,230.61 195.06,234.40 195.13,231.13 195.21,230.07 195.28,230.69 195.36,228.70 195.43,230.97 195.51,231.12 195.58,230.97 195.66,231.83 195.73,232.31 195.81,232.47 195.88,228.57 195.96,229.71 196.03,226.80 196.11,233.37 196.18,234.01 196.26,234.43 196.34,232.29 196.41,234.25 196.49,232.05 196.56,231.95 196.64,229.31 196.71,230.81 196.79,231.23 196.86,234.15 196.94,235.62 197.01,231.63 197.09,233.29 197.16,233.16 197.24,231.22 197.31,229.48 197.39,231.38 197.46,230.14 197.54,232.32 197.61,232.71 197.69,232.69 197.77,232.77 197.84,234.06 197.92,231.43 197.99,234.94 198.07,230.14 198.14,233.48 198.22,234.16 198.29,231.97 198.37,230.51 198.44,234.80 198.52,232.36 198.59,235.18 198.67,235.20 198.74,233.79 198.82,233.85 198.89,235.78 198.97,234.67 199.04,232.24 199.12,234.38 199.20,235.16 199.27,234.55 199.35,234.57 199.42,233.98 199.50,234.09 199.57,232.59 199.65,231.70 199.72,236.59 199.80,233.30 199.87,234.97 199.95,231.76 200.02,234.94 200.10,233.12 200.17,240.35 200.25,232.85 200.32,232.99 200.40,236.65 200.47,237.06 200.55,230.97 200.63,235.47 200.70,236.70 200.78,232.76 200.85,236.41 200.93,234.17 201.00,233.32 201.08,234.58 201.15,234.42 201.23,232.70 201.30,239.60 201.38,234.55 201.45,234.05 201.53,237.11 201.60,235.40 201.68,238.10 201.75,235.11 201.83,236.32 201.90,235.88 201.98,236.06 202.05,235.39 202.13,235.62 202.21,239.02 202.28,234.62 202.36,234.91 202.43,235.33 202.51,237.10 202.58,236.82 202.66,237.86 202.73,233.61 202.81,236.66 202.88,235.88 202.96,235.71 203.03,236.60 203.11,232.62 203.18,236.88 203.26,236.68 203.33,233.75 203.41,236.30 203.48,239.44 203.56,235.82 203.64,237.71 203.71,236.21 203.79,235.14 203.86,234.97 203.94,235.99 204.01,239.23 204.09,238.35 204.16,235.52 204.24,238.77 204.31,236.68 204.39,235.66 204.46,237.80 204.54,235.31 204.61,234.11 204.69,239.53 204.76,233.70 204.84,238.19 204.91,234.34 204.99,237.18 205.07,236.90 205.14,236.48 205.22,233.23 205.29,237.17 205.37,237.34 205.44,235.76 205.52,237.35 205.59,239.38 205.67,236.20 205.74,238.06 205.82,235.45 205.89,238.36 205.97,238.88 206.04,242.37 206.12,239.45 206.19,238.59 206.27,240.45 206.34,235.98 206.42,239.89 206.50,236.89 206.57,236.78 206.65,240.03 206.72,238.44 206.80,240.52 206.87,235.35 206.95,238.62 207.02,237.15 207.10,237.67 207.17,234.64 207.25,240.00 207.32,238.67 207.40,236.47 207.47,235.83 207.55,236.76 207.62,241.04 207.70,238.28 207.77,237.88 207.85,239.46 207.93,238.60 208.00,239.05 208.08,240.04 208.15,239.31 208.23,240.37 208.30,236.54 208.38,238.92 208.45,238.18 208.53,239.08 208.60,238.84 208.68,237.77 208.75,238.34 208.83,240.79 208.90,238.03 208.98,236.78 209.05,240.24 209.13,240.98 209.20,238.70 209.28,239.48 209.35,237.71 209.43,238.93 209.51,241.40 209.58,240.87 209.66,239.68 209.73,238.93 209.81,236.43 209.88,240.09 209.96,240.38 210.03,241.52 210.11,243.34 210.18,240.32 210.26,241.43 210.33,237.59 210.41,241.94 210.48,241.34 210.56,242.28 210.63,241.02 210.71,240.63 210.78,242.56 210.86,238.60 210.94,241.05 211.01,241.88 211.09,238.43 211.16,237.77 211.24,240.73 211.31,240.17 211.39,241.08 211.46,241.16 211.54,238.55 211.61,240.61 211.69,242.08 211.76,239.34 211.84,239.48 211.91,237.92 211.99,241.53 212.06,243.64 212.14,237.48 212.21,241.43 212.29,241.69 212.37,238.98 212.44,239.33 212.52,238.08 212.59,238.56 212.67,240.32 212.74,241.22 212.82,240.22 212.89,241.59 212.97,240.38 213.04,237.83 213.12,242.68 213.19,242.18 213.27,238.67 213.34,243.26 213.42,240.84 213.49,240.21 213.57,243.51 213.64,235.32 213.72,236.97 213.80,241.25 213.87,239.47 213.95,238.17 214.02,242.70 214.10,240.80 214.17,237.53 214.25,238.66 214.32,241.44 214.40,243.17 214.47,236.14 214.55,240.30 214.62,239.12 214.70,236.58 214.77,239.50 214.85,236.82 214.92,238.78 215.00,242.76 215.07,240.70 215.15,241.18 215.23,240.83 215.30,240.36 215.38,241.49 215.45,237.52 215.53,239.00 215.60,241.23 215.68,238.28 215.75,238.80 215.83,241.83 215.90,242.42 215.98,238.44 216.05,238.03 216.13,240.61 216.20,240.01 216.28,238.24 216.35,240.58 216.43,240.48 216.50,239.58 216.58,244.86 216.65,241.91 216.73,240.88 216.81,241.25 216.88,244.82 216.96,241.34 217.03,237.95 217.11,239.86 217.18,239.38 217.26,238.17 217.33,239.68 217.41,239.64 217.48,239.04 217.56,238.22 217.63,240.64 217.71,236.11 217.78,240.58 217.86,239.03 217.93,239.49 218.01,234.53 218.08,242.02 218.16,235.63 218.24,237.19 218.31,239.93 218.39,237.55 218.46,237.86 218.54,234.39 218.61,237.66 218.69,238.79 218.76,239.58 218.84,237.70 218.91,238.55 218.99,238.87 219.06,236.71 219.14,236.47 219.21,241.41 219.29,236.08 219.36,239.84 219.44,237.57 219.51,240.07 219.59,236.02 219.67,238.05 219.74,237.58 219.82,236.42 219.89,237.29 219.97,235.15 220.04,236.30 220.12,235.57 220.19,237.58 220.27,235.86 220.34,233.29 220.42,235.04 220.49,235.40 220.57,233.75 220.64,237.75 220.72,235.87 220.79,236.52 220.87,233.37 220.94,233.88 221.02,236.34 221.10,231.62 221.17,234.81 221.25,234.11 221.32,232.84 221.40,233.76 221.47,231.41 221.55,233.66 221.62,230.79 221.70,230.49 221.77,235.29 221.85,231.19 221.92,228.37 222.00,233.94 222.07,230.49 222.15,225.17 222.22,231.44 222.30,233.08 222.37,231.81 222.45,234.16 222.53,230.51 222.60,231.64 222.68,228.41 222.75,230.36 222.83,232.66 222.90,230.49 222.98,229.58 223.05,225.31 223.13,228.00 223.20,226.00 223.28,229.56 223.35,226.41 223.43,228.14 223.50,225.26 223.58,230.32 223.65,224.25 223.73,226.35 223.80,230.64 223.88,225.75 223.95,223.34 224.03,225.73 224.11,226.04 224.18,225.42 224.26,219.70 224.33,223.37 224.41,218.56 224.48,225.67 224.56,221.81 224.63,220.38 224.71,222.05 224.78,221.25 224.86,217.66 224.93,222.46 225.01,218.49 225.08,215.18 225.16,220.62 225.23,220.38 225.31,219.37 225.38,217.56 225.46,214.36 225.54,217.29 225.61,218.51 225.69,216.01 225.76,216.91 225.84,211.84 225.91,214.56 225.99,213.73 226.06,208.46 226.14,207.48 226.21,208.44 226.29,209.19 226.36,209.11 226.44,207.06 226.51,206.58 226.59,205.71 226.66,205.32 226.74,205.48 226.81,204.56 226.89,202.79 226.97,202.66 227.04,200.63 227.12,202.31 227.19,199.22 227.27,202.63 227.34,198.82 227.42,198.68 227.49,196.01 227.57,196.06 227.64,196.28 227.72,195.28 227.79,193.37 227.87,191.67 227.94,193.29 228.02,192.91 228.09,193.12 228.17,193.97 228.24,190.64 228.32,187.16 228.40,190.44 228.47,187.13 228.55,188.19 228.62,192.61 228.70,191.83 228.77,189.69 228.85,189.88 228.92,191.12 229.00,188.22 229.07,192.71 229.15,191.44 229.22,195.89 229.30,190.75 229.37,195.00 229.45,192.17 229.52,195.75 229.60,192.35 229.67,195.96 229.75,194.11 229.82,193.74 229.90,195.37 229.98,196.90 230.05,197.10 230.13,199.66 230.20,198.59 230.28,192.43 230.35,197.04 230.43,194.43 230.50,197.87 230.58,200.20 230.65,196.91 230.73,197.64 230.80,200.58 230.88,200.20 230.95,204.18 231.03,202.24 231.10,203.09 231.18,205.84 231.25,202.02 231.33,203.42 231.41,201.98 231.48,204.78 231.56,206.69 231.63,207.74 231.71,205.50 231.78,204.63 231.86,204.93 231.93,204.13 232.01,207.38 232.08,210.09 232.16,203.40 232.23,204.14 232.31,211.29 232.38,205.96 232.46,210.00 232.53,207.36 232.61,211.59 232.68,211.96 232.76,211.16 232.84,212.77 232.91,211.67 232.99,213.00 233.06,215.75 233.14,214.73 233.21,211.75 233.29,211.83 233.36,213.25 233.44,213.61 233.51,214.53 233.59,213.59 233.66,216.31 233.74,215.48 233.81,216.43 233.89,216.08 233.96,217.56 234.04,214.45 234.11,220.03 234.19,218.01 234.27,218.51 234.34,219.12 234.42,220.32 234.49,219.96 234.57,219.30 234.64,218.80 234.72,216.30 234.79,220.11 234.87,219.38 234.94,219.64 235.02,225.06 235.09,217.23 235.17,221.12 235.24,223.58 235.32,223.35 235.39,224.14 235.47,219.63 235.54,220.46 235.62,223.72 235.70,222.23 235.77,226.29 235.85,223.71 235.92,223.89 236.00,224.60 236.07,223.49 236.15,224.46 236.22,223.19 236.30,224.63 236.37,224.01 236.45,225.64 236.52,222.69 236.60,222.76 236.67,226.69 236.75,226.46 236.82,224.41 236.90,226.01 236.97,224.65 237.05,230.72 237.12,224.07 237.20,230.48 237.28,225.85 237.35,228.40 237.43,227.28 237.50,227.23 237.58,229.90 237.65,229.84 237.73,227.90 237.80,226.87 237.88,232.69 237.95,231.56 238.03,229.31 238.10,228.61 238.18,229.86 238.25,229.59 238.33,231.84 238.40,227.86 238.48,229.86 238.55,228.46 238.63,232.56 238.71,233.62 238.78,230.15 238.86,231.47 238.93,233.24 239.01,230.12 239.08,229.03 239.16,232.90 239.23,232.00 239.31,230.76 239.38,234.04 239.46,231.83 239.53,228.11 239.61,232.26 239.68,231.60 239.76,235.39 239.83,231.89 239.91,231.64 239.98,232.96 240.06,232.70 240.14,229.66 240.21,232.67 240.29,231.92 240.36,235.30 240.44,237.29 240.51,230.70 240.59,231.09 240.66,231.41 240.74,231.86 240.81,231.88 240.89,233.39 240.96,235.44 241.04,230.98 241.11,230.62 241.19,230.12 241.26,235.80 241.34,236.31 241.41,230.95 241.49,230.84 241.57,234.26 241.64,236.17 241.72,236.09 241.79,234.60 241.87,235.60 241.94,235.00 242.02,233.39 242.09,238.13 242.17,234.57 242.24,232.52 242.32,233.81 242.39,231.83 242.47,234.85 242.54,236.95 242.62,232.52 242.69,237.12 242.77,239.01 242.84,235.80 242.92,232.93 243.00,233.56 243.07,234.59 243.15,232.83 243.22,232.94 243.30,234.86 243.37,235.05 243.45,236.59 243.52,233.20 243.60,239.08 243.67,237.58 243.75,237.29 243.82,234.40 243.90,238.98 243.97,235.06 244.05,239.20 244.12,237.82 244.20,234.11 244.27,234.99 244.35,239.44 244.42,237.82 244.50,235.66 244.58,236.37 244.65,236.40 244.73,234.58 244.80,235.70 244.88,234.86 244.95,235.33 245.03,237.06 245.10,234.38 245.18,237.61 245.25,236.47 245.33,237.74 245.40,238.01 245.48,238.71 245.55,237.56 245.63,237.74 245.70,236.08 245.78,237.53 245.85,234.76 245.93,236.03 246.01,237.95 246.08,236.46 246.16,237.43 246.23,234.60 246.31,239.24 246.38,235.56 246.46,237.44 246.53,236.66 246.61,238.51 246.68,236.03 246.76,234.88 246.83,233.20 246.91,236.25 246.98,234.59 247.06,237.90 247.13,239.66 247.21,232.70 247.28,234.51 247.36,237.58 247.44,239.37 247.51,237.62 247.59,237.68 247.66,238.06 247.74,238.22 247.81,240.28 247.89,238.34 247.96,234.84 248.04,236.33 248.11,237.66 248.19,235.74 248.26,236.82 248.34,236.34 248.41,236.04 248.49,238.72 248.56,236.69 248.64,235.37 248.71,236.12 248.79,237.59 248.87,241.58 248.94,238.07 249.02,240.44 249.09,238.58 249.17,233.56 249.24,238.41 249.32,236.09 249.39,235.16 249.47,235.72 249.54,241.22 249.62,234.82 249.69,236.68 249.77,240.11 249.84,239.19 249.92,234.68 249.99,237.77 250.07,237.02 250.14,237.66 250.22,239.50 250.29,236.99 250.37,237.50 250.45,240.93 250.52,234.64 250.60,237.48 250.67,239.12 250.75,235.86 250.82,237.07 250.90,235.78 250.97,238.62 251.05,237.15 251.12,239.88 251.20,240.35 251.27,238.51 251.35,237.71 251.42,238.96 251.50,238.60 251.57,236.18 251.65,240.58 251.72,238.98 251.80,240.08 251.88,235.98 251.95,240.29 252.03,242.66 252.10,239.82 252.18,235.89 252.25,238.75 252.33,238.58 252.40,239.13 252.48,238.28 252.55,239.69 252.63,237.87 252.70,239.21 252.78,237.46 252.85,238.99 252.93,240.72 253.00,237.88 253.08,240.11 253.15,237.15 253.23,238.15 253.31,238.42 253.38,241.28 253.46,237.43 253.53,241.25 253.61,236.12 253.68,238.64 253.76,240.70 253.83,240.30 253.91,237.04 253.98,236.65 254.06,240.69 254.13,236.60 254.21,240.14 254.28,238.04 254.36,239.03 254.43,243.51 254.51,242.05 254.58,240.70 254.66,236.46 254.74,239.72 254.81,239.22 254.89,238.94 254.96,241.71 255.04,235.85 255.11,239.77 255.19,239.42 255.26,237.74 255.34,242.51 255.41,236.77 255.49,239.27 255.56,239.38 255.64,235.02 255.71,236.49 255.79,237.38 255.86,240.77 255.94,241.08 256.01,240.41 256.09,239.74 256.17,235.06 256.24,239.71 256.32,238.31 256.39,241.55 256.47,241.90 256.54,243.62 256.62,240.68 256.69,240.89 256.77,237.34 256.84,239.48 256.92,236.96 256.99,241.06 257.07,237.04 257.14,242.52 257.22,237.77 257.29,238.44 257.37,240.23 257.44,238.26 257.52,239.77 257.59,237.42 257.67,242.03 257.75,238.10 257.82,241.29 257.90,243.45 257.97,234.63 258.05,237.40 258.12,238.91 258.20,241.54 258.27,238.34 258.35,239.99 258.42,237.83 258.50,240.31 258.57,236.86 258.65,240.79 258.72,233.39 258.80,235.48 258.87,242.61 258.95,239.41 259.02,237.32 259.10,243.27 259.18,241.01 259.25,241.13 259.33,238.10 259.40,240.08 259.48,239.82 259.55,235.60 259.63,239.91 259.70,238.37 259.78,241.17 259.85,241.17 259.93,237.35 260.00,237.38 260.08,238.87 260.15,239.73 260.23,237.61 260.30,238.14 260.38,239.49 260.45,239.08 260.53,240.46 260.61,238.62 260.68,236.38 260.76,234.63 260.83,239.57 260.91,237.29 260.98,237.21 261.06,237.26 261.13,234.35 261.21,236.95 261.28,232.60 261.36,236.81 261.43,235.79 261.51,241.04 261.58,238.28 261.66,236.93 261.73,237.60 261.81,238.64 261.88,235.69 261.96,236.65 262.04,236.34 262.11,241.80 262.19,237.04 262.26,233.01 262.34,238.32 262.41,241.74 262.49,234.78 262.56,243.35 262.64,236.37 262.71,238.35 262.79,235.20 262.86,235.67 262.94,233.68 263.01,233.90 263.09,231.65 263.16,237.93 263.24,233.32 263.31,236.14 263.39,235.91 263.47,233.84 263.54,235.04 263.62,234.59 263.69,233.64 263.77,234.53 263.84,234.36 263.92,232.09 263.99,231.37 264.07,232.07 264.14,233.78 264.22,236.07 264.29,236.06 264.37,233.61 264.44,234.67 264.52,232.88 264.59,234.62 264.67,232.53 264.74,232.88 264.82,231.38 264.89,231.76 264.97,235.33 265.05,229.10 265.12,231.30 265.20,229.99 265.27,232.88 265.35,234.42 265.42,230.12 265.50,225.17 265.57,231.70 265.65,231.59 265.72,226.97 265.80,229.71 265.87,229.97 265.95,225.49 266.02,231.29 266.10,230.77 266.17,230.33 266.25,227.73 266.32,228.36 266.40,228.47 266.48,230.61 266.55,227.69 266.63,232.46 266.70,230.28 266.78,225.20 266.85,232.76 266.93,229.72 267.00,228.29 267.08,229.54 267.15,225.70 267.23,229.64 267.30,224.39 267.38,227.19 267.45,231.86 267.53,231.65 267.60,228.47 267.68,227.22 267.75,230.95 267.83,229.00 267.91,229.51 267.98,230.33 268.06,226.97 268.13,230.67 268.21,224.95 268.28,232.05 268.36,226.10 268.43,228.01 268.51,227.99 268.58,230.81 268.66,230.92 268.73,230.23 268.81,230.68 268.88,230.62 268.96,229.64 269.03,226.10 269.11,225.42 269.18,225.53 269.26,230.10 269.34,229.85 269.41,230.13 269.49,230.96 269.56,230.16 269.64,228.76 269.71,227.87 269.79,227.20 269.86,233.47 269.94,232.96 270.01,228.58 270.09,230.82 270.16,232.33 270.24,234.70 270.31,230.43 270.39,232.05 270.46,234.07 270.54,228.40 270.61,230.45 270.69,231.87 270.77,230.56 270.84,236.22 270.92,233.77 270.99,232.45 271.07,230.17 271.14,233.80 271.22,233.34 271.29,231.07 271.37,231.24 271.44,229.20 271.52,231.96 271.59,233.84 271.67,234.11 271.74,233.28 271.82,233.77 271.89,230.97 271.97,231.21 272.04,234.54 272.12,233.05 272.19,230.59 272.27,233.16 272.35,233.82 272.42,233.58 272.50,232.40 272.57,231.16 272.65,232.98 272.72,235.56 272.80,232.49 272.87,230.88 272.95,232.88 273.02,229.77 273.10,232.67 273.17,231.62 273.25,234.12 273.32,232.43 273.40,234.30 273.47,236.78 273.55,231.80 273.62,230.58 273.70,233.14 273.78,232.06 273.85,232.52 273.93,231.05 274.00,233.34 274.08,232.38 274.15,227.97 274.23,231.77 274.30,232.90 274.38,234.57 274.45,231.10 274.53,230.66 274.60,234.52 274.68,231.04 274.75,232.45 274.83,233.18 274.90,233.70 274.98,232.25 275.05,230.03 275.13,234.22 275.21,231.35 275.28,231.17 275.36,236.15 275.43,233.91 275.51,230.07 275.58,231.19 275.66,231.64 275.73,230.63 275.81,228.31 275.88,233.66 275.96,233.58 276.03,232.51 276.11,231.21 276.18,232.40 276.26,233.22 276.33,229.88 276.41,231.25 276.48,230.78 276.56,233.23 276.64,232.34 276.71,229.23 276.79,230.55 276.86,235.22 276.94,229.79 277.01,231.97 277.09,230.40 277.16,234.07 277.24,231.45 277.31,230.68 277.39,229.19 277.46,230.99 277.54,233.07 277.61,232.73 277.69,228.76 277.76,234.40 277.84,230.81 277.91,229.19 277.99,231.48 278.06,229.97 278.14,230.01 278.22,229.87 278.29,230.90 278.37,230.06 278.44,227.64 278.52,232.00 278.59,229.91 278.67,233.25 278.74,231.92 278.82,232.04 278.89,231.15 278.97,233.31 279.04,230.09 279.12,228.74 279.19,231.34 279.27,225.28 279.34,229.87 279.42,230.99 279.49,229.72 279.57,232.97 279.65,231.85 279.72,230.67 279.80,229.63 279.87,232.54 279.95,229.03 280.02,229.52 280.10,231.78 280.17,231.45 280.25,234.26 280.32,229.81 280.40,226.52 280.47,231.49 280.55,232.64 280.62,229.83 280.70,233.20 280.77,233.62 280.85,228.80 280.92,229.15 281.00,227.62 281.08,231.12 281.15,231.45 281.23,231.22 281.30,227.59 281.38,228.50 281.45,227.18 281.53,226.81 281.60,227.31 281.68,226.84 281.75,229.57 281.83,230.74 281.90,231.12 281.98,229.84 282.05,228.55 282.13,229.84 282.20,230.96 282.28,229.25 282.35,229.92 282.43,229.21 282.51,228.77 282.58,229.85 282.66,227.58 282.73,231.82 282.81,226.68 282.88,230.63 282.96,227.05 283.03,232.67 283.11,231.40 283.18,228.10 283.26,228.79 283.33,227.45 283.41,229.54 283.48,230.44 283.56,234.63 283.63,226.94 283.71,232.03 283.78,228.46 283.86,230.13 283.94,231.29 284.01,230.63 284.09,230.38 284.16,229.16 284.24,229.52 284.31,229.82 284.39,231.86 284.46,226.63 284.54,228.53 284.61,227.05 284.69,227.59 284.76,227.90 284.84,231.60 284.91,233.64 284.99,232.08 285.06,227.11 285.14,229.56 285.21,227.19 285.29,230.27 285.36,231.87 285.44,230.53 285.52,231.07 285.59,229.07 285.67,225.50 285.74,225.47 285.82,229.14 285.89,230.45 285.97,231.80 286.04,228.62 286.12,229.44 286.19,229.79 286.27,231.35 286.34,229.13 286.42,227.12 286.49,231.36 286.57,230.04 286.64,229.98 286.72,226.74 286.79,229.20 286.87,225.85 286.95,225.28 287.02,228.72 287.10,228.33 287.17,230.27 287.25,231.97 287.32,229.08 287.40,232.63 287.47,227.98 287.55,230.61 287.62,226.64 287.70,229.35 287.77,228.48 287.85,228.68 287.92,230.23 288.00,225.39 288.07,229.29 288.15,227.47 288.22,229.28 288.30,229.81" stroke-width="0.9" clip-path="url(#c2)"/>
<polyline points="32.50,322.58 32.58,320.01 32.65,318.46 32.73,320.79 32.80,320.69 32.88,317.59 32.95,318.52 33.03,317.02 33.10,319.49 33.18,315.13 33.25,317.24 33.33,313.55 33.40,318.36 33.48,313.11 33.55,315.10 33.63,317.37 33.70,316.12 33.78,315.83 33.85,314.75 33.93,315.53 34.01,313.06 34.08,316.70 34.16,317.45 34.23,317.25 34.31,315.67 34.38,317.83 34.46,316.33 34.53,317.10 34.61,315.95 34.68,315.18 34.76,313.62 34.83,310.10 34.91,315.92 34.98,314.42 35.06,318.11 35.13,310.81 35.21,315.80 35.28,312.44 35.36,314.04 35.44,312.33 35.51,314.45 35.59,313.65 35.66,315.18 35.74,313.75 35.81,314.24 35.89,315.57 35.96,314.09 36.04,312.80 36.11,315.18 36.19,312.63 36.26,313.47 36.34,312.04 36.41,311.32 36.49,306.99 36.56,313.58 36.64,310.13 36.71,313.45 36.79,315.29 36.86,309.55 36.94,313.42 37.02,311.57 37.09,312.48 37.17,309.41 37.24,311.54 37.32,311.69 37.39,313.91 37.47,315.13 37.54,311.74 37.62,310.44 37.69,315.04 37.77,310.76 37.84,310.78 37.92,310.99 37.99,311.58 38.07,311.95 38.14,309.56 38.22,310.33 38.29,313.86 38.37,313.29 38.45,311.12 38.52,310.74 38.60,309.76 38.67,311.96 38.75,309.10 38.82,310.18 38.90,309.06 38.97,308.68 39.05,309.80 39.12,309.66 39.20,308.52 39.27,309.36 39.35,309.52 39.42,308.46 39.50,308.03 39.57,308.87 39.65,310.29 39.72,310.92 39.80,309.16 39.88,308.23 39.95,308.55 40.03,311.94 40.10,310.02 40.18,306.52 40.25,308.00 40.33,306.98 40.40,307.12 40.48,304.58 40.55,307.49 40.63,304.82 40.70,306.02 40.78,309.64 40.85,308.52 40.93,304.95 41.00,304.46 41.08,304.49 41.15,302.54 41.23,303.98 41.31,305.07 41.38,303.48 41.46,306.55 41.53,304.92 41.61,303.87 41.68,307.83 41.76,305.78 41.83,304.48 41.91,307.54 41.98,306.44 42.06,302.66 42.13,304.39 42.21,302.89 42.28,300.96 42.36,306.87 42.43,306.03 42.51,300.90 42.58,299.96 42.66,300.00 42.74,304.81 42.81,302.66 42.89,302.12 42.96,304.82 43.04,302.45 43.11,301.86 43.19,303.88 43.26,301.58 43.34,303.61 43.41,301.93 43.49,303.33 43.56,302.87 43.64,303.07 43.71,299.71 43.79,304.86 43.86,301.06 43.94,304.46 44.01,300.08 44.09,300.58 44.16,300.50 44.24,302.99 44.32,300.02 44.39,301.46 44.47,297.76 44.54,299.65 44.62,300.84 44.69,300.14 44.77,296.83 44.84,301.07 44.92,298.30 44.99,303.50 45.07,299.53 45.14,303.90 45.22,300.90 45.29,300.43 45.37,298.62 45.44,299.18 45.52,300.12 45.59,295.64 45.67,300.91 45.75,296.85 45.82,298.42 45.90,293.79 45.97,299.51 46.05,299.94 46.12,298.98 46.20,298.94 46.27,297.56 46.35,298.41 46.42,300.24 46.50,297.13 46.57,298.72 46.65,299.02 46.72,297.15 46.80,297.90 46.87,297.75 46.95,296.33 47.02,301.58 47.10,296.21 47.18,300.03 47.25,298.74 47.33,292.93 47.40,297.01 47.48,298.33 47.55,297.82 47.63,294.54 47.70,296.56 47.78,293.77 47.85,293.94 47.93,295.30 48.00,295.97 48.08,298.45 48.15,296.04 48.23,297.22 48.30,292.94 48.38,292.91 48.45,294.02 48.53,298.02 48.61,292.22 48.68,291.65 48.76,294.31 48.83,296.52 48.91,291.21 48.98,293.63 49.06,291.48 49.13,296.53 49.21,295.02 49.28,294.13 49.36,293.42 49.43,292.96 49.51,293.53 49.58,291.97 49.66,291.42 49.73,290.88 49.81,292.84 49.88,291.23 49.96,294.20 50.03,288.59 50.11,293.41 50.19,293.24 50.26,294.39 50.34,291.57 50.41,289.16 50.49,290.12 50.56,293.81 50.64,291.06 50.71,290.76 50.79,290.34 50.86,291.20 50.94,290.80 51.01,288.24 51.09,289.92 51.16,292.78 51.24,293.50 51.31,290.50 51.39,289.67 51.46,293.03 51.54,290.09 51.62,288.14 51.69,289.97 51.77,291.39 51.84,292.87 51.92,288.98 51.99,290.77 52.07,289.05 52.14,291.65 52.22,289.90 52.29,289.79 52.37,287.36 52.44,288.46 52.52,288.33 52.59,282.14 52.67,290.24 52.74,288.50 52.82,287.99 52.89,287.56 52.97,288.13 53.05,288.37 53.12,285.34 53.20,287.82 53.27,287.62 53.35,287.28 53.42,284.29 53.50,286.58 53.57,284.26 53.65,287.07 53.72,288.64 53.80,287.59 53.87,285.13 53.95,284.53 54.02,284.25 54.10,285.70 54.17,283.58 54.25,283.58 54.32,279.69 54.40,282.50 54.48,282.37 54.55,282.56 54.63,285.55 54.70,280.54 54.78,280.33 54.85,283.64 54.93,280.45 55.00,281.70 55.08,282.07 55.15,281.52 55.23,279.81 55.30,282.69 55.38,283.51 55.45,278.63 55.53,279.73 55.60,281.71 55.68,279.32 55.75,277.58 55.83,278.35 55.91,280.39 55.98,276.71 56.06,278.70 56.13,278.60 56.21,276.35 56.28,278.23 56.36,278.03 56.43,278.24 56.51,277.69 56.58,272.69 56.66,276.43 56.73,275.08 56.81,274.93 56.88,270.62 56.96,272.86 57.03,270.85 57.11,266.99 57.18,270.46 57.26,265.69 57.33,264.32 57.41,266.08 57.49,263.48 57.56,264.63 57.64,263.02 57.71,263.68 57.79,264.52 57.86,263.00 57.94,264.85 58.01,265.12 58.09,262.43 58.16,266.06 58.24,266.20 58.31,265.94 58.39,268.42 58.46,270.11 58.54,269.16 58.61,265.75 58.69,269.94 58.76,269.50 58.84,269.83 58.92,271.59 58.99,271.02 59.07,275.33 59.14,273.55 59.22,273.81 59.29,275.96 59.37,276.71 59.44,278.11 59.52,277.76 59.59,277.15 59.67,278.02 59.74,274.29 59.82,275.98 59.89,280.92 59.97,278.67 60.04,282.86 60.12,283.09 60.19,277.70 60.27,280.80 60.35,285.77 60.42,279.21 60.50,281.60 60.57,280.64 60.65,280.81 60.72,280.93 60.80,281.59 60.87,283.20 60.95,279.83 61.02,283.05 61.10,280.97 61.17,283.39 61.25,283.15 61.32,281.28 61.40,283.10 61.47,281.62 61.55,281.55 61.62,285.38 61.70,280.00 61.78,284.50 61.85,284.89 61.93,282.61 62.00,285.82 62.08,285.60 62.15,281.65 62.23,285.11 62.30,285.12 62.38,283.00 62.45,285.53 62.53,285.96 62.60,283.35 62.68,281.11 62.75,285.64 62.83,283.64 62.90,281.95 62.98,284.52 63.05,280.95 63.13,284.84 63.21,288.35 63.28,280.44 63.36,286.67 63.43,284.24 63.51,285.31 63.58,284.51 63.66,287.49 63.73,286.42 63.81,285.12 63.88,284.27 63.96,286.02 64.03,289.05 64.11,284.81 64.18,287.94 64.26,287.91 64.33,283.71 64.41,289.56 64.48,287.57 64.56,291.89 64.63,291.09 64.71,287.54 64.79,287.83 64.86,286.37 64.94,285.80 65.01,289.93 65.09,288.10 65.16,287.94 65.24,288.48 65.31,290.16 65.39,290.76 65.46,289.13 65.54,288.87 65.61,289.53 65.69,293.28 65.76,285.70 65.84,287.51 65.91,290.64 65.99,290.13 66.06,292.24 66.14,292.50 66.22,293.84 66.29,288.78 66.37,291.50 66.44,290.01 66.52,292.35 66.59,290.98 66.67,292.37 66.74,289.44 66.82,291.22 66.89,290.04 66.97,290.60 67.04,290.32 67.12,289.33 67.19,293.41 67.27,291.96 67.34,293.52 67.42,289.72 67.49,288.01 67.57,290.51 67.65,291.50 67.72,293.33 67.80,293.89 67.87,294.26 67.95,294.92 68.02,293.48 68.10,292.39 68.17,290.82 68.25,293.58 68.32,291.42 68.40,290.91 68.47,293.56 68.55,292.93 68.62,294.17 68.70,291.29 68.77,294.86 68.85,293.40 68.92,292.46 69.00,291.42 69.08,290.87 69.15,290.38 69.23,295.59 69.30,290.38 69.38,294.25 69.45,292.66 69.53,292.10 69.60,292.34 69.68,293.09 69.75,295.01 69.83,294.43 69.90,293.43 69.98,290.93 70.05,290.21 70.13,297.07 70.20,291.77 70.28,290.78 70.35,295.86 70.43,291.02 70.51,295.27 70.58,295.68 70.66,294.47 70.73,295.87 70.81,291.55 70.88,291.93 70.96,293.92 71.03,294.34 71.11,294.26 71.18,295.36 71.26,293.19 71.33,290.67 71.41,295.47 71.48,294.37 71.56,296.39 71.63,298.83 71.71,295.18 71.78,296.20 71.86,293.52 71.93,296.97 72.01,295.99 72.09,295.91 72.16,297.23 72.24,293.50 72.31,296.75 72.39,296.64 72.46,298.84 72.54,292.59 72.61,295.88 72.69,300.23 72.76,295.47 72.84,295.50 72.91,299.74 72.99,301.17 73.06,296.81 73.14,295.35 73.21,295.67 73.29,296.13 73.36,295.39 73.44,295.55 73.52,297.47 73.59,297.31 73.67,298.23 73.74,297.48 73.82,295.27 73.89,299.00 73.97,298.17 74.04,296.72 74.12,297.40 74.19,298.60 74.27,298.24 74.34,297.95 74.42,299.71 74.49,300.36 74.57,297.89 74.64,298.53 74.72,296.60 74.79,298.44 74.87,299.74 74.95,300.56 75.02,299.35 75.10,298.97 75.17,297.89 75.25,299.72 75.32,297.38 75.40,299.74 75.47,299.63 75.55,298.00 75.62,300.39 75.70,299.47 75.77,301.08 75.85,299.15 75.92,301.04 76.00,303.14 76.07,300.65 76.15,301.87 76.22,299.29 76.30,299.91 76.38,297.14 76.45,300.46 76.53,298.72 76.60,301.12 76.68,297.15 76.75,299.46 76.83,301.30 76.90,301.96 76.98,298.22 77.05,300.61 77.13,306.23 77.20,303.00 77.28,301.91 77.35,296.55 77.43,300.04 77.50,302.80 77.58,302.34 77.65,302.82 77.73,303.83 77.80,302.30 77.88,303.77 77.96,298.92 78.03,306.99 78.11,301.85 78.18,301.27 78.26,305.33 78.33,303.74 78.41,304.49 78.48,301.60 78.56,303.34 78.63,304.21 78.71,300.84 78.78,302.62 78.86,302.64 78.93,302.62 79.01,301.92 79.08,300.95 79.16,304.16 79.23,303.88 79.31,305.64 79.39,303.43 79.46,302.38 79.54,300.99 79.61,303.91 79.69,303.24 79.76,307.63 79.84,308.21 79.91,306.95 79.99,302.40 80.06,301.55 80.14,303.77 80.21,302.61 80.29,306.98 80.36,304.62 80.44,303.71 80.51,304.50 80.59,306.92 80.66,302.90 80.74,305.62 80.82,302.32 80.89,304.45 80.97,303.67 81.04,305.55 81.12,305.31 81.19,307.32 81.27,306.43 81.34,304.09 81.42,302.81 81.49,303.82 81.57,304.60 81.64,305.03 81.72,304.11 81.79,307.59 81.87,307.37 81.94,305.20 82.02,304.84 82.09,305.38 82.17,305.80 82.25,305.90 82.32,302.99 82.40,305.26 82.47,302.64 82.55,306.25 82.62,307.50 82.70,304.33 82.77,306.67 82.85,305.28 82.92,305.19 83.00,310.19 83.07,308.26 83.15,307.56 83.22,305.91 83.30,307.54 83.37,306.48 83.45,307.74 83.52,305.29 83.60,306.89 83.68,306.34 83.75,304.51 83.83,310.34 83.90,308.77 83.98,305.85 84.05,304.64 84.13,306.08 84.20,305.93 84.28,306.42 84.35,304.80 84.43,306.13 84.50,307.85 84.58,308.56 84.65,304.16 84.73,307.91 84.80,306.13 84.88,306.09 84.95,307.49 85.03,306.87 85.10,309.51 85.18,309.57 85.26,307.76 85.33,307.19 85.41,311.79 85.48,311.99 85.56,309.29 85.63,308.34 85.71,310.57 85.78,311.46 85.86,307.83 85.93,312.24 86.01,308.64 86.08,311.03 86.16,308.09 86.23,309.24 86.31,308.33 86.38,309.28 86.46,311.20 86.53,307.68 86.61,308.86 86.69,310.49 86.76,308.66 86.84,313.41 86.91,306.92 86.99,314.47 87.06,308.54 87.14,311.66 87.21,312.92 87.29,310.95 87.36,307.37 87.44,309.45 87.51,310.26 87.59,311.26 87.66,312.10 87.74,312.42 87.81,313.14 87.89,308.64 87.96,312.35 88.04,307.27 88.12,310.88 88.19,308.65 88.27,307.38 88.34,312.51 88.42,310.78 88.49,312.76 88.57,307.98 88.64,308.72 88.72,310.88 88.79,309.87 88.87,311.32 88.94,310.06 89.02,310.65 89.09,309.20 89.17,313.82 89.24,310.86 89.32,309.29 89.39,312.85 89.47,312.54 89.55,312.09 89.62,312.16 89.70,311.05 89.77,311.60 89.85,307.73 89.92,309.02 90.00,309.69 90.07,312.60 90.15,314.41 90.22,311.85 90.30,311.71 90.37,314.39 90.45,311.63 90.52,313.61 90.60,313.23 90.67,309.97 90.75,313.11 90.82,312.96 90.90,310.45 90.98,310.72 91.05,310.31 91.13,315.36 91.20,316.80 91.28,314.20 91.35,315.87 91.43,310.41 91.50,315.66 91.58,316.78 91.65,316.15 91.73,311.37 91.80,315.24 91.88,313.02 91.95,315.31 92.03,312.11 92.10,313.39 92.18,312.33 92.25,314.35 92.33,313.30 92.40,315.64 92.48,315.13 92.56,314.40 92.63,313.59 92.71,313.13 92.78,313.75 92.86,315.20 92.93,314.06 93.01,314.41 93.08,313.82 93.16,313.79 93.23,312.71 93.31,310.46 93.38,315.13 93.46,315.14 93.53,312.28 93.61,317.77 93.68,311.98 93.76,316.12 93.83,314.74 93.91,314.90 93.99,316.49 94.06,316.12 94.14,314.45 94.21,312.44 94.29,312.16 94.36,314.87 94.44,317.53 94.51,316.24 94.59,314.55 94.66,315.27 94.74,315.98 94.81,317.97 94.89,313.31 94.96,316.15 95.04,315.34 95.11,313.41 95.19,312.95 95.26,317.32 95.34,315.57 95.42,314.58 95.49,315.20 95.57,316.90 95.64,315.25 95.72,318.15 95.79,314.65 95.87,313.69 95.94,314.99 96.02,313.46 96.09,314.61 96.17,317.63 96.24,318.57 96.32,316.57 96.39,315.78 96.47,313.71 96.54,313.57 96.62,316.20 96.69,315.85 96.77,314.47 96.85,314.76 96.92,318.59 97.00,317.55 97.07,315.81 97.15,316.17 97.22,318.19 97.30,316.49 97.37,316.29 97.45,312.89 97.52,312.71 97.60,312.32 97.67,311.71 97.75,315.99 97.82,316.68 97.90,314.43 97.97,316.96 98.05,317.00 98.12,312.90 98.20,313.44 98.27,319.01 98.35,318.92 98.43,315.25 98.50,320.07 98.58,316.51 98.65,314.97 98.73,315.72 98.80,313.02 98.88,315.92 98.95,313.58 99.03,318.81 99.10,317.31 99.18,314.11 99.25,317.87 99.33,313.57 99.40,317.17 99.48,317.82 99.55,317.08 99.63,314.86 99.70,316.83 99.78,316.74 99.86,317.24 99.93,320.00 100.01,320.44 100.08,320.27 100.16,316.11 100.23,315.94 100.31,317.45 100.38,318.28 100.46,313.59 100.53,316.38 100.61,322.26 100.68,315.29 100.76,316.29 100.83,316.40 100.91,318.72 100.98,317.72 101.06,317.28 101.13,315.06 101.21,319.15 101.29,318.05 101.36,316.83 101.44,318.19 101.51,319.69 101.59,315.44 101.66,315.35 101.74,316.41 101.81,316.74 101.89,312.66 101.96,317.36 102.04,320.67 102.11,317.98 102.19,320.60 102.26,313.25 102.34,318.55 102.41,321.46 102.49,321.86 102.56,317.98 102.64,317.41 102.72,319.77 102.79,316.77 102.87,318.45 102.94,316.02 103.02,319.41 103.09,319.31 103.17,322.46 103.24,320.09 103.32,318.21 103.39,319.34 103.47,317.12 103.54,319.69 103.62,319.27 103.69,320.54 103.77,321.56 103.84,316.04 103.92,320.52 103.99,321.35 104.07,317.72 104.15,323.67 104.22,318.74 104.30,324.85 104.37,321.71 104.45,322.11 104.52,320.84 104.60,322.30 104.67,318.45 104.75,318.94 104.82,316.80 104.90,321.62 104.97,319.28 105.05,322.12 105.12,321.87 105.20,318.24 105.27,322.18 105.35,321.39 105.42,321.33 105.50,321.87 105.57,320.99 105.65,321.12 105.73,323.15 105.80,319.30 105.88,318.95 105.95,319.84 106.03,323.31 106.10,320.77 106.18,325.08 106.25,315.61 106.33,320.17 106.40,320.73 106.48,322.14 106.55,324.22 106.63,321.36 106.70,319.83 106.78,323.40 106.85,324.81 106.93,317.03 107.00,323.05 107.08,322.55 107.16,320.45 107.23,321.17 107.31,322.68 107.38,322.22 107.46,321.74 107.53,320.03 107.61,322.84 107.68,321.08 107.76,322.55 107.83,321.31 107.91,322.86 107.98,323.94 108.06,323.01 108.13,323.86 108.21,320.01 108.28,323.58 108.36,323.29 108.43,321.58 108.51,322.51 108.59,317.53 108.66,323.05 108.74,322.17 108.81,318.67 108.89,323.99 108.96,321.86 109.04,323.64 109.11,322.70 109.19,324.12 109.26,323.40 109.34,322.73 109.41,324.26 109.49,324.95 109.56,319.09 109.64,323.50 109.71,322.35 109.79,321.42 109.86,326.05 109.94,325.44 110.02,321.68 110.09,321.57 110.17,325.29 110.24,322.58 110.32,323.19 110.39,320.11 110.47,323.64 110.54,326.10 110.62,323.10 110.69,323.80 110.77,327.38 110.84,325.77 110.92,326.85 110.99,325.38 111.07,326.51 111.14,321.10 111.22,322.75 111.29,321.20 111.37,328.61 111.45,324.77 111.52,324.23 111.60,323.07 111.67,322.62 111.75,319.26 111.82,328.90 111.90,324.52 111.97,324.83 112.05,322.08 112.12,324.68 112.20,325.56 112.27,324.72 112.35,326.10 112.42,323.36 112.50,325.62 112.57,326.74 112.65,326.15 112.72,325.85 112.80,324.97 112.87,323.33 112.95,326.30 113.03,324.55 113.10,323.54 113.18,326.83 113.25,322.36 113.33,324.40 113.40,326.98 113.48,327.35 113.55,324.88 113.63,325.75 113.70,326.70 113.78,325.58 113.85,324.29 113.93,326.63 114.00,326.16 114.08,326.09 114.15,328.05 114.23,326.55 114.30,325.14 114.38,326.37 114.46,329.79 114.53,324.78 114.61,325.68 114.68,324.70 114.76,326.94 114.83,323.91 114.91,327.20 114.98,327.84 115.06,324.97 115.13,324.87 115.21,323.70 115.28,326.65 115.36,324.48 115.43,325.46 115.51,325.89 115.58,325.43 115.66,328.36 115.73,329.85 115.81,322.81 115.89,325.36 115.96,327.42 116.04,324.99 116.11,326.01 116.19,327.47 116.26,329.76 116.34,329.39 116.41,326.64 116.49,327.49 116.56,326.59 116.64,326.99 116.71,325.14 116.79,324.05 116.86,326.76 116.94,329.35 117.01,328.99 117.09,324.04 117.16,327.26 117.24,326.47 117.32,328.26 117.39,325.67 117.47,329.53 117.54,327.45 117.62,328.98 117.69,329.59 117.77,324.28 117.84,327.60 117.92,330.93 117.99,328.13 118.07,330.12 118.14,328.98 118.22,327.28 118.29,331.59 118.37,330.31 118.44,330.80 118.52,331.15 118.59,326.34 118.67,330.06 118.75,325.91 118.82,328.33 118.90,328.22 118.97,329.85 119.05,329.30 119.12,331.12 119.20,327.63 119.27,330.43 119.35,329.62 119.42,328.93 119.50,326.69 119.57,330.09 119.65,329.66 119.72,330.60 119.80,329.07 119.87,328.70 119.95,329.97 120.02,330.16 120.10,330.63 120.17,332.96 120.25,328.24 120.33,333.26 120.40,323.89 120.48,331.37 120.55,328.04 120.63,333.45 120.70,328.00 120.78,331.75 120.85,327.90 120.93,327.68 121.00,331.40 121.08,331.57 121.15,328.64 121.23,334.57 121.30,329.45 121.38,333.07 121.45,328.24 121.53,328.39 121.60,330.44 121.68,328.41 121.76,331.25 121.83,326.38 121.91,330.85 121.98,329.51 122.06,328.82 122.13,331.10 122.21,330.34 122.28,329.98 122.36,332.43 122.43,331.52 122.51,331.75 122.58,333.61 122.66,331.02 122.73,332.81 122.81,330.50 122.88,332.51 122.96,332.42 123.03,330.45 123.11,328.68 123.19,329.19 123.26,329.89 123.34,332.78 123.41,331.53 123.49,331.28 123.56,332.80 123.64,333.34 123.71,334.65 123.79,330.93 123.86,333.15 123.94,333.49 124.01,330.39 124.09,332.47 124.16,330.54 124.24,331.88 124.31,333.14 124.39,329.16 124.46,330.75 124.54,330.90 124.62,332.62 124.69,331.07 124.77,333.18 124.84,330.87 124.92,331.52 124.99,333.64 125.07,333.09 125.14,332.77 125.22,332.39 125.29,334.34 125.37,335.01 125.44,331.67 125.52,330.95 125.59,330.31 125.67,335.49 125.74,330.46 125.82,329.58 125.89,332.51 125.97,333.90 126.04,329.49 126.12,331.50 126.20,328.92 126.27,330.21 126.35,334.48 126.42,331.61 126.50,330.67 126.57,331.17 126.65,331.44 126.72,330.57 126.80,328.37 126.87,328.24 126.95,334.11 127.02,328.71 127.10,332.25 127.17,328.47 127.25,332.11 127.32,330.79 127.40,328.90 127.47,332.91 127.55,327.16 127.63,328.29 127.70,326.91 127.78,326.87 127.85,327.45 127.93,326.11 128.00,327.05 128.08,330.33 128.15,323.69 128.23,324.18 128.30,324.29 128.38,324.70 128.45,326.94 128.53,325.82 128.60,324.76 128.68,323.62 128.75,327.12 128.83,319.81 128.90,319.10 128.98,320.56 129.06,320.33 129.13,318.83 129.21,317.03 129.28,315.51 129.36,316.83 129.43,315.40 129.51,315.17 129.58,313.32 129.66,317.12 129.73,314.63 129.81,316.43 129.88,311.10 129.96,311.30 130.03,309.84 130.11,309.46 130.18,308.06 130.26,307.38 130.33,303.15 130.41,305.56 130.49,306.64 130.56,300.96 130.64,303.35 130.71,304.53 130.79,305.35 130.86,302.41 130.94,303.13 131.01,305.39 131.09,304.45 131.16,301.16 131.24,300.95 131.31,304.13 131.39,302.79 131.46,301.55 131.54,302.39 131.61,303.70 131.69,303.04 131.76,303.29 131.84,303.69 131.92,301.72 131.99,308.23 132.07,307.69 132.14,308.69 132.22,306.04 132.29,307.00 132.37,308.33 132.44,309.26 132.52,304.74 132.59,309.33 132.67,307.24 132.74,309.44 132.82,308.76 132.89,313.65 132.97,311.85 133.04,311.17 133.12,314.25 133.19,311.90 133.27,311.09 133.34,312.55 133.42,312.65 133.50,313.89 133.57,315.84 133.65,314.50 133.72,315.07 133.80,317.58 133.87,316.69 133.95,318.41 134.02,317.34 134.10,315.10 134.17,315.90 134.25,315.34 134.32,321.06 134.40,320.14 134.47,318.88 134.55,318.32 134.62,321.27 134.70,320.72 134.77,321.94 134.85,320.09 134.93,319.92 135.00,325.27 135.08,320.80 135.15,322.80 135.23,325.60 135.30,319.85 135.38,324.84 135.45,323.87 135.53,323.68 135.60,324.67 135.68,322.13 135.75,320.39 135.83,328.33 135.90,324.43 135.98,326.85 136.05,327.45 136.13,326.10 136.20,326.60 136.28,327.27 136.36,329.08 136.43,327.21 136.51,328.84 136.58,326.09 136.66,326.01 136.73,327.14 136.81,327.90 136.88,328.31 136.96,331.13 137.03,329.20 137.11,327.90 137.18,331.67 137.26,328.70 137.33,328.90 137.41,329.29 137.48,327.88 137.56,326.59 137.63,329.03 137.71,328.33 137.79,327.42 137.86,329.40 137.94,328.92 138.01,328.31 138.09,326.20 138.16,329.34 138.24,333.07 138.31,331.55 138.39,332.02 138.46,330.06 138.54,332.19 138.61,329.04 138.69,329.54 138.76,331.47 138.84,327.91 138.91,330.79 138.99,331.34 139.06,334.03 139.14,329.63 139.22,331.82 139.29,329.88 139.37,330.16 139.44,326.19 139.52,329.56 139.59,333.56 139.67,332.44 139.74,331.83 139.82,336.23 139.89,332.69 139.97,329.41 140.04,331.42 140.12,331.76 140.19,334.95 140.27,330.31 140.34,332.86 140.42,333.97 140.49,330.68 140.57,332.43 140.64,328.55 140.72,332.58 140.80,328.31 140.87,331.79 140.95,335.81 141.02,333.40 141.10,332.79 141.17,333.04 141.25,336.86 141.32,333.91 141.40,334.88 141.47,332.16 141.55,332.22 141.62,331.12 141.70,332.81 141.77,331.88 141.85,335.09 141.92,334.49 142.00,333.11 142.07,332.36 142.15,327.99 142.23,332.36 142.30,334.08 142.38,334.79 142.45,327.80 142.53,329.12 142.60,333.96 142.68,331.76 142.75,333.32 142.83,332.87 142.90,334.89 142.98,330.33 143.05,332.77 143.13,335.64 143.20,334.28 143.28,332.36 143.35,334.78 143.43,334.48 143.50,332.29 143.58,335.27 143.66,335.25 143.73,333.75 143.81,335.77 143.88,331.13 143.96,335.45 144.03,333.65 144.11,332.25 144.18,332.88 144.26,336.19 144.33,332.94 144.41,333.32 144.48,332.73 144.56,332.45 144.63,335.72 144.71,338.05 144.78,336.39 144.86,334.80 144.93,335.24 145.01,333.14 145.09,332.82 145.16,331.52 145.24,336.39 145.31,333.01 145.39,332.26 145.46,332.37 145.54,333.88 145.61,332.45 145.69,333.47 145.76,333.70 145.84,335.85 145.91,330.96 145.99,333.80 146.06,331.89 146.14,332.33 146.21,336.13 146.29,334.21 146.36,332.25 146.44,333.84 146.52,332.83 146.59,334.89 146.67,331.84 146.74,333.61 146.82,332.25 146.89,332.60 146.97,332.23 147.04,331.29 147.12,332.60 147.19,334.18 147.27,331.14 147.34,331.49 147.42,332.85 147.49,330.69 147.57,333.67 147.64,333.31 147.72,327.62 147.79,330.64 147.87,329.78 147.94,333.30 148.02,333.45 148.10,329.39 148.17,330.29 148.25,331.38 148.32,330.78 148.40,332.77 148.47,333.20 148.55,332.42 148.62,333.30 148.70,332.95 148.77,331.00 148.85,330.25 148.92,329.61 149.00,332.46 149.07,332.52 149.15,332.69 149.22,330.09 149.30,329.90 149.37,331.05 149.45,332.82 149.53,331.07 149.60,330.74 149.68,328.69 149.75,330.98 149.83,331.07 149.90,328.20 149.98,333.19 150.05,328.09 150.13,331.46 150.20,329.26 150.28,329.85 150.35,327.99 150.43,328.32 150.50,330.60 150.58,328.84 150.65,328.48 150.73,330.69 150.80,330.28 150.88,329.17 150.96,329.21 151.03,331.91 151.11,328.29 151.18,329.26 151.26,329.24 151.33,325.75 151.41,324.67 151.48,328.45 151.56,329.76 151.63,328.44 151.71,326.99 151.78,326.69 151.86,329.37 151.93,327.23 152.01,324.71 152.08,328.93 152.16,328.04 152.23,328.25 152.31,329.43 152.39,329.91 152.46,328.43 152.54,327.01 152.61,323.33 152.69,327.80 152.76,326.93 152.84,329.65 152.91,329.54 152.99,328.01 153.06,329.66 153.14,326.93 153.21,326.97 153.29,325.46 153.36,326.45 153.44,327.42 153.51,329.01 153.59,325.65 153.66,328.52 153.74,331.40 153.81,324.51 153.89,326.54 153.97,327.06 154.04,328.91 154.12,330.74 154.19,329.33 154.27,326.96 154.34,325.44 154.42,326.92 154.49,326.95 154.57,327.48 154.64,325.35 154.72,329.88 154.79,325.67 154.87,328.30 154.94,327.42 155.02,324.97 155.09,327.15 155.17,327.06 155.24,326.67 155.32,328.53 155.40,326.13 155.47,331.79 155.55,329.14 155.62,325.31 155.70,322.36 155.77,329.38 155.85,327.50 155.92,327.20 156.00,325.24 156.07,324.39 156.15,323.63 156.22,331.97 156.30,330.21 156.37,326.21 156.45,330.82 156.52,323.88 156.60,328.73 156.67,328.80 156.75,325.93 156.83,326.77 156.90,325.74 156.98,327.85 157.05,330.33 157.13,329.81 157.20,328.82 157.28,330.23 157.35,324.86 157.43,332.12 157.50,328.32 157.58,326.04 157.65,327.90 157.73,327.50 157.80,329.01 157.88,329.53 157.95,324.66 158.03,331.54 158.10,332.53 158.18,327.44 158.26,332.28 158.33,331.99 158.41,331.64 158.48,332.92 158.56,327.34 158.63,331.44 158.71,328.28 158.78,334.77 158.86,328.58 158.93,328.21 159.01,332.75 159.08,331.92 159.16,330.90 159.23,331.21 159.31,332.22 159.38,334.43 159.46,329.91 159.53,330.30 159.61,330.36 159.69,331.41 159.76,331.66 159.84,329.29 159.91,332.38 159.99,329.50 160.06,331.38 160.14,331.57 160.21,331.65 160.29,334.99 160.36,335.36 160.44,334.37 160.51,335.40 160.59,331.93 160.66,335.21 160.74,332.52 160.81,333.12 160.89,333.27 160.96,330.29 161.04,331.74 161.11,332.66 161.19,333.73 161.27,332.86 161.34,331.55 161.42,331.04 161.49,333.32 161.57,331.13 161.64,331.21 161.72,333.31 161.79,333.91 161.87,332.07 161.94,330.33 162.02,334.32 162.09,335.39 162.17,333.13 162.24,333.25 162.32,329.62 162.39,335.81 162.47,332.08 162.54,335.59 162.62,333.17 162.70,334.08 162.77,334.06 162.85,331.07 162.92,339.77 163.00,331.64 163.07,334.88 163.15,333.19 163.22,334.34 163.30,337.47 163.37,331.38 163.45,334.71 163.52,335.98 163.60,335.33 163.67,335.92 163.75,333.80 163.82,332.17 163.90,332.86 163.97,334.63 164.05,336.88 164.13,335.68 164.20,338.64 164.28,335.84 164.35,336.08 164.43,336.15 164.50,332.54 164.58,336.98 164.65,333.84 164.73,335.29 164.80,340.52 164.88,333.78 164.95,336.41 165.03,336.80 165.10,336.55 165.18,336.37 165.25,335.36 165.33,340.26 165.40,332.73 165.48,334.65 165.56,339.47 165.63,337.76 165.71,335.32 165.78,335.12 165.86,336.42 165.93,341.96 166.01,337.94 166.08,335.10 166.16,337.57 166.23,335.99 166.31,340.08 166.38,337.85 166.46,339.74 166.53,337.71 166.61,341.34 166.68,338.30 166.76,338.11 166.83,335.69 166.91,336.89 166.99,338.48 167.06,336.85 167.14,342.58 167.21,337.89 167.29,336.51 167.36,339.89 167.44,337.06 167.51,338.90 167.59,338.00 167.66,336.86 167.74,340.92 167.81,338.51 167.89,340.46 167.96,337.80 168.04,335.79 168.11,336.19 168.19,337.62 168.26,338.31 168.34,338.82 168.41,339.74 168.49,336.45 168.57,339.30 168.64,336.61 168.72,337.67 168.79,343.90 168.87,341.50 168.94,338.44 169.02,342.59 169.09,341.93 169.17,340.98 169.24,342.13 169.32,338.92 169.39,339.20 169.47,337.86 169.54,340.65 169.62,337.22 169.69,338.69 169.77,340.57 169.84,338.79 169.92,340.46 170.00,343.32 170.07,338.04 170.15,342.63 170.22,338.72 170.30,338.29 170.37,340.55 170.45,342.12 170.52,338.87 170.60,338.89 170.67,339.49 170.75,339.01 170.82,340.79 170.90,339.13 170.97,340.06 171.05,341.26 171.12,339.85 171.20,342.89 171.27,339.47 171.35,339.34 171.43,344.73 171.50,343.77 171.58,341.10 171.65,342.60 171.73,341.72 171.80,340.16 171.88,342.47 171.95,341.82 172.03,343.73 172.10,337.85 172.18,342.94 172.25,341.78 172.33,340.21 172.40,340.75 172.48,340.86 172.55,339.17 172.63,340.65 172.70,343.28 172.78,338.97 172.86,341.19 172.93,337.47 173.01,340.92 173.08,342.82 173.16,342.04 173.23,342.27 173.31,340.12 173.38,343.38 173.46,340.64 173.53,344.14 173.61,342.88 173.68,341.80 173.76,345.41 173.83,341.89 173.91,344.65 173.98,342.96 174.06,342.82 174.13,344.77 174.21,343.76 174.28,342.97 174.36,342.82 174.44,343.50 174.51,343.32 174.59,342.60 174.66,341.30 174.74,338.41 174.81,343.18 174.89,342.98 174.96,345.81 175.04,344.41 175.11,345.78 175.19,346.97 175.26,343.53 175.34,342.19 175.41,345.40 175.49,342.77 175.56,343.47 175.64,346.75 175.71,345.12 175.79,346.21 175.87,341.62 175.94,344.31 176.02,346.42 176.09,341.92 176.17,344.78 176.24,345.23 176.32,340.14 176.39,347.61 176.47,343.27 176.54,344.42 176.62,347.93 176.69,341.39 176.77,345.73 176.84,344.05 176.92,345.04 176.99,343.45 177.07,347.66 177.14,342.99 177.22,345.86 177.30,346.25 177.37,345.10 177.45,344.81 177.52,344.88 177.60,347.38 177.67,346.35 177.75,345.38 177.82,343.52 177.90,345.95 177.97,346.72 178.05,345.70 178.12,348.56 178.20,342.26 178.27,350.69 178.35,345.66 178.42,343.91 178.50,342.82 178.57,347.84 178.65,347.35 178.73,345.91 178.80,346.28 178.88,346.76 178.95,345.69 179.03,348.74 179.10,347.79 179.18,346.43 179.25,343.59 179.33,349.35 179.40,345.88 179.48,344.87 179.55,349.32 179.63,347.85 179.70,343.10 179.78,343.80 179.85,346.23 179.93,344.61 180.00,346.72 180.08,351.99 180.16,352.70 180.23,346.96 180.31,348.57 180.38,348.75 180.46,346.84 180.53,344.27 180.61,349.13 180.68,346.75 180.76,347.96 180.83,348.45 180.91,345.57 180.98,350.32 181.06,347.26 181.13,347.55 181.21,346.31 181.28,348.49 181.36,349.07 181.43,346.09 181.51,348.26 181.58,346.33 181.66,344.82 181.74,346.53 181.81,348.32 181.89,348.22 181.96,349.23 182.04,345.89 182.11,346.60 182.19,347.32 182.26,348.37 182.34,346.97 182.41,345.39 182.49,344.25 182.56,349.44 182.64,349.24 182.71,345.94 182.79,350.03 182.86,347.09 182.94,348.08 183.01,349.63 183.09,346.31 183.17,345.75 183.24,343.93 183.32,347.82 183.39,348.10 183.47,348.89 183.54,348.41 183.62,347.46 183.69,349.45 183.77,345.32 183.84,348.02 183.92,348.26 183.99,347.06 184.07,350.59 184.14,348.14 184.22,349.88 184.29,349.03 184.37,346.98 184.44,351.02 184.52,349.46 184.60,347.39 184.67,347.14 184.75,345.40 184.82,347.10 184.90,346.94 184.97,347.81 185.05,346.61 185.12,348.52 185.20,347.29 185.27,344.44 185.35,346.50 185.42,345.77 185.50,345.07 185.57,347.03 185.65,349.27 185.72,345.41 185.80,343.74 185.87,347.27 185.95,353.30 186.03,346.49 186.10,348.15 186.18,346.87 186.25,349.31 186.33,350.44 186.40,347.41 186.48,349.99 186.55,345.68 186.63,348.17 186.70,345.37 186.78,348.17 186.85,346.67 186.93,348.31 187.00,345.74 187.08,348.34 187.15,348.14 187.23,346.86 187.30,346.44 187.38,345.73 187.46,347.26 187.53,348.81 187.61,347.82 187.68,348.39 187.76,350.54 187.83,347.53 187.91,348.73 187.98,349.78 188.06,349.21 188.13,348.99 188.21,348.43 188.28,351.98 188.36,348.19 188.43,347.62 188.51,349.51 188.58,351.53 188.66,351.14 188.73,348.53 188.81,350.09 188.88,349.48 188.96,348.70 189.04,349.83 189.11,349.80 189.19,348.91 189.26,351.96 189.34,347.98 189.41,351.39 189.49,352.77 189.56,352.82 189.64,349.34 189.71,348.50 189.79,345.84 189.86,348.80 189.94,353.60 190.01,345.99 190.09,346.06 190.16,350.63 190.24,350.24 190.31,345.62 190.39,349.02 190.47,349.82 190.54,346.31 190.62,351.07 190.69,346.75 190.77,351.48 190.84,349.74 190.92,348.07 190.99,346.37 191.07,348.83 191.14,349.35 191.22,349.33 191.29,348.49 191.37,349.27 191.44,351.38 191.52,348.03 191.59,349.42 191.67,350.74 191.74,349.87 191.82,351.62 191.90,352.98 191.97,349.40 192.05,350.54 192.12,344.58 192.20,349.57 192.27,351.57 192.35,348.21 192.42,352.94 192.50,346.87 192.57,353.09 192.65,349.59 192.72,348.68 192.80,349.76 192.87,350.24 192.95,348.87 193.02,348.23 193.10,349.92 193.17,352.78 193.25,351.81 193.33,353.66 193.40,349.99 193.48,350.54 193.55,350.63 193.63,351.60 193.70,352.27 193.78,354.80 193.85,352.85 193.93,351.88 194.00,354.21 194.08,350.19 194.15,349.23 194.23,353.07 194.30,352.17 194.38,352.14 194.45,353.74 194.53,351.38 194.60,351.86 194.68,352.85 194.76,353.42 194.83,354.11 194.91,352.51 194.98,352.85 195.06,347.78 195.13,354.78 195.21,349.50 195.28,352.46 195.36,357.42 195.43,352.02 195.51,349.67 195.58,355.80 195.66,351.72 195.73,352.51 195.81,352.55 195.88,354.31 195.96,354.43 196.03,352.75 196.11,355.14 196.18,351.35 196.26,354.39 196.34,351.95 196.41,354.51 196.49,353.31 196.56,352.42 196.64,356.10 196.71,351.19 196.79,351.12 196.86,354.49 196.94,352.92 197.01,352.65 197.09,353.23 197.16,357.57 197.24,351.60 197.31,353.09 197.39,353.95 197.46,351.88 197.54,353.64 197.61,354.66 197.69,352.04 197.77,355.93 197.84,351.66 197.92,353.60 197.99,354.54 198.07,359.99 198.14,350.64 198.22,354.53 198.29,358.83 198.37,352.93 198.44,356.16 198.52,354.53 198.59,351.44 198.67,354.94 198.74,352.52 198.82,354.41 198.89,351.42 198.97,355.70 199.04,349.75 199.12,354.04 199.20,356.84 199.27,355.41 199.35,353.79 199.42,354.04 199.50,353.14 199.57,359.71 199.65,354.47 199.72,354.58 199.80,353.23 199.87,353.76 199.95,355.85 200.02,353.56 200.10,353.21 200.17,353.73 200.25,354.13 200.32,355.16 200.40,353.94 200.47,354.52 200.55,353.49 200.63,357.30 200.70,355.15 200.78,354.40 200.85,355.58 200.93,354.97 201.00,352.11 201.08,354.77 201.15,358.28 201.23,356.13 201.30,357.44 201.38,353.95 201.45,352.43 201.53,353.96 201.60,357.88 201.68,353.44 201.75,353.86 201.83,357.50 201.90,354.95 201.98,355.08 202.05,356.20 202.13,355.67 202.21,354.96 202.28,356.05 202.36,354.24 202.43,355.54 202.51,356.90 202.58,353.67 202.66,355.30 202.73,353.57 202.81,357.19 202.88,356.97 202.96,357.62 203.03,357.82 203.11,357.83 203.18,357.28 203.26,354.47 203.33,357.75 203.41,354.27 203.48,360.47 203.56,356.61 203.64,357.22 203.71,353.78 203.79,358.20 203.86,358.42 203.94,353.24 204.01,355.20 204.09,355.40 204.16,355.09 204.24,358.98 204.31,360.50 204.39,354.40 204.46,358.45 204.54,355.99 204.61,359.13 204.69,351.91 204.76,355.77 204.84,358.94 204.91,355.22 204.99,358.97 205.07,355.77 205.14,358.94 205.22,357.92 205.29,356.05 205.37,355.43 205.44,356.60 205.52,359.16 205.59,356.98 205.67,355.77 205.74,363.38 205.82,354.10 205.89,356.71 205.97,358.20 206.04,355.22 206.12,357.22 206.19,356.48 206.27,354.50 206.34,358.22 206.42,355.23 206.50,355.99 206.57,359.81 206.65,355.37 206.72,358.68 206.80,359.82 206.87,359.49 206.95,358.53 207.02,357.22 207.10,355.04 207.17,358.01 207.25,358.62 207.32,356.83 207.40,355.96 207.47,359.52 207.55,355.90 207.62,358.77 207.70,357.05 207.77,354.79 207.85,361.09 207.93,359.22 208.00,359.12 208.08,355.42 208.15,357.90 208.23,358.70 208.30,356.78 208.38,361.36 208.45,354.40 208.53,359.61 208.60,354.70 208.68,355.34 208.75,355.90 208.83,359.45 208.90,357.03 208.98,357.13 209.05,356.70 209.13,355.63 209.20,356.75 209.28,356.60 209.35,357.89 209.43,357.79 209.51,353.96 209.58,357.31 209.66,360.86 209.73,357.66 209.81,358.43 209.88,357.21 209.96,357.29 210.03,358.46 210.11,356.04 210.18,358.30 210.26,355.45 210.33,359.26 210.41,355.64 210.48,359.88 210.56,360.57 210.63,355.56 210.71,359.93 210.78,357.87 210.86,360.86 210.94,357.64 211.01,358.12 211.09,358.10 211.16,361.05 211.24,354.98 211.31,360.12 211.39,358.85 211.46,357.74 211.54,358.22 211.61,360.46 211.69,360.25 211.76,361.91 211.84,357.47 211.91,355.10 211.99,357.65 212.06,358.34 212.14,357.87 212.21,361.03 212.29,363.05 212.37,359.44 212.44,355.33 212.52,360.70 212.59,357.50 212.67,358.81 212.74,360.33 212.82,359.44 212.89,358.61 212.97,359.29 213.04,360.19 213.12,359.95 213.19,362.69 213.27,353.07 213.34,357.27 213.42,357.65 213.49,360.33 213.57,359.19 213.64,360.39 213.72,356.06 213.80,358.36 213.87,360.00 213.95,358.68 214.02,358.02 214.10,359.30 214.17,361.92 214.25,354.78 214.32,361.81 214.40,359.32 214.47,357.16 214.55,360.04 214.62,358.87 214.70,361.09 214.77,357.26 214.85,360.63 214.92,357.07 215.00,359.40 215.07,360.12 215.15,358.64 215.23,360.01 215.30,357.66 215.38,360.81 215.45,357.83 215.53,357.44 215.60,358.55 215.68,358.66 215.75,357.16 215.83,360.26 215.90,358.50 215.98,359.87 216.05,355.87 216.13,356.19 216.20,358.17 216.28,356.77 216.35,358.39 216.43,359.69 216.50,360.72 216.58,361.38 216.65,360.06 216.73,357.20 216.81,359.57 216.88,357.50 216.96,359.50 217.03,356.45 217.11,360.98 217.18,359.18 217.26,357.83 217.33,355.76 217.41,358.85 217.48,357.29 217.56,358.73 217.63,356.87 217.71,357.16 217.78,359.34 217.86,360.94 217.93,355.69 218.01,357.69 218.08,358.77 218.16,357.70 218.24,357.13 218.31,362.04 218.39,356.29 218.46,358.54 218.54,356.89 218.61,357.59 218.69,353.40 218.76,359.39 218.84,357.26 218.91,355.79 218.99,360.74 219.06,357.02 219.14,356.34 219.21,355.86 219.29,359.45 219.36,357.44 219.44,356.75 219.51,354.78 219.59,355.54 219.67,357.86 219.74,357.12 219.82,353.28 219.89,355.39 219.97,357.43 220.04,362.03 220.12,355.44 220.19,352.58 220.27,358.19 220.34,355.75 220.42,354.08 220.49,357.58 220.57,355.99 220.64,354.52 220.72,353.78 220.79,355.95 220.87,356.26 220.94,352.62 221.02,357.78 221.10,353.40 221.17,358.37 221.25,356.24 221.32,355.15 221.40,356.04 221.47,354.17 221.55,355.06 221.62,358.20 221.70,353.88 221.77,356.40 221.85,353.02 221.92,354.57 222.00,356.32 222.07,352.08 222.15,354.87 222.22,350.02 222.30,351.80 222.37,353.05 222.45,355.39 222.53,354.94 222.60,351.70 222.68,353.05 222.75,353.51 222.83,350.04 222.90,353.67 222.98,355.29 223.05,354.94 223.13,351.30 223.20,351.50 223.28,350.35 223.35,351.03 223.43,351.34 223.50,352.95 223.58,351.66 223.65,349.58 223.73,352.74 223.80,352.69 223.88,349.69 223.95,350.22 224.03,350.32 224.11,347.21 224.18,350.40 224.26,351.22 224.33,353.44 224.41,349.89 224.48,348.76 224.56,348.80 224.63,350.01 224.71,350.12 224.78,346.73 224.86,348.47 224.93,349.09 225.01,343.77 225.08,349.92 225.16,346.63 225.23,348.41 225.31,346.38 225.38,345.70 225.46,345.73 225.54,346.12 225.61,346.91 225.69,344.45 225.76,342.50 225.84,342.98 225.91,342.13 225.99,345.10 226.06,341.50 226.14,345.87 226.21,342.89 226.29,342.12 226.36,344.42 226.44,340.89 226.51,340.68 226.59,342.36 226.66,341.91 226.74,338.19 226.81,344.29 226.89,340.19 226.97,336.19 227.04,337.68 227.12,339.17 227.19,337.21 227.27,337.78 227.34,340.00 227.42,336.61 227.49,337.98 227.57,334.78 227.64,331.55 227.72,335.01 227.79,330.14 227.87,332.63 227.94,331.42 228.02,327.95 228.09,327.62 228.17,328.05 228.24,328.60 228.32,329.86 228.40,327.00 228.47,330.04 228.55,327.71 228.62,324.50 228.70,324.25 228.77,325.36 228.85,324.05 228.92,324.76 229.00,326.37 229.07,325.42 229.15,326.83 229.22,323.75 229.30,323.54 229.37,322.67 229.45,322.11 229.52,324.84 229.60,326.03 229.67,325.75 229.75,326.38 229.82,330.50 229.90,324.81 229.98,326.63 230.05,326.49 230.13,325.96 230.20,330.52 230.28,328.15 230.35,330.85 230.43,326.57 230.50,332.51 230.58,333.48 230.65,327.75 230.73,329.63 230.80,329.64 230.88,331.20 230.95,327.92 231.03,331.53 231.10,332.28 231.18,330.02 231.25,327.12 231.33,330.39 231.41,331.19 231.48,333.65 231.56,331.29 231.63,330.54 231.71,334.15 231.78,333.94 231.86,334.88 231.93,333.82 232.01,335.99 232.08,335.20 232.16,331.08 232.23,335.10 232.31,336.44 232.38,335.30 232.46,338.26 232.53,334.88 232.61,337.32 232.68,333.92 232.76,336.51 232.84,335.73 232.91,335.13 232.99,334.81 233.06,337.97 233.14,338.61 233.21,336.85 233.29,335.96 233.36,342.09 233.44,340.26 233.51,336.78 233.59,341.47 233.66,336.38 233.74,340.32 233.81,341.30 233.89,342.59 233.96,339.68 234.04,339.27 234.11,338.25 234.19,342.90 234.27,341.14 234.34,340.72 234.42,341.00 234.49,342.48 234.57,342.25 234.64,344.62 234.72,338.47 234.79,344.34 234.87,341.89 234.94,342.92 235.02,342.63 235.09,343.23 235.17,344.98 235.24,344.13 235.32,341.13 235.39,343.90 235.47,344.00 235.54,345.05 235.62,344.57 235.70,344.50 235.77,346.75 235.85,342.89 235.92,349.25 236.00,344.19 236.07,343.44 236.15,347.04 236.22,347.74 236.30,348.22 236.37,348.76 236.45,347.04 236.52,346.40 236.60,347.13 236.67,346.54 236.75,345.66 236.82,349.87 236.90,350.41 236.97,347.10 237.05,346.78 237.12,346.41 237.20,344.27 237.28,346.30 237.35,346.73 237.43,347.79 237.50,346.05 237.58,344.45 237.65,349.42 237.73,351.56 237.80,344.35 237.88,348.24 237.95,350.23 238.03,346.49 238.10,346.08 238.18,348.96 238.25,348.55 238.33,347.88 238.40,352.30 238.48,352.11 238.55,350.59 238.63,349.30 238.71,348.89 238.78,351.26 238.86,349.21 238.93,352.56 239.01,352.17 239.08,348.71 239.16,351.37 239.23,352.96 239.31,351.28 239.38,348.30 239.46,349.64 239.53,349.55 239.61,350.48 239.68,350.36 239.76,349.69 239.83,352.04 239.91,353.03 239.98,349.44 240.06,347.75 240.14,351.31 240.21,350.67 240.29,351.50 240.36,349.45 240.44,351.35 240.51,349.11 240.59,352.96 240.66,354.13 240.74,349.21 240.81,346.08 240.89,350.13 240.96,350.11 241.04,351.52 241.11,351.23 241.19,352.17 241.26,356.43 241.34,350.25 241.41,350.64 241.49,352.21 241.57,347.91 241.64,352.96 241.72,350.32 241.79,348.81 241.87,349.96 241.94,352.56 242.02,353.24 242.09,354.05 242.17,352.55 242.24,350.37 242.32,352.84 242.39,351.66 242.47,356.29 242.54,347.97 242.62,354.98 242.69,353.41 242.77,352.75 242.84,351.83 242.92,350.97 243.00,350.24 243.07,349.14 243.15,356.00 243.22,353.94 243.30,353.47 243.37,352.91 243.45,348.60 243.52,351.75 243.60,352.54 243.67,354.53 243.75,350.45 243.82,352.90 243.90,351.96 243.97,352.49 244.05,350.98 244.12,353.18 244.20,352.67 244.27,348.99 244.35,354.87 244.42,356.77 244.50,350.95 244.58,354.83 244.65,350.80 244.73,351.68 244.80,356.06 244.88,353.12 244.95,355.64 245.03,353.34 245.10,354.73 245.18,352.52 245.25,355.58 245.33,356.28 245.40,354.19 245.48,351.85 245.55,352.25 245.63,351.18 245.70,354.14 245.78,354.01 245.85,351.71 245.93,354.80 246.01,351.98 246.08,356.56 246.16,354.69 246.23,356.17 246.31,351.81 246.38,351.30 246.46,349.74 246.53,354.46 246.61,351.12 246.68,355.83 246.76,353.57 246.83,354.77 246.91,350.90 246.98,352.23 247.06,353.72 247.13,354.79 247.21,350.97 247.28,354.08 247.36,351.88 247.44,355.01 247.51,353.05 247.59,352.94 247.66,354.35 247.74,355.73 247.81,353.10 247.89,355.89 247.96,351.69 248.04,354.14 248.11,351.50 248.19,354.04 248.26,351.92 248.34,353.73 248.41,354.86 248.49,351.87 248.56,350.39 248.64,353.39 248.71,354.73 248.79,354.19 248.87,352.05 248.94,355.36 249.02,353.25 249.09,355.26 249.17,352.15 249.24,354.67 249.32,356.07 249.39,352.60 249.47,353.32 249.54,355.06 249.62,354.89 249.69,354.58 249.77,353.69 249.84,350.98 249.92,353.94 249.99,351.52 250.07,354.13 250.14,349.56 250.22,356.71 250.29,357.60 250.37,354.86 250.45,352.43 250.52,353.47 250.60,355.73 250.67,355.31 250.75,352.76 250.82,356.36 250.90,355.47 250.97,355.12 251.05,353.46 251.12,354.13 251.20,352.81 251.27,354.52 251.35,352.93 251.42,356.40 251.50,354.27 251.57,354.61 251.65,354.84 251.72,354.84 251.80,351.56 251.88,356.67 251.95,354.45 252.03,353.25 252.10,352.47 252.18,353.02 252.25,353.16 252.33,354.35 252.40,352.72 252.48,354.56 252.55,354.64 252.63,353.08 252.70,358.55 252.78,354.18 252.85,355.05 252.93,354.63 253.00,354.13 253.08,355.72 253.15,357.06 253.23,354.33 253.31,352.87 253.38,355.52 253.46,350.45 253.53,354.81 253.61,354.17 253.68,355.15 253.76,351.71 253.83,353.74 253.91,352.64 253.98,353.57 254.06,355.70 254.13,354.24 254.21,353.50 254.28,356.86 254.36,354.67 254.43,350.85 254.51,352.71 254.58,355.45 254.66,355.52 254.74,355.12 254.81,355.21 254.89,353.04 254.96,354.57 255.04,352.53 255.11,353.20 255.19,353.08 255.26,353.23 255.34,354.17 255.41,354.40 255.49,353.34 255.56,356.88 255.64,354.02 255.71,357.77 255.79,356.78 255.86,352.64 255.94,356.60 256.01,352.33 256.09,357.67 256.17,355.59 256.24,353.13 256.32,350.90 256.39,354.27 256.47,352.50 256.54,357.10 256.62,352.73 256.69,354.64 256.77,356.01 256.84,355.12 256.92,355.60 256.99,354.67 257.07,356.50 257.14,353.41 257.22,356.24 257.29,352.94 257.37,355.54 257.44,353.09 257.52,354.85 257.59,356.35 257.67,357.58 257.75,351.90 257.82,353.85 257.90,353.47 257.97,357.58 258.05,353.70 258.12,356.66 258.20,354.38 258.27,352.66 258.35,355.58 258.42,353.25 258.50,356.76 258.57,356.95 258.65,357.90 258.72,353.52 258.80,358.37 258.87,357.24 258.95,352.08 259.02,359.60 259.10,358.61 259.18,353.51 259.25,356.08 259.33,352.95 259.40,355.22 259.48,355.82 259.55,356.64 259.63,353.93 259.70,355.43 259.78,353.73 259.85,356.20 259.93,356.72 260.00,355.61 260.08,357.62 260.15,356.87 260.23,356.14 260.30,357.60 260.38,353.08 260.45,355.32 260.53,352.04 260.61,355.31 260.68,354.44 260.76,356.85 260.83,354.44 260.91,354.04 260.98,355.03 261.06,354.93 261.13,356.11 261.21,353.46 261.28,352.25 261.36,352.04 261.43,357.15 261.51,352.57 261.58,354.03 261.66,352.78 261.73,356.47 261.81,353.70 261.88,357.02 261.96,353.34 262.04,355.18 262.11,355.99 262.19,356.33 262.26,352.22 262.34,353.72 262.41,354.21 262.49,350.87 262.56,355.59 262.64,354.93 262.71,355.09 262.79,351.46 262.86,354.37 262.94,354.79 263.01,355.84 263.09,352.87 263.16,355.06 263.24,357.42 263.31,352.86 263.39,352.84 263.47,352.95 263.54,350.69 263.62,352.76 263.69,356.43 263.77,351.58 263.84,352.90 263.92,355.46 263.99,354.21 264.07,353.52 264.14,352.41 264.22,352.76 264.29,352.94 264.37,354.15 264.44,352.93 264.52,354.48 264.59,349.13 264.67,354.09 264.74,351.47 264.82,352.40 264.89,351.49 264.97,353.39 265.05,351.87 265.12,353.16 265.20,350.37 265.27,352.14 265.35,353.98 265.42,353.66 265.50,350.79 265.57,351.62 265.65,350.55 265.72,350.91 265.80,351.05 265.87,353.18 265.95,351.89 266.02,353.43 266.10,353.47 266.17,348.10 266.25,350.95 266.32,349.44 266.40,347.14 266.48,348.05 266.55,349.03 266.63,353.02 266.70,349.96 266.78,349.36 266.85,349.57 266.93,348.14 267.00,349.80 267.08,349.23 267.15,346.29 267.23,348.29 267.30,355.51 267.38,350.36 267.45,348.95 267.53,350.34 267.60,347.25 267.68,349.21 267.75,350.66 267.83,346.01 267.91,347.64 267.98,348.26 268.06,348.49 268.13,348.06 268.21,349.53 268.28,350.94 268.36,349.69 268.43,350.97 268.51,351.02 268.58,347.97 268.66,349.60 268.73,348.41 268.81,350.36 268.88,348.50 268.96,348.82 269.03,352.35 269.11,348.88 269.18,346.33 269.26,349.48 269.34,349.84 269.41,348.37 269.49,349.47 269.56,351.26 269.64,348.43 269.71,349.07 269.79,348.13 269.86,350.10 269.94,349.28 270.01,347.82 270.09,349.28 270.16,353.00 270.24,346.46 270.31,347.09 270.39,350.32 270.46,347.15 270.54,353.39 270.61,347.02 270.69,347.40 270.77,348.90 270.84,351.89 270.92,351.40 270.99,351.00 271.07,350.52 271.14,352.42 271.22,346.66 271.29,350.57 271.37,352.74 271.44,348.13 271.52,350.73 271.59,352.43 271.67,352.51 271.74,349.96 271.82,353.69 271.89,351.19 271.97,352.26 272.04,348.31 272.12,348.92 272.19,348.92 272.27,353.62 272.35,346.04 272.42,346.97 272.50,351.87 272.57,350.67 272.65,344.92 272.72,349.68 272.80,349.85 272.87,352.67 272.95,346.88 273.02,349.45 273.10,352.40 273.17,351.84 273.25,348.72 273.32,349.89 273.40,347.69 273.47,352.94 273.55,349.62 273.62,352.76 273.70,351.89 273.78,348.76 273.85,350.13 273.93,351.59 274.00,351.20 274.08,353.20 274.15,352.44 274.23,350.96 274.30,351.63 274.38,349.04 274.45,349.24 274.53,351.44 274.60,350.94 274.68,348.27 274.75,350.16 274.83,348.82 274.90,349.26 274.98,352.65 275.05,348.52 275.13,349.04 275.21,351.28 275.28,350.36 275.36,350.52 275.43,347.54 275.51,350.14 275.58,349.49 275.66,348.67 275.73,349.12 275.81,349.60 275.88,351.67 275.96,353.58 276.03,350.30 276.11,352.82 276.18,350.28 276.26,347.33 276.33,350.16 276.41,352.39 276.48,352.60 276.56,348.38 276.64,354.11 276.71,348.62 276.79,348.62 276.86,348.99 276.94,352.61 277.01,350.67 277.09,351.59 277.16,345.82 277.24,349.80 277.31,349.67 277.39,351.15 277.46,348.99 277.54,352.04 277.61,348.57 277.69,347.26 277.76,346.79 277.84,352.13 277.91,351.18 277.99,348.34 278.06,351.80 278.14,349.45 278.22,349.53 278.29,347.05 278.37,348.72 278.44,349.93 278.52,350.09 278.59,348.68 278.67,351.53 278.74,352.34 278.82,348.20 278.89,350.42 278.97,346.88 279.04,350.43 279.12,347.90 279.19,349.38 279.27,349.98 279.34,349.21 279.42,351.57 279.49,348.22 279.57,348.78 279.65,350.23 279.72,349.57 279.80,350.09 279.87,349.24 279.95,348.14 280.02,350.83 280.10,349.75 280.17,351.26 280.25,352.05 280.32,348.95 280.40,348.24 280.47,348.76 280.55,348.40 280.62,345.94 280.70,352.59 280.77,350.33 280.85,353.85 280.92,348.54 281.00,350.65 281.08,350.07 281.15,349.43 281.23,351.35 281.30,349.56 281.38,349.41 281.45,349.84 281.53,345.45 281.60,348.22 281.68,348.19 281.75,352.55 281.83,350.60 281.90,350.96 281.98,350.67 282.05,349.17 282.13,352.54 282.20,349.13 282.28,346.92 282.35,350.66 282.43,351.66 282.51,349.69 282.58,350.17 282.66,351.25 282.73,352.29 282.81,350.56 282.88,352.57 282.96,350.02 283.03,353.32 283.11,346.96 283.18,351.21 283.26,350.00 283.33,349.69 283.41,347.13 283.48,351.43 283.56,349.11 283.63,347.64 283.71,348.30 283.78,349.03 283.86,349.64 283.94,347.79 284.01,347.76 284.09,350.20 284.16,349.30 284.24,353.03 284.31,348.66 284.39,350.78 284.46,352.61 284.54,349.05 284.61,351.21 284.69,349.96 284.76,349.50 284.84,352.33 284.91,347.58 284.99,348.29 285.06,346.15 285.14,349.16 285.21,351.18 285.29,348.91 285.36,350.87 285.44,347.98 285.52,351.45 285.59,349.15 285.67,348.48 285.74,352.34 285.82,349.32 285.89,350.38 285.97,349.55 286.04,350.61 286.12,349.54 286.19,347.12 286.27,349.83 286.34,350.18 286.42,350.01 286.49,348.88 286.57,352.60 286.64,347.95 286.72,349.50 286.79,349.65 286.87,347.29 286.95,347.08 287.02,350.46 287.10,350.48 287.17,349.49 287.25,346.30 287.32,348.69 287.40,349.65 287.47,350.34 287.55,351.37 287.62,350.03 287.70,350.95 287.77,352.21 287.85,344.91 287.92,350.98 288.00,348.36 288.07,350.03 288.15,349.53 288.22,347.27 288.30,347.48" stroke-width="0.9" clip-path="url(#c1)"/>
</g>
<g stroke="#222" stroke-width="1.4" fill="none">
<polyline points="32.0,362.8 32.0,0.75 289.1,0.75 289.1,362.8" stroke="#2a2a2a"/>
<line x1="31.3" y1="362.8" x2="289.8" y2="362.8" stroke-width="1.6"/>
<line x1="32.0" y1="121.3" x2="289.1" y2="121.3"/>
<line x1="32.0" y1="242.3" x2="289.1" y2="242.3"/>
<line x1="42.80" y1="362.8" x2="42.80" y2="367.70"/>
<line x1="42.80" y1="121.3" x2="42.80" y2="117.00"/>
<line x1="42.80" y1="242.3" x2="42.80" y2="238.00"/>
<line x1="61.78" y1="362.8" x2="61.78" y2="365.50"/>
<line x1="61.78" y1="121.3" x2="61.78" y2="118.60"/>
<line x1="61.78" y1="242.3" x2="61.78" y2="239.60"/>
<line x1="80.76" y1="362.8" x2="80.76" y2="367.70"/>
<line x1="80.76" y1="121.3" x2="80.76" y2="117.00"/>
<line x1="80.76" y1="242.3" x2="80.76" y2="238.00"/>
<line x1="99.74" y1="362.8" x2="99.74" y2="365.50"/>
<line x1="99.74" y1="121.3" x2="99.74" y2="118.60"/>
<line x1="99.74" y1="242.3" x2="99.74" y2="239.60"/>
<line x1="118.72" y1="362.8" x2="118.72" y2="367.70"/>
<line x1="118.72" y1="121.3" x2="118.72" y2="117.00"/>
<line x1="118.72" y1="242.3" x2="118.72" y2="238.00"/>
<line x1="137.70" y1="362.8" x2="137.70" y2="365.50"/>
<line x1="137.70" y1="121.3" x2="137.70" y2="118.60"/>
<line x1="137.70" y1="242.3" x2="137.70" y2="239.60"/>
<line x1="156.68" y1="362.8" x2="156.68" y2="367.70"/>
<line x1="156.68" y1="121.3" x2="156.68" y2="117.00"/>
<line x1="156.68" y1="242.3" x2="156.68" y2="238.00"/>
<line x1="175.66" y1="362.8" x2="175.66" y2="365.50"/>
<line x1="175.66" y1="121.3" x2="175.66" y2="118.60"/>
<line x1="175.66" y1="242.3" x2="175.66" y2="239.60"/>
<line x1="194.64" y1="362.8" x2="194.64" y2="367.70"/>
<line x1="194.64" y1="121.3" x2="194.64" y2="117.00"/>
<line x1="194.64" y1="242.3" x2="194.64" y2="238.00"/>
<line x1="213.62" y1="362.8" x2="213.62" y2="365.50"/>
<line x1="213.62" y1="121.3" x2="213.62" y2="118.60"/>
<line x1="213.62" y1="242.3" x2="213.62" y2="239.60"/>
<line x1="232.60" y1="362.8" x2="232.60" y2="367.70"/>
<line x1="232.60" y1="121.3" x2="232.60" y2="117.00"/>
<line x1="232.60" y1="242.3" x2="232.60" y2="238.00"/>
<line x1="251.58" y1="362.8" x2="251.58" y2="365.50"/>
<line x1="251.58" y1="121.3" x2="251.58" y2="118.60"/>
<line x1="251.58" y1="242.3" x2="251.58" y2="239.60"/>
<line x1="270.56" y1="362.8" x2="270.56" y2="367.70"/>
<line x1="270.56" y1="121.3" x2="270.56" y2="117.00"/>
<line x1="270.56" y1="242.3" x2="270.56" y2="238.00"/>
<line x1="289.54" y1="362.8" x2="289.54" y2="365.50"/>
<line x1="289.54" y1="121.3" x2="289.54" y2="118.60"/>
<line x1="289.54" y1="242.3" x2="289.54" y2="239.60"/>
</g>
<g font-weight="bold" font-size="11.6" fill="#111" text-anchor="middle">
<text x="42.80" y="380.2">10</text>
<text x="80.76" y="380.2">20</text>
<text x="118.72" y="380.2">30</text>
<text x="156.68" y="380.2">40</text>
<text x="194.64" y="380.2">50</text>
<text x="232.60" y="380.2">60</text>
<text x="270.56" y="380.2">70</text>
</g>
<text x="4" y="21.7" font-size="19.8" font-weight="bold" fill="#111" textLength="21.6" lengthAdjust="spacingAndGlyphs">(a)</text>
<text x="43.4" y="15.6" font-size="14" font-weight="bold" fill="#111" textLength="22" lengthAdjust="spacing">(iii)</text>
<text x="34" y="136.6" font-size="14" font-weight="bold" fill="#111">(ii)</text>
<text x="34" y="256.8" font-size="14" font-weight="bold" fill="#111">(i)</text>
<text transform="translate(14.1,182.5) rotate(-90)" text-anchor="middle" font-size="17.8" font-weight="bold" fill="#111" letter-spacing="0.25">Intensity (a.u.)</text>
<text x="140.5" y="405.6" font-size="16" fill="#111"><tspan font-weight="bold">2</tspan>θ (°)</text>
<g stroke="#444" stroke-width="1.1"><line x1="235.4" y1="8.9" x2="261.4" y2="8.9"/><line x1="189.5" y1="131" x2="215.9" y2="131"/><line x1="226.7" y1="253.2" x2="252.9" y2="253.2"/></g>
<g font-weight="bold" fill="#111">
<text x="264.8" y="12.6" font-size="11.8">rGO</text>
<text x="219.6" y="135.4" font-size="11.8" letter-spacing="0.3">MoS<tspan font-size="6.5" dy="4">2</tspan><tspan dy="-4">@rGO</tspan></text>
<text x="256.7" y="256.9" font-size="11.8">MoS<tspan font-size="6.5" dy="4.6">2</tspan></text>
</g>
<g font-weight="bold" fill="#ff1a1a" font-size="10.8" text-anchor="middle">
<text x="91.4" y="39.2">(002)</text><text x="168.5" y="93">(101)</text></g>
<g font-weight="bold" fill="#2020f0" font-size="9.2" text-anchor="middle">
<text x="62.9" y="259.3">(002)</text>
<text x="129" y="298">(100)</text>
<text x="154.5" y="319.6">(103)</text>
<text x="189" y="342.8">(105)</text>
<text x="227.3" y="321.8">(110)</text>
<text x="268.4" y="343.6">(201)</text>
</g>
<g fill="none" stroke-linejoin="round" stroke-linecap="round">
<polyline points="338.50,300.45 338.82,300.41 339.15,300.24 339.47,300.20 339.80,300.54 340.12,300.29 340.44,300.49 340.77,300.39 341.09,300.28 341.42,300.24 341.74,300.51 342.06,300.16 342.39,300.19 342.71,300.11 343.04,300.20 343.36,300.08 343.68,300.23 344.01,300.02 344.33,300.27 344.66,300.24 344.98,300.21 345.30,300.08 345.63,300.36 345.95,300.46 346.28,300.14 346.60,300.04 346.93,300.24 347.25,300.11 347.57,300.16 347.90,300.23 348.22,299.93 348.55,300.23 348.87,299.97 349.19,299.94 349.52,300.06 349.84,300.33 350.17,300.02 350.49,300.18 350.81,299.97 351.14,300.20 351.46,300.16 351.79,300.28 352.11,300.13 352.43,300.11 352.76,299.83 353.08,300.15 353.41,300.22 353.73,300.13 354.05,300.13 354.38,300.19 354.70,300.23 355.03,299.97 355.35,300.09 355.67,300.17 356.00,300.14 356.32,299.96 356.65,299.82 356.97,300.16 357.29,300.23 357.62,300.39 357.94,300.22 358.27,300.04 358.59,300.26 358.91,300.20 359.24,300.14 359.56,300.05 359.89,300.02 360.21,300.22 360.53,300.29 360.86,300.39 361.18,300.42 361.51,300.49 361.83,300.77 362.15,300.51 362.48,300.76 362.80,300.48 363.13,300.53 363.45,300.60 363.78,300.45 364.10,301.00 364.42,300.83 364.75,300.94 365.07,301.13 365.40,300.98 365.72,301.19 366.04,300.64 366.37,301.21 366.69,301.10 367.02,301.01 367.34,301.29 367.66,301.17 367.99,301.09 368.31,300.93 368.64,301.51 368.96,300.89 369.28,301.31 369.61,301.56 369.93,301.45 370.26,301.28 370.58,301.36 370.90,301.33 371.23,301.48 371.55,301.46 371.88,301.30 372.20,301.30 372.52,301.72 372.85,301.38 373.17,301.43 373.50,301.97 373.82,301.52 374.14,301.47 374.47,301.55 374.79,301.83 375.12,301.63 375.44,301.75 375.76,301.45 376.09,301.73 376.41,301.85 376.74,301.87 377.06,302.11 377.38,301.99 377.71,301.51 378.03,301.72 378.36,301.85 378.68,301.96 379.01,302.04 379.33,302.14 379.65,301.82 379.98,301.76 380.30,302.23 380.63,301.99 380.95,301.80 381.27,302.03 381.60,302.13 381.92,302.03 382.25,302.06 382.57,302.40 382.89,302.10 383.22,302.33 383.54,302.34 383.87,302.27 384.19,302.69 384.51,302.15 384.84,302.75 385.16,302.24 385.49,302.35 385.81,302.45 386.13,302.58 386.46,302.53 386.78,302.39 387.11,302.40 387.43,302.64 387.75,302.70 388.08,302.39 388.40,302.67 388.73,302.57 389.05,302.53 389.37,302.33 389.70,302.31 390.02,302.57 390.35,302.09 390.67,302.44 390.99,302.58 391.32,302.27 391.64,302.77 391.97,302.78 392.29,302.37 392.61,302.52 392.94,302.52 393.26,302.46 393.59,302.47 393.91,302.62 394.23,302.80 394.56,302.57 394.88,302.58 395.21,302.58 395.53,302.46 395.86,302.66 396.18,302.50 396.50,302.43 396.83,302.67 397.15,302.30 397.48,302.51 397.80,302.52 398.12,302.56 398.45,302.36 398.77,302.45 399.10,302.57 399.42,302.68 399.74,302.58 400.07,302.56 400.39,302.47 400.72,302.60 401.04,302.18 401.36,302.69 401.69,302.74 402.01,302.60 402.34,302.45 402.66,302.80 402.98,302.50 403.31,302.80 403.63,302.56 403.96,302.48 404.28,302.56 404.60,302.49 404.93,302.56 405.25,302.66 405.58,302.54 405.90,302.51 406.22,302.57 406.55,302.62 406.87,302.56 407.20,302.63 407.52,302.63 407.84,302.58 408.17,302.64 408.49,302.52 408.82,302.68 409.14,302.57 409.46,302.62 409.79,302.46 410.11,302.27 410.44,302.40 410.76,302.47 411.08,302.51 411.41,302.44 411.73,302.65 412.06,302.23 412.38,302.15 412.71,302.38 413.03,302.29 413.35,302.39 413.68,302.47 414.00,302.76 414.33,302.16 414.65,302.18 414.97,302.32 415.30,302.10 415.62,302.20 415.95,302.49 416.27,302.28 416.59,302.28 416.92,302.43 417.24,302.01 417.57,302.27 417.89,302.23 418.21,302.27 418.54,302.07 418.86,302.14 419.19,302.18 419.51,302.29 419.83,302.06 420.16,302.24 420.48,301.82 420.81,302.19 421.13,302.22 421.45,301.96 421.78,302.04 422.10,302.06 422.43,302.09 422.75,302.21 423.07,302.04 423.40,301.96 423.72,301.95 424.05,302.00 424.37,302.05 424.69,301.96 425.02,301.82 425.34,301.83 425.67,301.74 425.99,301.70 426.31,301.74 426.64,301.70 426.96,301.87 427.29,301.55 427.61,301.70 427.94,301.49 428.26,301.75 428.58,301.64 428.91,301.75 429.23,301.60 429.56,301.34 429.88,301.45 430.20,301.31 430.53,301.29 430.85,301.17 431.18,301.23 431.50,301.24 431.82,301.21 432.15,301.49 432.47,301.05 432.80,301.04 433.12,300.95 433.44,300.87 433.77,300.80 434.09,300.78 434.42,300.67 434.74,300.73 435.06,300.61 435.39,300.34 435.71,300.38 436.04,300.33 436.36,300.15 436.68,300.05 437.01,299.96 437.33,299.95 437.66,299.76 437.98,299.52 438.30,299.42 438.63,299.41 438.95,298.88 439.28,298.87 439.60,298.49 439.92,298.78 440.25,298.05 440.57,297.66 440.90,297.31 441.22,296.77 441.54,296.55 441.87,296.42 442.19,295.60 442.52,294.91 442.84,294.42 443.16,294.04 443.49,293.62 443.81,293.53 444.14,293.42 444.46,293.09 444.79,293.40 445.11,293.30 445.43,293.78 445.76,294.51 446.08,295.09 446.41,295.83 446.73,296.05 447.05,296.86 447.38,297.32 447.70,297.92 448.03,298.22 448.35,298.58 448.67,299.03 449.00,299.23 449.32,299.75 449.65,299.83 449.97,300.25 450.29,300.26 450.62,300.33 450.94,300.09 451.27,299.85 451.59,299.53 451.91,299.40 452.24,298.53 452.56,298.48 452.89,297.66 453.21,296.87 453.53,296.23 453.86,294.93 454.18,293.87 454.51,292.25 454.83,290.69 455.15,288.88 455.48,287.23 455.80,285.39 456.13,284.10 456.45,282.48 456.77,281.19 457.10,280.51 457.42,280.06 457.75,279.61 458.07,280.02 458.39,280.09 458.72,280.90 459.04,281.66 459.37,282.88 459.69,284.01 460.02,285.69 460.34,287.11 460.66,288.93 460.99,290.36 461.31,291.89 461.64,293.29 461.96,294.48 462.28,295.16 462.61,296.23 462.93,297.14 463.26,298.00 463.58,298.70 463.90,299.54 464.23,299.99 464.55,300.27 464.88,300.74 465.20,301.10 465.52,301.17 465.85,301.42 466.17,301.85 466.50,302.23 466.82,301.71 467.14,302.01 467.47,302.21 467.79,301.98 468.12,302.22 468.44,302.13 468.76,301.91 469.09,302.02 469.41,302.13 469.74,301.95 470.06,302.15 470.38,302.11 470.71,302.01 471.03,302.10 471.36,301.99 471.68,302.06 472.00,301.88 472.33,302.22 472.65,301.97 472.98,302.17 473.30,302.30 473.62,302.21 473.95,301.97 474.27,301.98 474.60,301.94 474.92,301.97 475.24,301.79 475.57,301.64 475.89,301.92 476.22,301.86 476.54,302.06 476.87,302.08 477.19,301.60 477.51,301.65 477.84,301.87 478.16,301.91 478.49,301.74 478.81,301.72 479.13,301.43 479.46,302.00 479.78,301.56 480.11,301.73 480.43,301.68 480.75,301.50 481.08,301.74 481.40,301.82 481.73,301.60 482.05,301.62 482.37,301.70 482.70,301.75 483.02,301.74 483.35,301.50 483.67,301.52 483.99,301.60 484.32,301.32 484.64,301.55 484.97,301.75 485.29,301.72 485.61,301.74 485.94,302.04 486.26,302.01 486.59,302.13 486.91,302.04 487.23,302.06 487.56,302.06 487.88,302.27 488.21,302.04 488.53,302.23 488.85,302.50 489.18,302.60 489.50,302.53 489.83,302.44 490.15,302.74 490.47,302.61 490.80,302.76 491.12,302.69 491.45,303.15 491.77,303.15 492.09,302.86 492.42,302.86 492.74,303.06 493.07,303.20 493.39,303.33 493.72,303.17 494.04,303.03 494.36,303.27 494.69,303.29 495.01,303.05 495.34,303.26 495.66,303.28 495.98,303.21 496.31,303.40 496.63,303.54 496.96,303.56 497.28,303.31 497.60,303.37 497.93,303.58 498.25,303.45 498.58,303.47 498.90,303.86 499.22,303.20 499.55,303.49 499.87,303.48 500.20,303.61 500.52,303.88 500.84,303.64 501.17,303.64 501.49,303.72 501.82,303.67 502.14,303.78 502.46,304.11 502.79,303.67 503.11,303.75 503.44,303.79 503.76,303.51 504.08,303.92 504.41,303.84 504.73,303.58 505.06,303.84 505.38,303.92 505.70,303.78 506.03,304.08 506.35,303.85 506.68,303.74 507.00,304.08 507.32,303.96 507.65,304.01 507.97,303.77 508.30,303.82 508.62,303.88 508.95,304.02 509.27,304.03 509.59,304.26 509.92,304.30 510.24,304.11 510.57,304.09 510.89,304.38 511.21,304.13 511.54,304.28 511.86,304.08 512.19,304.14 512.51,304.13 512.83,304.08 513.16,304.24 513.48,304.08 513.81,304.19 514.13,304.27 514.45,304.53 514.78,303.96 515.10,304.25 515.43,304.35 515.75,304.21 516.07,304.40 516.40,304.36 516.72,304.36 517.05,304.24 517.37,304.28 517.69,304.29 518.02,304.19 518.34,304.36 518.67,304.19 518.99,304.22 519.31,304.16 519.64,304.53 519.96,304.30 520.29,304.26 520.61,304.51 520.93,304.34 521.26,304.46 521.58,304.39 521.91,304.48 522.23,304.46 522.55,304.13 522.88,304.66 523.20,304.60 523.53,304.26 523.85,304.60 524.17,304.45 524.50,304.50 524.82,304.68 525.15,304.64 525.47,304.64 525.80,304.80 526.12,304.67 526.44,304.44 526.77,304.35 527.09,304.65 527.42,304.30 527.74,304.50 528.06,304.50 528.39,304.45 528.71,304.75 529.04,304.61 529.36,304.54 529.68,304.70 530.01,304.52 530.33,304.75 530.66,304.88 530.98,304.57 531.30,304.57 531.63,304.76 531.95,304.32 532.28,304.42 532.60,304.45" stroke="#008000" stroke-width="2.5"/>
<polyline points="540.50,304.62 540.82,304.78 541.15,304.79 541.47,304.72 541.80,304.70 542.12,304.77 542.44,304.76 542.77,304.75 543.09,304.56 543.41,304.54 543.74,304.67 544.06,304.52 544.39,304.58 544.71,304.34 545.03,304.35 545.36,304.24 545.68,304.27 546.01,304.28 546.33,304.13 546.65,304.36 546.98,303.93 547.30,304.15 547.63,303.88 547.95,303.99 548.27,303.82 548.60,303.86 548.92,303.81 549.24,303.66 549.57,303.56 549.89,303.57 550.22,303.60 550.54,303.64 550.86,303.67 551.19,303.24 551.51,303.43 551.84,303.27 552.16,303.27 552.48,303.24 552.81,303.23 553.13,303.12 553.45,303.00 553.78,303.12 554.10,302.90 554.43,302.79 554.75,302.85 555.07,302.51 555.40,302.46 555.72,302.65 556.05,302.38 556.37,302.12 556.69,302.33 557.02,302.29 557.34,301.98 557.67,301.84 557.99,301.89 558.31,301.85 558.64,301.65 558.96,301.53 559.28,301.60 559.61,301.51 559.93,301.18 560.26,301.15 560.58,301.14 560.90,301.02 561.23,301.02 561.55,300.97 561.88,301.03 562.20,300.77 562.52,300.74 562.85,300.37 563.17,300.37 563.49,300.48 563.82,300.10 564.14,300.32 564.47,300.14 564.79,299.99 565.11,299.87 565.44,299.65 565.76,299.56 566.09,299.53 566.41,299.44 566.73,299.52 567.06,299.17 567.38,299.11 567.71,298.88 568.03,298.99 568.35,298.86 568.68,298.88 569.00,298.87 569.32,298.60 569.65,298.33 569.97,298.34 570.30,298.24 570.62,298.09 570.94,297.86 571.27,297.90 571.59,297.61 571.92,297.62 572.24,297.48 572.56,297.10 572.89,297.34 573.21,297.39 573.54,296.99 573.86,296.84 574.18,296.90 574.51,296.52 574.83,296.54 575.15,296.44 575.48,296.22 575.80,296.15 576.13,295.93 576.45,295.82 576.77,295.83 577.10,295.51 577.42,295.40 577.75,295.24 578.07,295.23 578.39,294.98 578.72,294.77 579.04,294.74 579.36,294.31 579.69,294.15 580.01,294.22 580.34,294.22 580.66,293.77 580.98,293.66 581.31,293.27 581.63,293.23 581.96,293.02 582.28,292.84 582.60,292.46 582.93,292.53 583.25,291.96 583.58,292.00 583.90,291.45 584.22,291.41 584.55,291.21 584.87,291.04 585.19,290.51 585.52,290.07 585.84,290.07 586.17,289.62 586.49,289.29 586.81,289.06 587.14,288.74 587.46,288.64 587.79,288.28 588.11,288.04 588.43,287.75 588.76,287.30 589.08,287.11 589.40,286.85 589.73,286.60 590.05,286.08 590.38,285.69 590.70,285.27 591.02,284.98 591.35,284.67 591.67,284.33 592.00,283.78 592.32,283.50 592.64,283.14 592.97,282.69 593.29,282.28 593.62,281.97 593.94,281.39 594.26,281.12 594.59,280.49 594.91,280.17 595.23,279.50 595.56,279.22 595.88,278.59 596.21,278.05 596.53,277.18 596.85,276.49 597.18,275.83 597.50,275.29 597.83,274.77 598.15,274.07 598.47,273.40 598.80,272.54 599.12,272.17 599.44,271.51 599.77,270.77 600.09,269.98 600.42,269.64 600.74,269.21 601.06,268.89 601.39,268.22 601.71,267.68 602.04,267.38 602.36,266.89 602.68,266.30 603.01,265.89 603.33,265.55 603.66,264.96 603.98,264.75 604.30,264.36 604.63,264.01 604.95,263.88 605.27,263.66 605.60,263.48 605.92,263.12 606.25,262.97 606.57,262.68 606.89,262.44 607.22,262.53 607.54,262.68 607.87,262.63 608.19,263.01 608.51,263.04 608.84,263.02 609.16,263.40 609.48,263.45 609.81,263.75 610.13,263.73 610.46,264.04 610.78,264.12 611.10,264.39 611.43,264.80 611.75,265.21 612.08,265.37 612.40,265.78 612.72,266.06 613.05,266.58 613.37,267.12 613.70,267.39 614.02,267.96 614.34,268.36 614.67,268.99 614.99,269.55 615.31,269.95 615.64,270.38 615.96,270.83 616.29,271.30 616.61,272.05 616.93,272.80 617.26,273.17 617.58,273.77 617.91,274.31 618.23,274.80 618.55,275.61 618.88,276.11 619.20,276.38 619.53,276.90 619.85,277.67 620.17,277.89 620.50,278.47 620.82,278.82 621.14,279.44 621.47,279.77 621.79,280.24 622.12,280.61 622.44,281.38 622.76,281.86 623.09,281.97 623.41,282.38 623.74,282.70 624.06,282.96 624.38,283.26 624.71,283.54 625.03,283.99 625.35,284.07 625.68,284.41 626.00,284.89 626.33,284.94 626.65,285.56 626.97,285.61 627.30,285.92 627.62,286.29 627.95,286.35 628.27,286.57 628.59,286.67 628.92,286.95 629.24,287.11 629.57,287.04 629.89,287.30 630.21,287.41 630.54,287.42 630.86,287.35 631.18,287.61 631.51,287.72 631.83,287.57 632.16,287.47 632.48,287.65 632.80,287.79 633.13,287.98 633.45,288.01 633.78,287.98 634.10,287.86 634.42,288.05 634.75,287.98 635.07,287.87 635.39,287.79 635.72,288.11 636.04,287.79 636.37,288.09 636.69,288.15 637.01,287.82 637.34,287.63 637.66,287.54 637.99,287.42 638.31,287.41 638.63,287.34 638.96,286.99 639.28,286.88 639.61,286.68 639.93,286.71 640.25,286.51 640.58,286.12 640.90,286.00 641.22,285.88 641.55,285.47 641.87,285.42 642.20,285.28 642.52,284.87 642.84,284.80 643.17,284.52 643.49,284.16 643.82,284.05 644.14,283.50 644.46,283.33 644.79,282.91 645.11,282.71 645.43,282.12 645.76,281.90 646.08,281.52 646.41,281.18 646.73,280.82 647.05,280.05 647.38,279.79 647.70,279.20 648.03,278.90 648.35,278.37 648.67,277.56 649.00,276.98 649.32,276.44 649.65,275.64 649.97,274.93 650.29,274.10 650.62,273.57 650.94,273.16 651.26,272.31 651.59,272.00 651.91,271.51 652.24,270.99 652.56,270.56 652.88,269.86 653.21,269.60 653.53,268.91 653.86,268.64 654.18,268.07 654.50,267.84 654.83,267.54 655.15,267.63 655.47,267.28 655.80,267.41 656.12,267.83 656.45,268.01 656.77,268.24 657.09,268.61 657.42,268.92 657.74,269.51 658.07,270.08 658.39,270.69 658.71,271.30 659.04,272.18 659.36,273.00 659.69,273.93 660.01,275.10 660.33,276.51 660.66,277.55 660.98,278.91 661.30,279.73 661.63,281.08 661.95,282.38 662.28,283.91 662.60,285.22 662.92,286.59 663.25,288.13 663.57,289.18 663.90,290.56 664.22,291.71 664.54,292.46 664.87,293.50 665.19,294.29 665.52,295.21 665.84,296.09 666.16,296.88 666.49,297.58 666.81,298.09 667.13,298.93 667.46,299.30 667.78,299.61 668.11,300.20 668.43,300.34 668.75,300.94 669.08,301.12 669.40,301.29 669.73,301.52 670.05,301.74 670.37,301.99 670.70,302.28 671.02,302.69 671.34,302.76 671.67,302.93 671.99,303.17 672.32,303.27 672.64,303.33 672.96,303.47 673.29,303.97 673.61,303.93 673.94,304.30 674.26,304.48 674.58,304.44 674.91,304.64 675.23,304.64 675.56,304.80 675.88,304.95 676.20,305.06 676.53,305.36 676.85,305.29 677.17,305.52 677.50,305.53 677.82,305.69 678.15,305.93 678.47,305.63 678.79,306.04 679.12,305.92 679.44,306.09 679.77,306.11 680.09,306.17 680.41,306.14 680.74,306.05 681.06,306.68 681.38,306.60 681.71,306.53 682.03,306.40 682.36,306.76 682.68,306.93 683.00,306.85 683.33,306.65 683.65,306.84 683.98,306.99 684.30,307.00 684.62,307.19 684.95,306.99 685.27,307.08 685.60,306.90 685.92,307.38 686.24,307.37 686.57,307.29 686.89,307.17 687.21,307.53 687.54,307.30 687.86,307.36 688.19,307.33 688.51,307.43 688.83,307.53 689.16,307.56 689.48,307.86 689.81,307.86 690.13,307.83 690.45,307.80 690.78,307.90 691.10,307.80 691.42,308.05 691.75,307.94 692.07,308.03 692.40,308.18 692.72,308.08 693.04,308.06 693.37,308.40 693.69,308.11 694.02,308.21 694.34,308.27 694.66,308.36 694.99,308.48 695.31,308.15 695.64,308.51 695.96,308.78 696.28,308.79 696.61,308.79 696.93,308.71 697.25,308.78 697.58,308.72 697.90,308.61 698.23,308.89 698.55,309.00 698.87,308.93 699.20,308.91 699.52,309.04 699.85,308.99 700.17,309.11 700.49,308.94 700.82,308.80 701.14,309.09 701.46,309.16 701.79,308.98 702.11,309.12 702.44,309.19 702.76,308.79 703.08,309.43 703.41,309.25 703.73,309.15 704.06,309.04 704.38,309.01 704.70,309.62 705.03,309.19 705.35,309.33 705.68,309.18 706.00,309.23 706.32,309.36 706.65,309.18 706.97,309.30 707.29,309.30 707.62,309.39 707.94,309.45 708.27,309.34 708.59,309.54 708.91,309.33 709.24,309.35 709.56,309.42 709.89,309.39 710.21,309.53 710.53,309.10 710.86,309.24 711.18,309.20 711.51,309.65 711.83,309.59 712.15,309.41 712.48,309.56 712.80,309.31 713.12,309.50 713.45,309.73 713.77,309.64 714.10,309.83 714.42,309.52 714.74,309.73 715.07,309.62 715.39,309.65 715.72,309.66 716.04,309.73 716.36,309.81 716.69,309.67 717.01,309.72 717.33,309.67 717.66,309.73 717.98,309.61 718.31,309.84 718.63,309.82 718.95,309.78 719.28,309.75 719.60,309.68 719.93,309.66 720.25,309.65 720.57,309.70 720.90,309.92 721.22,309.87 721.55,309.66 721.87,309.72 722.19,310.01 722.52,310.07 722.84,309.98 723.16,310.14 723.49,309.81 723.81,309.96 724.14,309.84 724.46,310.20 724.78,309.99 725.11,310.00 725.43,310.00 725.76,309.88 726.08,309.97 726.40,309.71 726.73,309.94 727.05,309.88 727.37,310.11 727.70,310.19 728.02,310.07 728.35,309.92 728.67,309.92 728.99,310.15 729.32,310.04 729.64,310.05 729.97,309.96 730.29,310.13 730.61,310.13 730.94,310.22 731.26,310.01 731.59,310.13 731.91,309.97 732.23,310.18 732.56,310.16 732.88,310.12 733.20,310.29 733.53,310.03 733.85,310.38 734.18,310.25 734.50,310.28" stroke="#008000" stroke-width="2.5"/>
<polyline points="338.50,279.25 338.83,279.22 339.15,279.22 339.48,279.22 339.80,279.11 340.13,278.94 340.46,278.84 340.78,278.76 341.11,278.60 341.43,278.29 341.76,278.04 342.09,277.81 342.41,277.59 342.74,277.15 343.07,276.73 343.39,276.45 343.72,276.07 344.04,275.86 344.37,275.43 344.70,275.19 345.02,275.28 345.35,275.02 345.67,274.85 346.00,275.17 346.33,275.14 346.65,275.30 346.98,275.72 347.30,275.76 347.63,276.20 347.96,276.55 348.28,276.83 348.61,276.92 348.93,277.12 349.26,277.34 349.59,277.62 349.91,277.37 350.24,277.74 350.57,277.72 350.89,277.86 351.22,277.57 351.54,277.82 351.87,277.56 352.20,277.66 352.52,277.54 352.85,277.26 353.17,277.48 353.50,277.48 353.83,277.48 354.15,277.26 354.48,277.15 354.80,277.31 355.13,277.14 355.46,277.26 355.78,277.25 356.11,277.02 356.43,276.98 356.76,276.88 357.09,276.70 357.41,276.89 357.74,276.94 358.07,276.95 358.39,276.80 358.72,276.99 359.04,276.70 359.37,276.74 359.70,276.67 360.02,276.68 360.35,276.70 360.67,276.67 361.00,276.73 361.33,276.85 361.65,276.89 361.98,276.83 362.30,277.09 362.63,277.03 362.96,277.29 363.28,277.36 363.61,277.26 363.93,277.50 364.26,277.88 364.59,277.85 364.91,278.02 365.24,278.22 365.57,278.46 365.89,278.70 366.22,278.79 366.54,279.22 366.87,279.17 367.20,279.39 367.52,279.63 367.85,279.89 368.17,280.26 368.50,280.58 368.83,280.50 369.15,280.75 369.48,281.06 369.80,281.20 370.13,281.54 370.46,281.55 370.78,281.99 371.11,281.87 371.43,282.40 371.76,282.64 372.09,283.06 372.41,282.88 372.74,283.28 373.07,283.48 373.39,283.49 373.72,283.82 374.04,283.89 374.37,284.03 374.70,284.17 375.02,284.49 375.35,284.56 375.67,284.60 376.00,285.01 376.33,284.92 376.65,285.33 376.98,285.40 377.30,285.39 377.63,285.41 377.96,285.58 378.28,285.61 378.61,285.79 378.93,285.85 379.26,286.22 379.59,285.72 379.91,285.91 380.24,286.05 380.57,286.10 380.89,286.13 381.22,285.85 381.54,286.03 381.87,285.56 382.20,285.82 382.52,285.88 382.85,285.78 383.17,285.43 383.50,285.37 383.83,285.06 384.15,285.03 384.48,284.73 384.80,284.65 385.13,284.21 385.46,284.00 385.78,283.50 386.11,282.99 386.43,282.69 386.76,282.02 387.09,281.06 387.41,280.64 387.74,279.77 388.07,278.98 388.39,277.97 388.72,276.75 389.04,275.92 389.37,274.66 389.70,273.74 390.02,272.79 390.35,271.99 390.67,270.86 391.00,269.94 391.33,269.12 391.65,268.14 391.98,267.68 392.30,267.00 392.63,266.40 392.96,266.13 393.28,265.99 393.61,266.07 393.93,266.28 394.26,266.34 394.59,266.76 394.91,267.53 395.24,268.34 395.57,268.94 395.89,269.59 396.22,270.44 396.54,271.53 396.87,272.50 397.20,273.40 397.52,274.68 397.85,275.84 398.17,276.45 398.50,277.42 398.83,278.37 399.15,279.15 399.48,280.21 399.80,280.70 400.13,281.63 400.46,282.22 400.78,282.82 401.11,283.06 401.43,283.68 401.76,284.08 402.09,284.47 402.41,284.69 402.74,284.81 403.07,285.21 403.39,285.39 403.72,285.52 404.04,285.37 404.37,285.60 404.70,285.49 405.02,285.62 405.35,285.75 405.67,285.51 406.00,286.01 406.33,285.83 406.65,285.58 406.98,285.59 407.30,285.63 407.63,285.60 407.96,285.44 408.28,285.54 408.61,285.34 408.93,285.41 409.26,285.66 409.59,285.40 409.91,285.32 410.24,285.51 410.57,285.32 410.89,285.31 411.22,285.12 411.54,285.26 411.87,285.04 412.20,285.13 412.52,285.04 412.85,285.11 413.17,284.96 413.50,284.77 413.83,284.56 414.15,284.56 414.48,284.40 414.80,284.53 415.13,284.14 415.46,283.72 415.78,283.80 416.11,283.55 416.43,282.98 416.76,282.72 417.09,281.95 417.41,281.51 417.74,280.74 418.07,279.98 418.39,279.09 418.72,277.98 419.04,277.14 419.37,275.94 419.70,275.00 420.02,274.20 420.35,273.06 420.67,272.46 421.00,272.10 421.33,271.72 421.65,271.38 421.98,271.50 422.30,271.95 422.63,272.29 422.96,272.99 423.28,273.53 423.61,274.51 423.93,275.00 424.26,275.92 424.59,276.65 424.91,277.06 425.24,277.43 425.57,277.84 425.89,278.04 426.22,278.66 426.54,278.30 426.87,278.38 427.20,278.51 427.52,278.35 427.85,278.30 428.17,278.13 428.50,277.79 428.83,277.47 429.15,277.14 429.48,276.90 429.80,276.74 430.13,276.41 430.46,276.11 430.78,275.53 431.11,275.34 431.43,275.05 431.76,274.76 432.09,274.40 432.41,274.32 432.74,274.07 433.07,273.87 433.39,273.31 433.72,273.08 434.04,272.82 434.37,272.53 434.70,272.16 435.02,272.07 435.35,271.44 435.67,271.31 436.00,270.80 436.10,270.98 436.17,270.66 436.24,270.60 436.30,270.65 436.37,270.43 436.44,270.49 436.51,270.31 436.58,270.49 436.64,270.00 436.71,269.93 436.78,269.97 436.85,269.79 436.92,269.70 436.98,269.47 437.05,269.47 437.12,269.24 437.19,269.19 437.25,268.69 437.32,268.70 437.39,268.44 437.46,268.31 437.53,267.93 437.59,267.91 437.66,267.41 437.73,267.41 437.80,267.10 437.87,266.53 437.93,266.48 438.00,265.88 438.07,265.84 438.14,265.22 438.21,265.02 438.27,264.60 438.34,264.02 438.41,263.55 438.48,263.36 438.55,262.76 438.61,262.43 438.68,261.76 438.75,261.53 438.82,260.63 438.89,260.20 438.95,259.39 439.02,258.68 439.09,258.03 439.16,257.14 439.23,256.39 439.29,255.88 439.36,254.83 439.43,253.86 439.50,253.18 439.56,252.10 439.63,251.26 439.70,250.41 439.77,249.42 439.84,248.44 439.90,247.30 439.97,246.14 440.04,245.00 440.11,243.81 440.18,242.59 440.24,241.65 440.31,240.14 440.38,239.09 440.45,237.59 440.52,236.45 440.58,234.64 440.65,233.66 440.72,232.21 440.79,231.11 440.86,229.72 440.92,228.07 440.99,226.74 441.06,225.46 441.13,223.98 441.20,222.55 441.26,221.25 441.33,219.58 441.40,218.55 441.47,217.03 441.53,215.27 441.60,214.17 441.67,212.94 441.74,211.93 441.81,210.39 441.87,208.97 441.94,208.11 442.01,206.82 442.08,205.64 442.15,204.68 442.21,203.47 442.28,202.50 442.35,201.70 442.42,200.74 442.49,199.98 442.55,199.04 442.62,198.58 442.69,197.56 442.76,196.98 442.83,196.70 442.89,196.16 442.96,195.85 443.03,195.53 443.10,195.27 443.17,195.01 443.23,195.10 443.30,195.21 443.37,195.02 443.44,195.50 443.51,195.68 443.57,195.68 443.64,196.24 443.71,196.45 443.78,197.07 443.84,197.53 443.91,198.23 443.98,198.78 444.05,199.75 444.12,200.47 444.18,201.38 444.25,202.19 444.32,203.42 444.39,204.69 444.46,205.51 444.52,206.67 444.59,207.72 444.66,209.01 444.73,210.21 444.80,211.41 444.86,212.79 444.93,214.17 445.00,215.62 445.07,216.92 445.14,218.38 445.20,219.90 445.27,221.27 445.34,222.52 445.41,223.78 445.48,225.39 445.54,226.85 445.61,228.37 445.68,229.68 445.75,231.40 445.81,232.42 445.88,233.91 445.95,235.08 446.02,236.41 446.09,237.82 446.15,239.19 446.22,240.53 446.29,241.32 446.36,243.07 446.43,244.32 446.49,245.47 446.56,246.56 446.63,247.57 446.70,248.74 446.77,249.88 446.83,250.64 446.90,251.83 446.97,252.77 447.04,253.63 447.11,254.76 447.17,255.33 447.24,256.13 447.31,257.05 447.38,257.75 447.45,258.73 447.51,259.08 447.58,259.80 447.65,260.64 447.72,261.32 447.78,261.68 447.85,262.54 447.92,262.69 447.99,263.55 448.06,263.81 448.12,264.32 448.19,265.02 448.26,265.21 448.33,265.53 448.40,266.00 448.46,266.54 448.53,266.64 448.60,266.85 448.67,267.25 448.74,267.34 448.80,267.65 448.87,267.90 448.94,268.26 449.01,268.32 449.08,268.62 449.14,268.87 449.21,269.07 449.28,268.82 449.35,269.15 449.42,269.13 449.48,269.45 449.55,269.50 449.62,269.55 449.69,269.56 449.76,269.56 449.82,269.53 449.89,269.88 449.96,269.77 450.03,269.82 450.09,269.86 450.16,269.92 450.23,270.04 450.30,269.77 450.37,269.84 450.43,269.53 450.50,269.63 450.57,269.53 450.64,269.46 450.71,269.59 450.77,269.37 450.84,269.26 450.91,269.14 450.98,268.97 451.05,268.82 451.11,268.60 451.18,268.44 451.25,268.25 451.32,268.07 451.39,267.64 451.45,267.62 451.52,267.34 451.59,267.10 451.66,266.60 451.73,266.28 451.79,266.13 451.86,265.55 451.93,265.28 452.00,264.69 452.06,264.15 452.13,263.61 452.20,263.16 452.27,262.60 452.34,261.89 452.40,261.54 452.47,260.67 452.54,259.82 452.61,259.31 452.68,258.39 452.74,257.32 452.81,256.34 452.88,255.45 452.95,254.51 453.02,253.15 453.08,252.29 453.15,250.87 453.22,249.73 453.29,248.25 453.36,246.90 453.42,245.42 453.49,243.93 453.56,242.05 453.63,240.64 453.70,238.48 453.76,236.79 453.83,234.89 453.90,232.78 453.97,230.77 454.04,228.28 454.10,226.19 454.17,223.95 454.24,221.39 454.31,218.73 454.37,216.26 454.44,213.57 454.51,210.65 454.58,208.06 454.65,204.90 454.71,201.81 454.78,198.84 454.85,195.57 454.92,192.37 454.99,189.10 455.05,185.62 455.12,182.28 455.19,178.72 455.26,175.24 455.33,171.34 455.39,167.78 455.46,164.06 455.53,160.29 455.60,156.19 455.67,152.47 455.73,148.77 455.80,144.91 455.87,140.95 455.94,137.06 456.01,133.29 456.07,129.21 456.14,125.29 456.21,121.71 456.28,117.79 456.34,113.93 456.41,110.14 456.48,106.76 456.55,102.94 456.62,99.37 456.68,96.19 456.75,92.54 456.82,89.47 456.89,86.46 456.96,83.37 457.02,80.49 457.09,77.91 457.16,75.16 457.23,72.89 457.30,70.79 457.36,68.54 457.43,66.98 457.50,65.13 457.57,63.69 457.64,62.39 457.70,61.47 457.77,60.52 457.84,60.00 457.91,59.73 457.98,59.57 458.04,59.30 458.11,59.92 458.18,60.21 458.25,61.03 458.32,61.95 458.38,63.13 458.45,64.39 458.52,66.10 458.59,67.92 458.65,69.69 458.72,71.90 458.79,74.31 458.86,76.82 458.93,79.38 458.99,82.16 459.06,85.12 459.13,88.09 459.20,91.35 459.27,94.57 459.33,97.96 459.40,101.22 459.47,104.86 459.54,108.77 459.61,112.53 459.67,116.26 459.74,120.04 459.81,123.85 459.88,127.84 459.95,131.64 460.01,135.61 460.08,139.72 460.15,143.31 460.22,147.33 460.29,151.28 460.35,154.98 460.42,158.93 460.49,163.03 460.56,166.76 460.62,170.43 460.69,174.31 460.76,177.69 460.83,181.63 460.90,184.93 460.96,188.34 461.03,191.94 461.10,195.21 461.17,198.44 461.24,201.58 461.30,204.49 461.37,207.49 461.44,210.69 461.51,213.67 461.58,216.25 461.64,219.06 461.71,221.48 461.78,224.02 461.85,226.64 461.92,229.10 461.98,231.39 462.05,233.64 462.12,235.53 462.19,237.64 462.26,239.71 462.32,241.38 462.39,243.27 462.46,245.03 462.53,246.68 462.59,248.37 462.66,249.83 462.73,251.17 462.80,252.32 462.87,254.00 462.93,255.27 463.00,256.40 463.07,257.51 463.14,258.60 463.21,259.70 463.27,260.47 463.34,261.43 463.41,262.19 463.48,263.10 463.55,263.80 463.61,264.53 463.68,265.09 463.75,265.96 463.82,266.71 463.89,266.82 463.95,267.87 464.02,268.23 464.09,268.64 464.16,269.22 464.23,269.58 464.29,270.01 464.36,270.57 464.43,270.78 464.50,271.14 464.57,271.38 464.63,271.69 464.70,271.89 464.77,272.24 464.84,272.42 464.90,272.88 464.97,272.94 465.04,273.26 465.11,273.52 465.18,273.67 465.24,273.65 465.31,274.09 465.38,273.82 465.45,274.36 465.52,274.04 465.58,274.36 465.65,274.58 465.72,274.62 465.79,274.57 465.86,274.75 465.92,275.06 465.99,274.92 466.06,275.29 466.13,275.44 466.20,275.55 466.26,275.50 466.33,275.54 466.40,275.57 466.47,276.01 466.54,275.90 466.60,275.90 466.67,275.92 466.74,276.07 466.81,275.78 466.87,276.16 466.94,276.05 467.01,275.89 467.08,276.35 467.15,276.17 467.21,276.36 467.28,276.27 467.35,276.36 467.42,276.64 467.49,276.53 467.55,276.57 467.62,276.38 467.69,276.71 467.76,276.57 467.83,276.74 467.89,276.59 467.96,276.79 468.03,276.85 468.10,276.64 468.17,276.88 468.23,276.77 468.30,277.05 468.37,276.98 468.44,276.97 468.51,277.35 468.57,277.12 468.64,277.00 468.71,277.17 468.78,277.13 468.85,277.28 468.91,277.02 468.98,277.40 469.05,277.13 469.12,277.16 469.18,277.14 469.25,277.21 469.32,277.49 469.39,277.31 469.46,277.17 469.52,277.30 469.59,277.36 469.66,277.46 469.73,277.33 469.80,277.40 469.86,277.74 469.93,277.39 470.00,277.43 470.10,277.30 470.41,277.60 470.73,277.46 471.04,277.75 471.36,277.68 471.67,277.62 471.98,277.44 472.30,277.42 472.61,277.35 472.93,277.33 473.24,277.18 473.55,277.05 473.87,276.99 474.18,276.82 474.50,276.60 474.81,276.56 475.13,276.35 475.44,275.94 475.75,276.03 476.07,275.59 476.38,275.45 476.70,275.29 477.01,274.65 477.32,274.62 477.64,274.42 477.95,274.19 478.27,273.88 478.58,273.64 478.89,273.07 479.21,272.88 479.52,272.80 479.84,272.25 480.15,272.19 480.46,272.01 480.78,271.87 481.09,271.75 481.41,271.51 481.72,271.25 482.03,271.14 482.35,271.24 482.66,271.24 482.98,271.24 483.29,271.28 483.61,271.40 483.92,271.39 484.23,271.77 484.55,272.14 484.86,272.24 485.18,272.80 485.49,273.25 485.80,273.91 486.12,274.13 486.43,274.65 486.75,275.11 487.06,275.73 487.37,276.28 487.69,276.90 488.00,277.84 488.32,278.41 488.63,279.10 488.94,279.52 489.26,280.11 489.57,280.76 489.89,281.77 490.20,282.29 490.51,282.56 490.83,283.29 491.14,283.84 491.46,284.22 491.77,284.76 492.08,285.43 492.40,285.86 492.71,286.32 493.03,286.66 493.34,287.03 493.66,287.44 493.97,287.70 494.28,288.24 494.60,288.37 494.91,288.68 495.23,288.86 495.54,289.03 495.85,289.33 496.17,289.50 496.48,289.63 496.80,290.00 497.11,290.30 497.42,290.24 497.74,290.33 498.05,290.39 498.37,290.42 498.68,290.77 498.99,290.87 499.31,290.80 499.62,291.00 499.94,290.97 500.25,291.32 500.56,291.24 500.88,291.35 501.19,291.56 501.51,291.16 501.82,291.54 502.14,291.58 502.45,291.57 502.76,291.66 503.08,291.86 503.39,291.69 503.71,291.74 504.02,292.07 504.33,292.04 504.65,292.02 504.96,292.11 505.28,292.07 505.59,292.07 505.90,292.14 506.22,292.24 506.53,292.19 506.85,292.11 507.16,292.32 507.47,292.42 507.79,292.42 508.10,292.56 508.42,292.56 508.73,292.69 509.04,292.64 509.36,292.65 509.67,292.78 509.99,292.86 510.30,292.75 510.62,292.74 510.93,293.04 511.24,292.87 511.56,293.01 511.87,292.96 512.19,293.08 512.50,293.25 512.81,293.33 513.13,293.01 513.44,293.03 513.76,292.84 514.07,293.34 514.38,293.49 514.70,293.36 515.01,293.33 515.33,293.49 515.64,293.31 515.95,293.52 516.27,293.63 516.58,293.64 516.90,293.60 517.21,293.47 517.52,293.51 517.84,293.46 518.15,293.80 518.47,293.74 518.78,293.60 519.09,293.61 519.41,293.65 519.72,293.55 520.04,293.69 520.35,293.69 520.67,293.67 520.98,293.62 521.29,293.31 521.61,293.57 521.92,293.41 522.24,293.35 522.55,293.79 522.86,293.44 523.18,293.45 523.49,293.40 523.81,293.30 524.12,293.55 524.43,293.10 524.75,293.33 525.06,293.16 525.38,293.32 525.69,293.22 526.00,293.08 526.32,292.83 526.63,293.04 526.95,293.00 527.26,292.90 527.57,292.72 527.89,292.75 528.20,292.52 528.52,292.56 528.83,292.50 529.15,292.35 529.46,292.18 529.77,292.18 530.09,292.02 530.40,291.90 530.72,292.07 531.03,291.84 531.34,291.71 531.66,291.61 531.97,291.63 532.29,291.44 532.60,291.30" stroke="#ff0000" stroke-width="2.4"/>
</g>
<g stroke="#222" stroke-width="1.4" fill="none">
<polyline points="533.0,30.7 338.0,30.7 338.0,316.4" stroke="#333" stroke-width="1.5"/>
<polyline points="540.5,30.7 735.5,30.7 735.5,316.4" stroke="#333" stroke-width="1.5"/>
<line x1="332.9" y1="316.4" x2="533.0" y2="316.4" stroke-width="1.6"/>
<line x1="540.8" y1="316.4" x2="736.2" y2="316.4" stroke-width="1.6"/>
<line x1="529.5" y1="321.4" x2="537.0" y2="312.0"/><line x1="536.7" y1="321.4" x2="544.0" y2="312.0"/>
<line x1="540.2" y1="316.4" x2="540.2" y2="321.0"/>
<line x1="529.8" y1="35.6" x2="536.8" y2="26.2"/><line x1="536.8" y1="35.6" x2="543.8" y2="25.8"/>
<line x1="338.0" y1="42.90" x2="335.20" y2="42.90"/>
<line x1="338.0" y1="73.30" x2="332.80" y2="73.30"/>
<line x1="338.0" y1="103.70" x2="335.20" y2="103.70"/>
<line x1="338.0" y1="134.10" x2="332.80" y2="134.10"/>
<line x1="338.0" y1="164.50" x2="335.20" y2="164.50"/>
<line x1="338.0" y1="194.90" x2="332.80" y2="194.90"/>
<line x1="338.0" y1="225.30" x2="335.20" y2="225.30"/>
<line x1="338.0" y1="255.70" x2="332.80" y2="255.70"/>
<line x1="338.0" y1="286.10" x2="335.20" y2="286.10"/>
<line x1="348.90" y1="316.4" x2="348.90" y2="321.40"/>
<line x1="375.20" y1="316.4" x2="375.20" y2="319.60"/>
<line x1="401.50" y1="316.4" x2="401.50" y2="321.40"/>
<line x1="427.80" y1="316.4" x2="427.80" y2="319.60"/>
<line x1="454.10" y1="316.4" x2="454.10" y2="321.40"/>
<line x1="480.40" y1="316.4" x2="480.40" y2="319.60"/>
<line x1="506.70" y1="316.4" x2="506.70" y2="321.40"/>
<line x1="533.00" y1="316.4" x2="533.00" y2="319.60"/>
<line x1="590.55" y1="316.4" x2="590.55" y2="319.60"/>
<line x1="638.90" y1="316.4" x2="638.90" y2="321.40"/>
<line x1="687.25" y1="316.4" x2="687.25" y2="319.60"/>
<line x1="735.60" y1="316.4" x2="735.60" y2="321.40"/>
</g>
<g font-weight="bold" font-size="12.2" fill="#111" text-anchor="middle">
<text x="348.90" y="334.8">200</text>
<text x="401.50" y="334.8">300</text>
<text x="454.10" y="334.8">400</text>
<text x="506.70" y="334.8">500</text>
<text x="540.4" y="334.8">1000</text>
<text x="638.90" y="334.8">1500</text>
<text x="735.6" y="334.8">2000</text>
</g>
<text x="475.3" y="360.3" font-size="13.3" font-weight="bold" fill="#111" letter-spacing="0.42">Raman Shift (cm<tspan font-size="7.2" dx="0.9" dy="-6.2" letter-spacing="0.8">-1</tspan><tspan dx="-0.3" dy="6.2">)</tspan></text>
<text transform="translate(313,177.8) rotate(-90)" text-anchor="middle" font-size="14.5" font-weight="bold" fill="#111">Intensity (a.u.)</text>
<text x="343.4" y="52.6" font-size="20" font-weight="bold" fill="#111">(b)</text>
<g stroke-width="2.2"><line x1="636.6" y1="39.6" x2="664.4" y2="39.6" stroke="#ff0a0a"/><line x1="636.6" y1="59.3" x2="664.4" y2="59.3" stroke="#008000"/></g>
<g font-weight="bold" fill="#111" font-size="12">
<text x="666.6" y="43.2">MoS<tspan font-size="6.5" dy="4.8">2</tspan></text>
<text x="666.6" y="62.6">MoS<tspan font-size="6.5" dy="4.8">2</tspan><tspan dy="-4.8">@rGO</tspan></text>
</g>
<g font-weight="bold" fill="#111">
<text x="451.6" y="50.6" font-size="12.8">A<tspan font-size="8.5" dx="0.8" dy="6.4">1g</tspan></text>
<text x="431.5" y="178.6" font-size="12.5">E</text><text x="441" y="170.8" font-size="8.5">1</text><text x="441" y="185" font-size="8.5">2g</text>
<text x="476" y="261.6" font-size="12" letter-spacing="0.4">2LA(M)</text>
<text x="599.6" y="256.9" font-size="17">D</text>
<text x="648.3" y="264.2" font-size="17">G</text>
</g>
<path d="M457.40,57.00L457.40,53.60M457.40,57.00L460.63,55.95M457.40,57.00L454.17,55.95M457.40,57.00L459.40,59.75M457.40,57.00L455.40,59.75" stroke="#f010f0" stroke-width="1.7" stroke-linecap="round" fill="none"/>
<path d="M444.40,189.30L444.40,186.30M444.40,189.30L447.25,188.37M444.40,189.30L441.55,188.37M444.40,189.30L446.16,191.73M444.40,189.30L442.64,191.73" stroke="#f010f0" stroke-width="1.7" stroke-linecap="round" fill="none"/>
<path d="M393.70,258.90L393.70,255.50M393.70,258.90L396.93,257.85M393.70,258.90L390.47,257.85M393.70,258.90L395.70,261.65M393.70,258.90L391.70,261.65" stroke="#f010f0" stroke-width="1.7" stroke-linecap="round" fill="none"/>
<path d="M482.30,265.70L482.30,262.30M482.30,265.70L485.53,264.65M482.30,265.70L479.07,264.65M482.30,265.70L484.30,268.45M482.30,265.70L480.30,268.45" stroke="#f010f0" stroke-width="1.7" stroke-linecap="round" fill="none"/>
<path d="M342.70,206.20L342.70,203.60M342.70,206.20L345.17,205.40M342.70,206.20L340.23,205.40M342.70,206.20L344.23,208.30M342.70,206.20L341.17,208.30" stroke="#f010f0" stroke-width="1.7" stroke-linecap="round" fill="none"/>
<g fill="#2a2af0" font-size="13.2" text-anchor="middle">
<text x="355.7" y="272.6">§</text>
<text x="419.3" y="267.3">§</text>
</g>
<text x="347" y="215.6" font-size="11" font-weight="bold" fill="#111">~</text>
<text x="356.6" y="215.6" font-size="11" font-weight="bold" fill="#ff10ff">2H- MoS<tspan font-size="6.5" dy="5">2</tspan></text>
<text x="339.2" y="235.3" font-size="12.8" fill="#2a2af0" stroke="#2a2af0" stroke-width="0.35">§</text>
<text x="348" y="234" font-size="11" font-weight="bold" fill="#111">~</text>
<text x="358.4" y="234" font-size="11" font-weight="bold" fill="#2a2af0">1T-MoS<tspan font-size="6.5" dy="4.8" dx="0.6">2</tspan></text>
<line x1="474.3" y1="45.1" x2="478.35" y2="49.35" stroke="#ece870" stroke-width="0.8"/><line x1="478.35" y1="49.35" x2="482.4" y2="53.6" stroke="#90dbe0" stroke-width="0.8"/><line x1="472.7" y1="63.1" x2="477.55" y2="58.35" stroke="#ece870" stroke-width="0.8"/><line x1="477.55" y1="58.35" x2="482.4" y2="53.6" stroke="#90dbe0" stroke-width="0.8"/><line x1="492.3" y1="44.4" x2="487.35" y2="49.00" stroke="#ece870" stroke-width="0.8"/><line x1="487.35" y1="49.00" x2="482.4" y2="53.6" stroke="#90dbe0" stroke-width="0.8"/><line x1="490.6" y1="62" x2="486.50" y2="57.80" stroke="#ece870" stroke-width="0.8"/><line x1="486.50" y1="57.80" x2="482.4" y2="53.6" stroke="#90dbe0" stroke-width="0.8"/><line x1="492.3" y1="44.4" x2="496.90" y2="49.45" stroke="#ece870" stroke-width="0.8"/><line x1="496.90" y1="49.45" x2="501.5" y2="54.5" stroke="#90dbe0" stroke-width="0.8"/><line x1="490.6" y1="62" x2="496.05" y2="58.25" stroke="#ece870" stroke-width="0.8"/><line x1="496.05" y1="58.25" x2="501.5" y2="54.5" stroke="#90dbe0" stroke-width="0.8"/><line x1="491.70" y1="41.50" x2="491.70" y2="36.40" stroke="#ff2828" stroke-width="0.9"/><path d="M491.70,32.20L494.20,36.40L489.20,36.40z" fill="#ff1818"/><line x1="490.90" y1="64.50" x2="490.90" y2="69.60" stroke="#ff2828" stroke-width="0.9"/><path d="M490.90,73.80L488.40,69.60L493.40,69.60z" fill="#ff1818"/><circle cx="467.4" cy="48.5" r="1.6" fill="url(#gw)"/><circle cx="476" cy="69.5" r="1.6" fill="url(#gw)"/><circle cx="474.3" cy="45.1" r="2.9" fill="url(#gy)"/><circle cx="492.3" cy="44.4" r="2.9" fill="url(#gy)"/><circle cx="472.7" cy="63.1" r="2.9" fill="url(#gy)"/><circle cx="490.6" cy="62" r="2.9" fill="url(#gy)"/><circle cx="482.4" cy="53.6" r="3.3" fill="url(#gc)"/><circle cx="501.5" cy="54.5" r="3.3" fill="url(#gc)"/>
<line x1="407.9" y1="152.4" x2="412.20" y2="156.95" stroke="#ece870" stroke-width="0.8"/><line x1="412.20" y1="156.95" x2="416.5" y2="161.5" stroke="#90dbe0" stroke-width="0.8"/><line x1="427.2" y1="152.1" x2="421.85" y2="156.80" stroke="#ece870" stroke-width="0.8"/><line x1="421.85" y1="156.80" x2="416.5" y2="161.5" stroke="#90dbe0" stroke-width="0.8"/><line x1="406.6" y1="170.9" x2="411.55" y2="166.20" stroke="#ece870" stroke-width="0.8"/><line x1="411.55" y1="166.20" x2="416.5" y2="161.5" stroke="#90dbe0" stroke-width="0.8"/><line x1="425" y1="170" x2="420.75" y2="165.75" stroke="#ece870" stroke-width="0.8"/><line x1="420.75" y1="165.75" x2="416.5" y2="161.5" stroke="#90dbe0" stroke-width="0.8"/><line x1="427.2" y1="152.1" x2="431.20" y2="157.20" stroke="#ece870" stroke-width="0.8"/><line x1="431.20" y1="157.20" x2="435.2" y2="162.3" stroke="#90dbe0" stroke-width="0.8"/><line x1="425" y1="170" x2="430.10" y2="166.15" stroke="#ece870" stroke-width="0.8"/><line x1="430.10" y1="166.15" x2="435.2" y2="162.3" stroke="#90dbe0" stroke-width="0.8"/><line x1="427.00" y1="150.00" x2="416.80" y2="150.00" stroke="#ff2828" stroke-width="0.9"/><path d="M412.60,150.00L416.80,147.50L416.80,152.50z" fill="#ff1818"/><line x1="425.50" y1="173.40" x2="416.80" y2="173.74" stroke="#ff2828" stroke-width="0.9"/><path d="M412.60,173.90L416.70,171.24L416.89,176.24z" fill="#ff1818"/><line x1="438.80" y1="161.80" x2="446.00" y2="161.80" stroke="#ff2828" stroke-width="0.9"/><path d="M450.20,161.80L446.00,164.30L446.00,159.30z" fill="#ff1818"/><circle cx="402" cy="156.9" r="1.6" fill="url(#gw)"/><circle cx="410.5" cy="176.8" r="1.6" fill="url(#gw)"/><circle cx="407.9" cy="152.4" r="2.9" fill="url(#gy)"/><circle cx="427.2" cy="152.1" r="2.9" fill="url(#gy)"/><circle cx="406.6" cy="170.9" r="2.9" fill="url(#gy)"/><circle cx="425" cy="170" r="2.9" fill="url(#gy)"/><circle cx="416.5" cy="161.5" r="3.3" fill="url(#gc)"/><circle cx="435.2" cy="162.3" r="3.3" fill="url(#gc)"/>
</svg></body></html>
